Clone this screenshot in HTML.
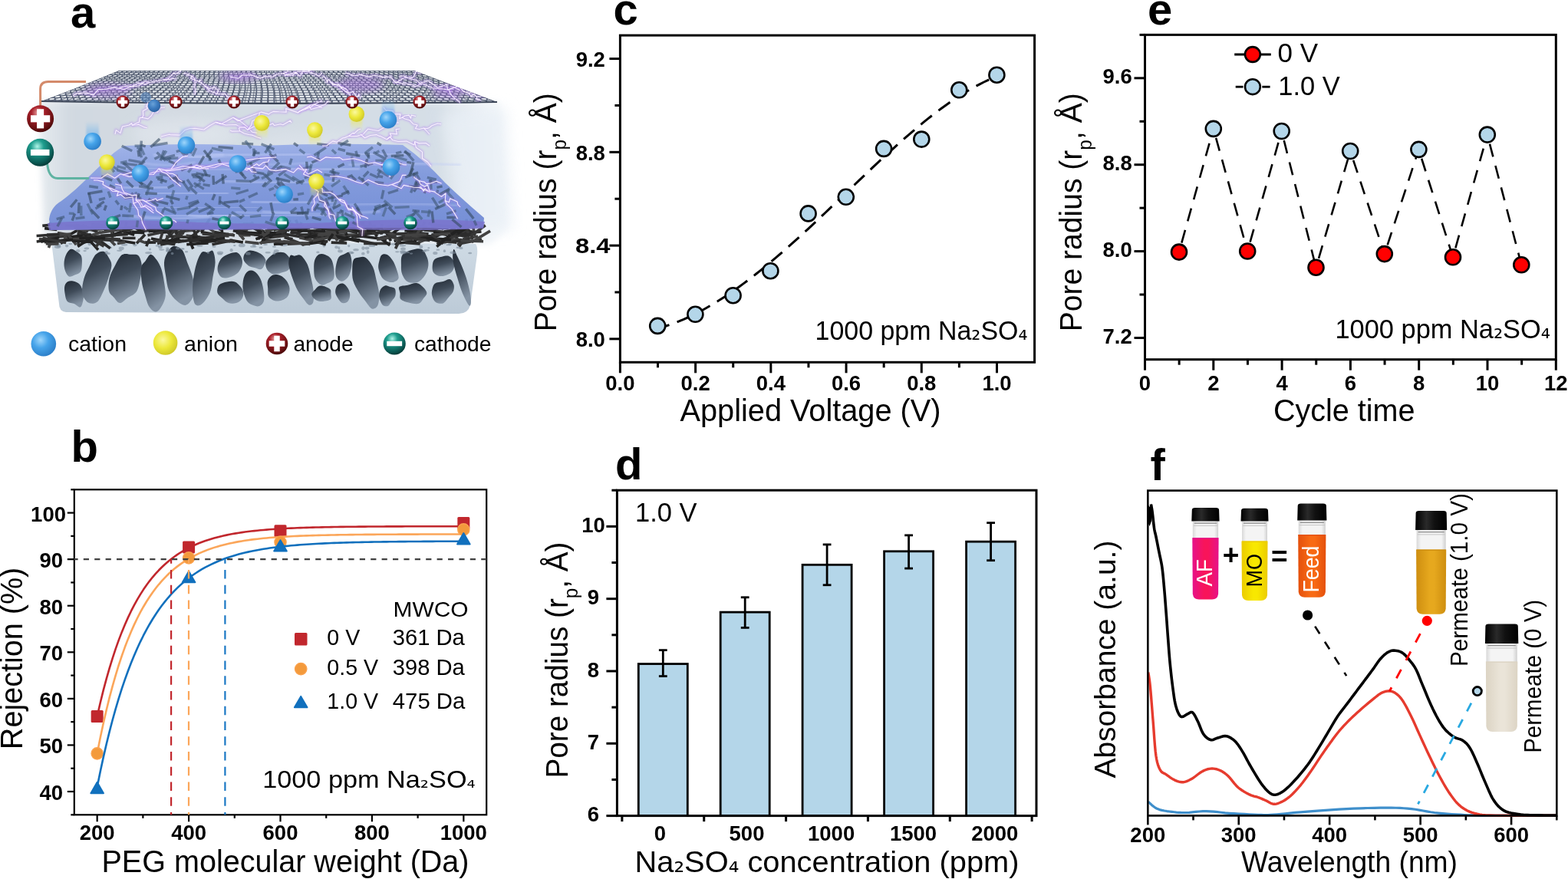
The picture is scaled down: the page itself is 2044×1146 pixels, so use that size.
<!DOCTYPE html>
<html><head><meta charset="utf-8"><title>Figure</title>
<style>html,body{margin:0;padding:0;background:#fff;}svg{display:block;}</style></head>
<body>
<svg width="2044" height="1146" viewBox="0 0 2044 1146" font-family="'Liberation Sans', Arial, sans-serif">
<rect width="2044" height="1146" fill="#fff"/>
<text x="92" y="35.7" font-size="58" font-weight="bold" >a</text>
<text x="92.5" y="601.5" font-size="58" font-weight="bold" >b</text>
<text x="799.5" y="31.5" font-size="58" font-weight="bold" >c</text>
<text x="802" y="624.8" font-size="58" font-weight="bold" >d</text>
<text x="1496" y="31.5" font-size="58" font-weight="bold" >e</text>
<text x="1499.5" y="625.5" font-size="58" font-weight="bold" >f</text>
<line x1="808.4" y1="472.3" x2="808.4" y2="486.3" stroke="#000" stroke-width="3" stroke-linecap="butt" />
<line x1="857.51" y1="472.3" x2="857.51" y2="479.3" stroke="#000" stroke-width="3" stroke-linecap="butt" />
<line x1="906.62" y1="472.3" x2="906.62" y2="486.3" stroke="#000" stroke-width="3" stroke-linecap="butt" />
<line x1="955.73" y1="472.3" x2="955.73" y2="479.3" stroke="#000" stroke-width="3" stroke-linecap="butt" />
<line x1="1004.84" y1="472.3" x2="1004.84" y2="486.3" stroke="#000" stroke-width="3" stroke-linecap="butt" />
<line x1="1053.95" y1="472.3" x2="1053.95" y2="479.3" stroke="#000" stroke-width="3" stroke-linecap="butt" />
<line x1="1103.06" y1="472.3" x2="1103.06" y2="486.3" stroke="#000" stroke-width="3" stroke-linecap="butt" />
<line x1="1152.17" y1="472.3" x2="1152.17" y2="479.3" stroke="#000" stroke-width="3" stroke-linecap="butt" />
<line x1="1201.28" y1="472.3" x2="1201.28" y2="486.3" stroke="#000" stroke-width="3" stroke-linecap="butt" />
<line x1="1250.39" y1="472.3" x2="1250.39" y2="479.3" stroke="#000" stroke-width="3" stroke-linecap="butt" />
<line x1="1299.5" y1="472.3" x2="1299.5" y2="486.3" stroke="#000" stroke-width="3" stroke-linecap="butt" />
<line x1="794.4" y1="441.86" x2="808.4" y2="441.86" stroke="#000" stroke-width="3" stroke-linecap="butt" />
<line x1="801.4" y1="380.98" x2="808.4" y2="380.98" stroke="#000" stroke-width="3" stroke-linecap="butt" />
<line x1="794.4" y1="320.1" x2="808.4" y2="320.1" stroke="#000" stroke-width="3" stroke-linecap="butt" />
<line x1="801.4" y1="259.22" x2="808.4" y2="259.22" stroke="#000" stroke-width="3" stroke-linecap="butt" />
<line x1="794.4" y1="198.34" x2="808.4" y2="198.34" stroke="#000" stroke-width="3" stroke-linecap="butt" />
<line x1="801.4" y1="137.46" x2="808.4" y2="137.46" stroke="#000" stroke-width="3" stroke-linecap="butt" />
<line x1="794.4" y1="76.58" x2="808.4" y2="76.58" stroke="#000" stroke-width="3" stroke-linecap="butt" />
<rect x="808.4" y="46.1" width="540.2" height="426.2" fill="none" stroke="#000" stroke-width="3"/>
<text x="808.4" y="509.4" font-size="27.5" font-weight="bold" text-anchor="middle" >0.0</text>
<text x="906.62" y="509.4" font-size="27.5" font-weight="bold" text-anchor="middle" >0.2</text>
<text x="1004.84" y="509.4" font-size="27.5" font-weight="bold" text-anchor="middle" >0.4</text>
<text x="1103.06" y="509.4" font-size="27.5" font-weight="bold" text-anchor="middle" >0.6</text>
<text x="1201.28" y="509.4" font-size="27.5" font-weight="bold" text-anchor="middle" >0.8</text>
<text x="1299.5" y="509.4" font-size="27.5" font-weight="bold" text-anchor="middle" >1.0</text>
<text x="788.9" y="452.06" font-size="27.5" font-weight="bold" text-anchor="end" >8.0</text>
<text x="788.9" y="208.54" font-size="27.5" font-weight="bold" text-anchor="end" >8.8</text>
<text x="788.9" y="86.78" font-size="27.5" font-weight="bold" text-anchor="end" >9.2</text>
<text x="750" y="330.3" font-size="27.5" font-weight="bold" textLength="45.5" lengthAdjust="spacingAndGlyphs" >8.4</text>
<text x="886.5" y="548.8" font-size="40" textLength="340" lengthAdjust="spacingAndGlyphs" >Applied Voltage (V)</text>
<text transform="translate(725.4,432.2) rotate(-90)" font-size="40" textLength="311" lengthAdjust="spacingAndGlyphs">Pore radius (r<tspan font-size="25" dy="13">p</tspan><tspan dy="-13">, Å)</tspan></text>
<path d="M857,428.3 L862.6,426.74 L868.2,425.01 L873.8,423.13 L879.4,421.09 L885,418.9 L890.6,416.56 L896.2,414.07 L901.8,411.45 L907.4,408.68 L913,405.77 L918.6,402.73 L924.2,399.56 L929.8,396.26 L935.4,392.84 L941,389.3 L946.6,385.64 L952.2,381.87 L957.8,377.98 L963.4,373.99 L969,369.9 L974.6,365.71 L980.2,361.43 L985.8,357.05 L991.4,352.58 L997,348.03 L1002.6,343.4 L1008.2,338.7 L1013.8,333.92 L1019.4,329.07 L1025,324.16 L1030.6,319.19 L1036.2,314.16 L1041.8,309.08 L1047.4,303.95 L1053,298.78 L1058.6,293.56 L1064.2,288.32 L1069.8,283.04 L1075.4,277.74 L1081,272.41 L1086.6,267.07 L1092.2,261.71 L1097.8,256.34 L1103.4,250.98 L1109,245.61 L1114.6,240.25 L1120.2,234.89 L1125.8,229.56 L1131.4,224.24 L1137,218.95 L1142.6,213.69 L1148.2,208.46 L1153.8,203.27 L1159.4,198.13 L1165,193.04 L1170.6,188 L1176.2,183.02 L1181.8,178.11 L1187.4,173.26 L1193,168.5 L1198.6,163.81 L1204.2,159.21 L1209.8,154.7 L1215.4,150.29 L1221,145.99 L1226.6,141.79 L1232.2,137.7 L1237.8,133.74 L1243.4,129.89 L1249,126.19 L1254.6,122.61 L1260.2,119.18 L1265.8,115.9 L1271.4,112.77 L1277,109.8 L1282.6,107 L1288.2,104.37 L1293.8,101.92 L1299.4,99.65" fill="none" stroke="#000" stroke-width="3" stroke-linejoin="round" stroke-dasharray="18.5 10.86" stroke-dashoffset="2.36"/>
<circle cx="857.2" cy="424.9" r="10" fill="#B4D6E9" stroke="#000" stroke-width="2.6" />
<circle cx="906.4" cy="409.8" r="10" fill="#B4D6E9" stroke="#000" stroke-width="2.6" />
<circle cx="955.6" cy="385.2" r="10" fill="#B4D6E9" stroke="#000" stroke-width="2.6" />
<circle cx="1004.4" cy="353.2" r="10" fill="#B4D6E9" stroke="#000" stroke-width="2.6" />
<circle cx="1053.6" cy="278.4" r="10" fill="#B4D6E9" stroke="#000" stroke-width="2.6" />
<circle cx="1102.8" cy="256.8" r="10" fill="#B4D6E9" stroke="#000" stroke-width="2.6" />
<circle cx="1152.1" cy="193.9" r="10" fill="#B4D6E9" stroke="#000" stroke-width="2.6" />
<circle cx="1201.3" cy="181.6" r="10" fill="#B4D6E9" stroke="#000" stroke-width="2.6" />
<circle cx="1250.3" cy="117.3" r="10" fill="#B4D6E9" stroke="#000" stroke-width="2.6" />
<circle cx="1299.4" cy="97.7" r="10" fill="#B4D6E9" stroke="#000" stroke-width="2.6" />
<text x="1062.5" y="443.3" font-size="35" textLength="277" lengthAdjust="spacingAndGlyphs">1000 ppm Na<tspan font-family="DejaVu Sans" font-size="31">₂</tspan><tspan>SO</tspan><tspan font-family="DejaVu Sans" font-size="31">₄</tspan></text>
<line x1="1492.5" y1="468.7" x2="1492.5" y2="482.7" stroke="#000" stroke-width="3" stroke-linecap="butt" />
<line x1="1537.15" y1="468.7" x2="1537.15" y2="475.7" stroke="#000" stroke-width="3" stroke-linecap="butt" />
<line x1="1581.8" y1="468.7" x2="1581.8" y2="482.7" stroke="#000" stroke-width="3" stroke-linecap="butt" />
<line x1="1626.45" y1="468.7" x2="1626.45" y2="475.7" stroke="#000" stroke-width="3" stroke-linecap="butt" />
<line x1="1671.1" y1="468.7" x2="1671.1" y2="482.7" stroke="#000" stroke-width="3" stroke-linecap="butt" />
<line x1="1715.75" y1="468.7" x2="1715.75" y2="475.7" stroke="#000" stroke-width="3" stroke-linecap="butt" />
<line x1="1760.4" y1="468.7" x2="1760.4" y2="482.7" stroke="#000" stroke-width="3" stroke-linecap="butt" />
<line x1="1805.05" y1="468.7" x2="1805.05" y2="475.7" stroke="#000" stroke-width="3" stroke-linecap="butt" />
<line x1="1849.7" y1="468.7" x2="1849.7" y2="482.7" stroke="#000" stroke-width="3" stroke-linecap="butt" />
<line x1="1894.35" y1="468.7" x2="1894.35" y2="475.7" stroke="#000" stroke-width="3" stroke-linecap="butt" />
<line x1="1939" y1="468.7" x2="1939" y2="482.7" stroke="#000" stroke-width="3" stroke-linecap="butt" />
<line x1="1983.65" y1="468.7" x2="1983.65" y2="475.7" stroke="#000" stroke-width="3" stroke-linecap="butt" />
<line x1="2028.3" y1="468.7" x2="2028.3" y2="482.7" stroke="#000" stroke-width="3" stroke-linecap="butt" />
<line x1="1478.5" y1="440.48" x2="1492.5" y2="440.48" stroke="#000" stroke-width="3" stroke-linecap="butt" />
<line x1="1485.5" y1="384.04" x2="1492.5" y2="384.04" stroke="#000" stroke-width="3" stroke-linecap="butt" />
<line x1="1478.5" y1="327.6" x2="1492.5" y2="327.6" stroke="#000" stroke-width="3" stroke-linecap="butt" />
<line x1="1485.5" y1="271.16" x2="1492.5" y2="271.16" stroke="#000" stroke-width="3" stroke-linecap="butt" />
<line x1="1478.5" y1="214.72" x2="1492.5" y2="214.72" stroke="#000" stroke-width="3" stroke-linecap="butt" />
<line x1="1485.5" y1="158.28" x2="1492.5" y2="158.28" stroke="#000" stroke-width="3" stroke-linecap="butt" />
<line x1="1478.5" y1="101.84" x2="1492.5" y2="101.84" stroke="#000" stroke-width="3" stroke-linecap="butt" />
<line x1="1485.5" y1="45.4" x2="1492.5" y2="45.4" stroke="#000" stroke-width="3" stroke-linecap="butt" />
<rect x="1492.5" y="45.4" width="535.8" height="423.3" fill="none" stroke="#000" stroke-width="3"/>
<text x="1492.5" y="509.3" font-size="27.5" font-weight="bold" text-anchor="middle" >0</text>
<text x="1581.8" y="509.3" font-size="27.5" font-weight="bold" text-anchor="middle" >2</text>
<text x="1671.1" y="509.3" font-size="27.5" font-weight="bold" text-anchor="middle" >4</text>
<text x="1760.4" y="509.3" font-size="27.5" font-weight="bold" text-anchor="middle" >6</text>
<text x="1849.7" y="509.3" font-size="27.5" font-weight="bold" text-anchor="middle" >8</text>
<text x="1939" y="509.3" font-size="27.5" font-weight="bold" text-anchor="middle" >10</text>
<text x="2028.3" y="509.3" font-size="27.5" font-weight="bold" text-anchor="middle" >12</text>
<text x="1475.8" y="447.88" font-size="27.5" font-weight="bold" text-anchor="end" >7.2</text>
<text x="1475.8" y="335" font-size="27.5" font-weight="bold" text-anchor="end" >8.0</text>
<text x="1475.8" y="222.12" font-size="27.5" font-weight="bold" text-anchor="end" >8.8</text>
<text x="1475.8" y="109.24" font-size="27.5" font-weight="bold" text-anchor="end" >9.6</text>
<text x="1660" y="548.8" font-size="40" textLength="184.5" lengthAdjust="spacingAndGlyphs" >Cycle time</text>
<text transform="translate(1409.6,432.3) rotate(-90)" font-size="40" textLength="311" lengthAdjust="spacingAndGlyphs">Pore radius (r<tspan font-size="25" dy="13">p</tspan><tspan dy="-13">, Å)</tspan></text>
<line x1="1537" y1="328.6" x2="1581.8" y2="167.9" stroke="#000" stroke-width="2.6" stroke-linecap="butt" stroke-dasharray="17.3 12.07" stroke-dashoffset="16.94"/>
<line x1="1581.8" y1="167.9" x2="1626.2" y2="327.5" stroke="#000" stroke-width="2.6" stroke-linecap="butt" stroke-dasharray="17.3 12.07" stroke-dashoffset="16.94"/>
<line x1="1626.2" y1="327.5" x2="1670.7" y2="171" stroke="#000" stroke-width="2.6" stroke-linecap="butt" stroke-dasharray="17.3 12.07" stroke-dashoffset="16.94"/>
<line x1="1670.7" y1="171" x2="1715.5" y2="348.7" stroke="#000" stroke-width="2.6" stroke-linecap="butt" stroke-dasharray="17.3 12.07" stroke-dashoffset="16.94"/>
<line x1="1715.5" y1="348.7" x2="1760.2" y2="197" stroke="#000" stroke-width="2.6" stroke-linecap="butt" stroke-dasharray="17.3 12.07" stroke-dashoffset="16.94"/>
<line x1="1760.2" y1="197" x2="1804.8" y2="331.1" stroke="#000" stroke-width="2.6" stroke-linecap="butt" stroke-dasharray="17.3 12.07" stroke-dashoffset="16.94"/>
<line x1="1804.8" y1="331.1" x2="1849.4" y2="194.9" stroke="#000" stroke-width="2.6" stroke-linecap="butt" stroke-dasharray="17.3 12.07" stroke-dashoffset="16.94"/>
<line x1="1849.4" y1="194.9" x2="1894" y2="335.3" stroke="#000" stroke-width="2.6" stroke-linecap="butt" stroke-dasharray="17.3 12.07" stroke-dashoffset="16.94"/>
<line x1="1894" y1="335.3" x2="1938.8" y2="175.6" stroke="#000" stroke-width="2.6" stroke-linecap="butt" stroke-dasharray="17.3 12.07" stroke-dashoffset="16.94"/>
<line x1="1938.8" y1="175.6" x2="1983.3" y2="345.3" stroke="#000" stroke-width="2.6" stroke-linecap="butt" stroke-dasharray="17.3 12.07" stroke-dashoffset="16.94"/>
<circle cx="1537" cy="328.6" r="10" fill="#FF0000" stroke="#000" stroke-width="2.6" />
<circle cx="1581.8" cy="167.9" r="10" fill="#B4D6E9" stroke="#000" stroke-width="2.6" />
<circle cx="1626.2" cy="327.5" r="10" fill="#FF0000" stroke="#000" stroke-width="2.6" />
<circle cx="1670.7" cy="171" r="10" fill="#B4D6E9" stroke="#000" stroke-width="2.6" />
<circle cx="1715.5" cy="348.7" r="10" fill="#FF0000" stroke="#000" stroke-width="2.6" />
<circle cx="1760.2" cy="197" r="10" fill="#B4D6E9" stroke="#000" stroke-width="2.6" />
<circle cx="1804.8" cy="331.1" r="10" fill="#FF0000" stroke="#000" stroke-width="2.6" />
<circle cx="1849.4" cy="194.9" r="10" fill="#B4D6E9" stroke="#000" stroke-width="2.6" />
<circle cx="1894" cy="335.3" r="10" fill="#FF0000" stroke="#000" stroke-width="2.6" />
<circle cx="1938.8" cy="175.6" r="10" fill="#B4D6E9" stroke="#000" stroke-width="2.6" />
<circle cx="1983.3" cy="345.3" r="10" fill="#FF0000" stroke="#000" stroke-width="2.6" />
<line x1="1609.2" y1="71" x2="1656.8" y2="71" stroke="#000" stroke-width="2.8" stroke-linecap="butt" />
<circle cx="1632.9" cy="71" r="9.9" fill="#FF0000" stroke="#000" stroke-width="2.6" />
<line x1="1610.7" y1="113.2" x2="1620.5" y2="113.2" stroke="#000" stroke-width="2.8" stroke-linecap="butt" />
<line x1="1645.3" y1="113.2" x2="1655.6" y2="113.2" stroke="#000" stroke-width="2.8" stroke-linecap="butt" />
<circle cx="1632.9" cy="113.2" r="9.9" fill="#B4D6E9" stroke="#000" stroke-width="2.6" />
<text x="1665.6" y="80.5" font-size="34.5" textLength="52.5" lengthAdjust="spacingAndGlyphs" >0 V</text>
<text x="1666.3" y="124" font-size="34.5" textLength="80.5" lengthAdjust="spacingAndGlyphs" >1.0 V</text>
<text x="1740.5" y="440.5" font-size="35" textLength="280.5" lengthAdjust="spacingAndGlyphs">1000 ppm Na<tspan font-family="DejaVu Sans" font-size="31">₂</tspan><tspan>SO</tspan><tspan font-family="DejaVu Sans" font-size="31">₄</tspan></text>
<line x1="810.88" y1="1063.6" x2="810.88" y2="1071.1" stroke="#000" stroke-width="3" stroke-linecap="butt" />
<line x1="917.73" y1="1063.6" x2="917.73" y2="1071.1" stroke="#000" stroke-width="3" stroke-linecap="butt" />
<line x1="1024.58" y1="1063.6" x2="1024.58" y2="1071.1" stroke="#000" stroke-width="3" stroke-linecap="butt" />
<line x1="1131.42" y1="1063.6" x2="1131.42" y2="1071.1" stroke="#000" stroke-width="3" stroke-linecap="butt" />
<line x1="1238.28" y1="1063.6" x2="1238.28" y2="1071.1" stroke="#000" stroke-width="3" stroke-linecap="butt" />
<line x1="1345.12" y1="1063.6" x2="1345.12" y2="1071.1" stroke="#000" stroke-width="3" stroke-linecap="butt" />
<line x1="790.4" y1="1063.6" x2="804.4" y2="1063.6" stroke="#000" stroke-width="3" stroke-linecap="butt" />
<line x1="797.4" y1="1016.44" x2="804.4" y2="1016.44" stroke="#000" stroke-width="3" stroke-linecap="butt" />
<line x1="790.4" y1="969.29" x2="804.4" y2="969.29" stroke="#000" stroke-width="3" stroke-linecap="butt" />
<line x1="797.4" y1="922.13" x2="804.4" y2="922.13" stroke="#000" stroke-width="3" stroke-linecap="butt" />
<line x1="790.4" y1="874.98" x2="804.4" y2="874.98" stroke="#000" stroke-width="3" stroke-linecap="butt" />
<line x1="797.4" y1="827.82" x2="804.4" y2="827.82" stroke="#000" stroke-width="3" stroke-linecap="butt" />
<line x1="790.4" y1="780.67" x2="804.4" y2="780.67" stroke="#000" stroke-width="3" stroke-linecap="butt" />
<line x1="797.4" y1="733.51" x2="804.4" y2="733.51" stroke="#000" stroke-width="3" stroke-linecap="butt" />
<line x1="790.4" y1="686.36" x2="804.4" y2="686.36" stroke="#000" stroke-width="3" stroke-linecap="butt" />
<line x1="797.4" y1="639.2" x2="804.4" y2="639.2" stroke="#000" stroke-width="3" stroke-linecap="butt" />
<rect x="832.3" y="865.55" width="64" height="198.05" fill="#B4D6E9" stroke="#000" stroke-width="2.8"/>
<rect x="939.2" y="798.11" width="64" height="265.49" fill="#B4D6E9" stroke="#000" stroke-width="2.8"/>
<rect x="1046.1" y="736.34" width="64" height="327.26" fill="#B4D6E9" stroke="#000" stroke-width="2.8"/>
<rect x="1152.6" y="718.8" width="64" height="344.8" fill="#B4D6E9" stroke="#000" stroke-width="2.8"/>
<rect x="1259.6" y="706.16" width="64" height="357.44" fill="#B4D6E9" stroke="#000" stroke-width="2.8"/>
<line x1="864.3" y1="847.63" x2="864.3" y2="881.58" stroke="#000" stroke-width="2.8" stroke-linecap="butt" />
<line x1="858.9" y1="847.63" x2="869.7" y2="847.63" stroke="#000" stroke-width="2.8" stroke-linecap="butt" />
<line x1="858.9" y1="881.58" x2="869.7" y2="881.58" stroke="#000" stroke-width="2.8" stroke-linecap="butt" />
<line x1="971.2" y1="778.78" x2="971.2" y2="818.39" stroke="#000" stroke-width="2.8" stroke-linecap="butt" />
<line x1="965.8" y1="778.78" x2="976.6" y2="778.78" stroke="#000" stroke-width="2.8" stroke-linecap="butt" />
<line x1="965.8" y1="818.39" x2="976.6" y2="818.39" stroke="#000" stroke-width="2.8" stroke-linecap="butt" />
<line x1="1078.1" y1="709.93" x2="1078.1" y2="762.75" stroke="#000" stroke-width="2.8" stroke-linecap="butt" />
<line x1="1072.7" y1="709.93" x2="1083.5" y2="709.93" stroke="#000" stroke-width="2.8" stroke-linecap="butt" />
<line x1="1072.7" y1="762.75" x2="1083.5" y2="762.75" stroke="#000" stroke-width="2.8" stroke-linecap="butt" />
<line x1="1184.6" y1="697.86" x2="1184.6" y2="741.06" stroke="#000" stroke-width="2.8" stroke-linecap="butt" />
<line x1="1179.2" y1="697.86" x2="1190" y2="697.86" stroke="#000" stroke-width="2.8" stroke-linecap="butt" />
<line x1="1179.2" y1="741.06" x2="1190" y2="741.06" stroke="#000" stroke-width="2.8" stroke-linecap="butt" />
<line x1="1291.6" y1="681.64" x2="1291.6" y2="730.68" stroke="#000" stroke-width="2.8" stroke-linecap="butt" />
<line x1="1286.2" y1="681.64" x2="1297" y2="681.64" stroke="#000" stroke-width="2.8" stroke-linecap="butt" />
<line x1="1286.2" y1="730.68" x2="1297" y2="730.68" stroke="#000" stroke-width="2.8" stroke-linecap="butt" />
<rect x="804.4" y="639.2" width="546.6" height="424.4" fill="none" stroke="#000" stroke-width="3"/>
<text x="860.5" y="1096" font-size="27.5" font-weight="bold" text-anchor="middle" >0</text>
<text x="973.5" y="1096" font-size="27.5" font-weight="bold" text-anchor="middle" >500</text>
<text x="1083.6" y="1096" font-size="27.5" font-weight="bold" text-anchor="middle" >1000</text>
<text x="1190.5" y="1096" font-size="27.5" font-weight="bold" text-anchor="middle" >1500</text>
<text x="1296.8" y="1096" font-size="27.5" font-weight="bold" text-anchor="middle" >2000</text>
<text x="773.5" y="1071.2" font-size="27.5" font-weight="bold" text-anchor="middle" >6</text>
<text x="773.5" y="976.89" font-size="27.5" font-weight="bold" text-anchor="middle" >7</text>
<text x="773.5" y="882.58" font-size="27.5" font-weight="bold" text-anchor="middle" >8</text>
<text x="773.5" y="788.27" font-size="27.5" font-weight="bold" text-anchor="middle" >9</text>
<text x="773.5" y="693.96" font-size="27.5" font-weight="bold" text-anchor="middle" >10</text>
<text x="828" y="679.7" font-size="34.5" textLength="80.5" lengthAdjust="spacingAndGlyphs" >1.0 V</text>
<text x="827.5" y="1137.2" font-size="39" textLength="501" lengthAdjust="spacingAndGlyphs">Na<tspan font-family="DejaVu Sans" font-size="33.5">₂</tspan><tspan>SO</tspan><tspan font-family="DejaVu Sans" font-size="33.5">₄</tspan><tspan> concentration (ppm)</tspan></text>
<text transform="translate(739.8,1014.5) rotate(-90)" font-size="40" textLength="308" lengthAdjust="spacingAndGlyphs">Pore radius (r<tspan font-size="25" dy="13">p</tspan><tspan dy="-13">, Å)</tspan></text>
<line x1="126.66" y1="1062.3" x2="126.66" y2="1071.3" stroke="#000" stroke-width="2.2" stroke-linecap="butt" />
<line x1="186.37" y1="1062.3" x2="186.37" y2="1066.8" stroke="#000" stroke-width="2.2" stroke-linecap="butt" />
<line x1="246.08" y1="1062.3" x2="246.08" y2="1071.3" stroke="#000" stroke-width="2.2" stroke-linecap="butt" />
<line x1="305.79" y1="1062.3" x2="305.79" y2="1066.8" stroke="#000" stroke-width="2.2" stroke-linecap="butt" />
<line x1="365.5" y1="1062.3" x2="365.5" y2="1071.3" stroke="#000" stroke-width="2.2" stroke-linecap="butt" />
<line x1="425.21" y1="1062.3" x2="425.21" y2="1066.8" stroke="#000" stroke-width="2.2" stroke-linecap="butt" />
<line x1="484.92" y1="1062.3" x2="484.92" y2="1071.3" stroke="#000" stroke-width="2.2" stroke-linecap="butt" />
<line x1="544.63" y1="1062.3" x2="544.63" y2="1066.8" stroke="#000" stroke-width="2.2" stroke-linecap="butt" />
<line x1="604.34" y1="1062.3" x2="604.34" y2="1071.3" stroke="#000" stroke-width="2.2" stroke-linecap="butt" />
<line x1="92.3" y1="1062.3" x2="96.8" y2="1062.3" stroke="#000" stroke-width="2.2" stroke-linecap="butt" />
<line x1="87.8" y1="1032.01" x2="96.8" y2="1032.01" stroke="#000" stroke-width="2.2" stroke-linecap="butt" />
<line x1="92.3" y1="1001.73" x2="96.8" y2="1001.73" stroke="#000" stroke-width="2.2" stroke-linecap="butt" />
<line x1="87.8" y1="971.44" x2="96.8" y2="971.44" stroke="#000" stroke-width="2.2" stroke-linecap="butt" />
<line x1="92.3" y1="941.16" x2="96.8" y2="941.16" stroke="#000" stroke-width="2.2" stroke-linecap="butt" />
<line x1="87.8" y1="910.87" x2="96.8" y2="910.87" stroke="#000" stroke-width="2.2" stroke-linecap="butt" />
<line x1="92.3" y1="880.59" x2="96.8" y2="880.59" stroke="#000" stroke-width="2.2" stroke-linecap="butt" />
<line x1="87.8" y1="850.3" x2="96.8" y2="850.3" stroke="#000" stroke-width="2.2" stroke-linecap="butt" />
<line x1="92.3" y1="820.01" x2="96.8" y2="820.01" stroke="#000" stroke-width="2.2" stroke-linecap="butt" />
<line x1="87.8" y1="789.73" x2="96.8" y2="789.73" stroke="#000" stroke-width="2.2" stroke-linecap="butt" />
<line x1="92.3" y1="759.44" x2="96.8" y2="759.44" stroke="#000" stroke-width="2.2" stroke-linecap="butt" />
<line x1="87.8" y1="729.16" x2="96.8" y2="729.16" stroke="#000" stroke-width="2.2" stroke-linecap="butt" />
<line x1="92.3" y1="698.87" x2="96.8" y2="698.87" stroke="#000" stroke-width="2.2" stroke-linecap="butt" />
<line x1="87.8" y1="668.59" x2="96.8" y2="668.59" stroke="#000" stroke-width="2.2" stroke-linecap="butt" />
<line x1="92.3" y1="638.3" x2="96.8" y2="638.3" stroke="#000" stroke-width="2.2" stroke-linecap="butt" />
<rect x="96.8" y="638.3" width="537.4" height="424" fill="none" stroke="#000" stroke-width="2.2"/>
<text x="126.66" y="1094.8" font-size="27.5" font-weight="bold" text-anchor="middle" >200</text>
<text x="246.08" y="1094.8" font-size="27.5" font-weight="bold" text-anchor="middle" >400</text>
<text x="365.5" y="1094.8" font-size="27.5" font-weight="bold" text-anchor="middle" >600</text>
<text x="484.92" y="1094.8" font-size="27.5" font-weight="bold" text-anchor="middle" >800</text>
<text x="604.34" y="1094.8" font-size="27.5" font-weight="bold" text-anchor="middle" >1000</text>
<text x="82.1" y="1043.01" font-size="27.5" font-weight="bold" text-anchor="end" >40</text>
<text x="82.1" y="982.44" font-size="27.5" font-weight="bold" text-anchor="end" >50</text>
<text x="82.1" y="921.87" font-size="27.5" font-weight="bold" text-anchor="end" >60</text>
<text x="82.1" y="861.3" font-size="27.5" font-weight="bold" text-anchor="end" >70</text>
<text x="82.1" y="800.73" font-size="27.5" font-weight="bold" text-anchor="end" >80</text>
<text x="82.1" y="740.16" font-size="27.5" font-weight="bold" text-anchor="end" >90</text>
<text x="86" y="679.59" font-size="27.5" font-weight="bold" text-anchor="end" >100</text>
<text x="132.5" y="1137" font-size="40" textLength="479" lengthAdjust="spacingAndGlyphs" >PEG molecular weight (Da)</text>
<text transform="translate(28.7,977.2) rotate(-90)" font-size="40" textLength="237.5" lengthAdjust="spacingAndGlyphs" >Rejection (%)</text>
<path d="M126.66,933.89 L130.67,916.42 L134.68,900.17 L138.7,885.08 L142.71,871.05 L146.73,858.01 L150.74,845.89 L154.75,834.62 L158.77,824.15 L162.78,814.41 L166.8,805.37 L170.81,796.96 L174.83,789.14 L178.84,781.88 L182.85,775.13 L186.87,768.85 L190.88,763.02 L194.9,757.6 L198.91,752.56 L202.93,747.87 L206.94,743.52 L210.95,739.47 L214.97,735.71 L218.98,732.22 L223,728.97 L227.01,725.95 L231.02,723.14 L235.04,720.53 L239.05,718.11 L243.07,715.85 L247.08,713.76 L251.1,711.81 L255.11,710 L259.12,708.32 L263.14,706.76 L267.15,705.3 L271.17,703.95 L275.18,702.7 L279.19,701.53 L283.21,700.44 L287.22,699.44 L291.24,698.5 L295.25,697.63 L299.27,696.82 L303.28,696.07 L307.29,695.37 L311.31,694.72 L315.32,694.11 L319.34,693.55 L323.35,693.03 L327.37,692.54 L331.38,692.09 L335.39,691.67 L339.41,691.28 L343.42,690.92 L347.44,690.59 L351.45,690.27 L355.46,689.98 L359.48,689.71 L363.49,689.46 L367.51,689.23 L371.52,689.01 L375.54,688.81 L379.55,688.62 L383.56,688.45 L387.58,688.29 L391.59,688.14 L395.61,688 L399.62,687.87 L403.63,687.74 L407.65,687.63 L411.66,687.53 L415.68,687.43 L419.69,687.34 L423.71,687.26 L427.72,687.18 L431.73,687.11 L435.75,687.04 L439.76,686.98 L443.78,686.92 L447.79,686.86 L451.81,686.81 L455.82,686.77 L459.83,686.72 L463.85,686.68 L467.86,686.65 L471.88,686.61 L475.89,686.58 L479.9,686.55 L483.92,686.52 L487.93,686.49 L491.95,686.47 L495.96,686.45 L499.98,686.43 L503.99,686.41 L508,686.39 L512.02,686.37 L516.03,686.36 L520.05,686.34 L524.06,686.33 L528.07,686.32 L532.09,686.3 L536.1,686.29 L540.12,686.28 L544.13,686.27 L548.15,686.27 L552.16,686.26 L556.17,686.25 L560.19,686.24 L564.2,686.24 L568.22,686.23 L572.23,686.23 L576.25,686.22 L580.26,686.22 L584.27,686.21 L588.29,686.21 L592.3,686.2 L596.32,686.2 L600.33,686.2 L604.34,686.19" fill="none" stroke="#C1272D" stroke-width="2.6" stroke-linejoin="round" />
<rect x="118.66" y="925.89" width="16" height="16" fill="#C1272D" rx="1.5"/>
<rect x="238.08" y="705.41" width="16" height="16" fill="#C1272D" rx="1.5"/>
<rect x="357.5" y="684.21" width="16" height="16" fill="#C1272D" rx="1.5"/>
<rect x="596.34" y="673.91" width="16" height="16" fill="#C1272D" rx="1.5"/>
<path d="M126.66,982.35 L130.67,962.06 L134.68,943.21 L138.7,925.69 L142.71,909.42 L146.73,894.31 L150.74,880.27 L154.75,867.22 L158.77,855.1 L162.78,843.84 L166.8,833.38 L170.81,823.66 L174.83,814.64 L178.84,806.25 L182.85,798.46 L186.87,791.22 L190.88,784.49 L194.9,778.24 L198.91,772.44 L202.93,767.04 L206.94,762.03 L210.95,757.38 L214.97,753.06 L218.98,749.04 L223,745.31 L227.01,741.84 L231.02,738.62 L235.04,735.62 L239.05,732.84 L243.07,730.26 L247.08,727.86 L251.1,725.63 L255.11,723.56 L259.12,721.64 L263.14,719.85 L267.15,718.19 L271.17,716.65 L275.18,715.21 L279.19,713.88 L283.21,712.64 L287.22,711.49 L291.24,710.43 L295.25,709.43 L299.27,708.51 L303.28,707.66 L307.29,706.86 L311.31,706.12 L315.32,705.44 L319.34,704.8 L323.35,704.21 L327.37,703.65 L331.38,703.14 L335.39,702.67 L339.41,702.23 L343.42,701.82 L347.44,701.44 L351.45,701.08 L355.46,700.75 L359.48,700.45 L363.49,700.16 L367.51,699.9 L371.52,699.66 L375.54,699.43 L379.55,699.22 L383.56,699.02 L387.58,698.84 L391.59,698.67 L395.61,698.51 L399.62,698.36 L403.63,698.23 L407.65,698.1 L411.66,697.98 L415.68,697.88 L419.69,697.77 L423.71,697.68 L427.72,697.59 L431.73,697.51 L435.75,697.44 L439.76,697.37 L443.78,697.3 L447.79,697.24 L451.81,697.18 L455.82,697.13 L459.83,697.08 L463.85,697.04 L467.86,697 L471.88,696.96 L475.89,696.92 L479.9,696.89 L483.92,696.86 L487.93,696.83 L491.95,696.8 L495.96,696.78 L499.98,696.75 L503.99,696.73 L508,696.71 L512.02,696.69 L516.03,696.68 L520.05,696.66 L524.06,696.64 L528.07,696.63 L532.09,696.62 L536.1,696.61 L540.12,696.59 L544.13,696.58 L548.15,696.57 L552.16,696.57 L556.17,696.56 L560.19,696.55 L564.2,696.54 L568.22,696.54 L572.23,696.53 L576.25,696.52 L580.26,696.52 L584.27,696.51 L588.29,696.51 L592.3,696.5 L596.32,696.5 L600.33,696.5 L604.34,696.49" fill="none" stroke="#FBA65A" stroke-width="2.6" stroke-linejoin="round" />
<circle cx="126.66" cy="982.35" r="7.6" fill="#F39A3C" stroke="#FBA24E" stroke-width="1.4" />
<circle cx="246.08" cy="727.34" r="7.6" fill="#F39A3C" stroke="#FBA24E" stroke-width="1.4" />
<circle cx="365.5" cy="706.75" r="7.6" fill="#F39A3C" stroke="#FBA24E" stroke-width="1.4" />
<circle cx="604.34" cy="690.39" r="7.6" fill="#F39A3C" stroke="#FBA24E" stroke-width="1.4" />
<path d="M126.66,1025.96 L130.67,1006.17 L134.68,987.61 L138.7,970.19 L142.71,953.85 L146.73,938.52 L150.74,924.14 L154.75,910.64 L158.77,897.98 L162.78,886.09 L166.8,874.95 L170.81,864.49 L174.83,854.67 L178.84,845.46 L182.85,836.82 L186.87,828.72 L190.88,821.11 L194.9,813.98 L198.91,807.28 L202.93,801 L206.94,795.1 L210.95,789.57 L214.97,784.39 L218.98,779.52 L223,774.95 L227.01,770.66 L231.02,766.64 L235.04,762.87 L239.05,759.33 L243.07,756.01 L247.08,752.89 L251.1,749.97 L255.11,747.22 L259.12,744.65 L263.14,742.23 L267.15,739.97 L271.17,737.84 L275.18,735.85 L279.19,733.98 L283.21,732.22 L287.22,730.57 L291.24,729.03 L295.25,727.58 L299.27,726.22 L303.28,724.94 L307.29,723.74 L311.31,722.62 L315.32,721.56 L319.34,720.57 L323.35,719.64 L327.37,718.77 L331.38,717.95 L335.39,717.19 L339.41,716.47 L343.42,715.79 L347.44,715.16 L351.45,714.57 L355.46,714.01 L359.48,713.48 L363.49,712.99 L367.51,712.53 L371.52,712.1 L375.54,711.7 L379.55,711.32 L383.56,710.96 L387.58,710.62 L391.59,710.31 L395.61,710.01 L399.62,709.74 L403.63,709.48 L407.65,709.23 L411.66,709.01 L415.68,708.79 L419.69,708.59 L423.71,708.4 L427.72,708.23 L431.73,708.06 L435.75,707.9 L439.76,707.76 L443.78,707.62 L447.79,707.49 L451.81,707.37 L455.82,707.26 L459.83,707.15 L463.85,707.05 L467.86,706.96 L471.88,706.87 L475.89,706.79 L479.9,706.71 L483.92,706.64 L487.93,706.57 L491.95,706.5 L495.96,706.44 L499.98,706.39 L503.99,706.34 L508,706.29 L512.02,706.24 L516.03,706.2 L520.05,706.16 L524.06,706.12 L528.07,706.08 L532.09,706.05 L536.1,706.02 L540.12,705.99 L544.13,705.96 L548.15,705.93 L552.16,705.91 L556.17,705.88 L560.19,705.86 L564.2,705.84 L568.22,705.82 L572.23,705.81 L576.25,705.79 L580.26,705.77 L584.27,705.76 L588.29,705.74 L592.3,705.73 L596.32,705.72 L600.33,705.71 L604.34,705.7" fill="none" stroke="#1170BD" stroke-width="2.6" stroke-linejoin="round" />
<path d="M126.66,1019.78 L134.96,1034.18 L118.36,1034.18 Z" fill="#1170BD" stroke="#1170BD" stroke-width="2" stroke-linejoin="round"/>
<path d="M246.08,744.79 L254.38,759.19 L237.78,759.19 Z" fill="#1170BD" stroke="#1170BD" stroke-width="2" stroke-linejoin="round"/>
<path d="M365.5,704.2 L373.8,718.6 L357.2,718.6 Z" fill="#1170BD" stroke="#1170BD" stroke-width="2" stroke-linejoin="round"/>
<path d="M604.34,695.12 L612.64,709.52 L596.04,709.52 Z" fill="#1170BD" stroke="#1170BD" stroke-width="2" stroke-linejoin="round"/>
<line x1="96.8" y1="729.16" x2="634.2" y2="729.16" stroke="#404040" stroke-width="2.4" stroke-linecap="butt" stroke-dasharray="7.2 7.2" stroke-dashoffset="2.4"/>
<line x1="223.1" y1="729.16" x2="223.1" y2="1062.3" stroke="#C1272D" stroke-width="2.2" stroke-linecap="butt" stroke-dasharray="11.5 8.25" stroke-dashoffset="6"/>
<line x1="246" y1="729.16" x2="246" y2="1062.3" stroke="#FBA65A" stroke-width="2.2" stroke-linecap="butt" stroke-dasharray="11.5 8.25" stroke-dashoffset="6"/>
<line x1="293.4" y1="729.16" x2="293.4" y2="1062.3" stroke="#1A78C4" stroke-width="2.2" stroke-linecap="butt" stroke-dasharray="11.5 8.25" stroke-dashoffset="6"/>
<text x="512.5" y="803.5" font-size="28.5" textLength="98" lengthAdjust="spacingAndGlyphs" >MWCO</text>
<rect x="384" y="825" width="16.5" height="16.5" fill="#C1272D" rx="1.5"/>
<circle cx="392.2" cy="872.1" r="7.7" fill="#F39A3C" stroke="#FBA24E" stroke-width="1.4" />
<path d="M392.2,907.9 L400.5,922.3 L383.9,922.3 Z" fill="#1170BD" stroke="#1170BD" stroke-width="2" stroke-linejoin="round"/>
<text x="426.3" y="840.8" font-size="28.6" >0 V</text>
<text x="511.8" y="840.8" font-size="28.6" textLength="94" lengthAdjust="spacingAndGlyphs" >361 Da</text>
<text x="426.3" y="880.4" font-size="28.6" >0.5 V</text>
<text x="511.8" y="880.4" font-size="28.6" textLength="94" lengthAdjust="spacingAndGlyphs" >398 Da</text>
<text x="426.3" y="924.4" font-size="28.6" >1.0 V</text>
<text x="511.8" y="924.4" font-size="28.6" textLength="94.5" lengthAdjust="spacingAndGlyphs" >475 Da</text>
<text x="342.2" y="1027" font-size="32" textLength="277.5" lengthAdjust="spacingAndGlyphs">1000 ppm Na<tspan font-family="DejaVu Sans" font-size="26">₂</tspan><tspan>SO</tspan><tspan font-family="DejaVu Sans" font-size="26">₄</tspan></text>
<line x1="1496.3" y1="1063.4" x2="1496.3" y2="1075.4" stroke="#000" stroke-width="2.6" stroke-linecap="butt" />
<line x1="1555.52" y1="1063.4" x2="1555.52" y2="1069.4" stroke="#000" stroke-width="2.6" stroke-linecap="butt" />
<line x1="1614.74" y1="1063.4" x2="1614.74" y2="1075.4" stroke="#000" stroke-width="2.6" stroke-linecap="butt" />
<line x1="1673.97" y1="1063.4" x2="1673.97" y2="1069.4" stroke="#000" stroke-width="2.6" stroke-linecap="butt" />
<line x1="1733.19" y1="1063.4" x2="1733.19" y2="1075.4" stroke="#000" stroke-width="2.6" stroke-linecap="butt" />
<line x1="1792.41" y1="1063.4" x2="1792.41" y2="1069.4" stroke="#000" stroke-width="2.6" stroke-linecap="butt" />
<line x1="1851.63" y1="1063.4" x2="1851.63" y2="1075.4" stroke="#000" stroke-width="2.6" stroke-linecap="butt" />
<line x1="1910.86" y1="1063.4" x2="1910.86" y2="1069.4" stroke="#000" stroke-width="2.6" stroke-linecap="butt" />
<line x1="1970.08" y1="1063.4" x2="1970.08" y2="1075.4" stroke="#000" stroke-width="2.6" stroke-linecap="butt" />
<line x1="2029.3" y1="1063.4" x2="2029.3" y2="1069.4" stroke="#000" stroke-width="2.6" stroke-linecap="butt" />
<text x="1496.3" y="1098.3" font-size="27.5" font-weight="bold" text-anchor="middle" >200</text>
<text x="1614.74" y="1098.3" font-size="27.5" font-weight="bold" text-anchor="middle" >300</text>
<text x="1733.19" y="1098.3" font-size="27.5" font-weight="bold" text-anchor="middle" >400</text>
<text x="1851.63" y="1098.3" font-size="27.5" font-weight="bold" text-anchor="middle" >500</text>
<text x="1970.08" y="1098.3" font-size="27.5" font-weight="bold" text-anchor="middle" >600</text>
<text x="1618" y="1136.5" font-size="38" textLength="282" lengthAdjust="spacingAndGlyphs" >Wavelength (nm)</text>
<text transform="translate(1454.2,1014.6) rotate(-90)" font-size="39.5" textLength="310" lengthAdjust="spacingAndGlyphs" >Absorbance (a.u.)</text>
<path d="M1496.8,1045.3 L1498.03,1046.38 L1499.66,1047.91 L1501.63,1049.71 L1503.86,1051.56 L1506.27,1053.26 L1508.8,1054.6 L1511.53,1055.58 L1514.53,1056.37 L1517.72,1057.01 L1521.01,1057.54 L1524.3,1057.99 L1527.5,1058.4 L1530.54,1058.77 L1533.48,1059.08 L1536.43,1059.31 L1539.47,1059.46 L1542.73,1059.52 L1546.3,1059.5 L1550.21,1059.3 L1554.37,1058.92 L1558.75,1058.45 L1563.28,1058 L1567.92,1057.69 L1572.6,1057.6 L1577.3,1057.79 L1582.05,1058.19 L1586.9,1058.71 L1591.91,1059.28 L1597.12,1059.84 L1602.6,1060.3 L1608.62,1060.7 L1615.2,1061.1 L1621.98,1061.47 L1628.63,1061.81 L1634.78,1062.1 L1640.1,1062.3 L1644.25,1062.44 L1647.45,1062.54 L1650.16,1062.59 L1652.85,1062.56 L1655.97,1062.43 L1660,1062.2 L1664.76,1061.83 L1669.85,1061.34 L1675.38,1060.76 L1681.45,1060.11 L1688.19,1059.45 L1695.7,1058.8 L1704.33,1058.12 L1714.06,1057.36 L1724.44,1056.58 L1735.06,1055.83 L1745.45,1055.15 L1755.2,1054.6 L1764.5,1054.16 L1773.73,1053.79 L1782.76,1053.49 L1791.41,1053.28 L1799.54,1053.15 L1807,1053.1 L1813.62,1053.14 L1819.5,1053.25 L1824.86,1053.45 L1829.92,1053.74 L1834.89,1054.12 L1840,1054.6 L1845.13,1055.25 L1850.07,1056.06 L1854.94,1056.97 L1859.81,1057.9 L1864.8,1058.77 L1870,1059.5 L1875.41,1060.09 L1880.96,1060.62 L1886.62,1061.08 L1892.37,1061.49 L1898.17,1061.86 L1904,1062.2 L1909.27,1062.5 L1913.89,1062.76 L1918.57,1062.97 L1924.01,1063.14 L1930.92,1063.29 L1940,1063.4 L1952.78,1063.47 L1969.01,1063.49 L1986.7,1063.48 L2003.89,1063.44 L2018.62,1063.41 L2028.9,1063.4" fill="none" stroke="#3F8FCB" stroke-width="3.2" stroke-linejoin="round" />
<path d="M1496.8,876.4 L1497.07,878.14 L1497.43,880.3 L1497.87,882.99 L1498.36,886.3 L1498.87,890.33 L1499.4,895.2 L1499.95,901.18 L1500.55,908.26 L1501.18,916.06 L1501.82,924.23 L1502.46,932.4 L1503.1,940.2 L1503.71,948 L1504.29,956.17 L1504.88,964.34 L1505.5,972.14 L1506.16,979.22 L1506.9,985.2 L1507.71,990 L1508.56,993.9 L1509.47,997.06 L1510.43,999.68 L1511.44,1001.93 L1512.5,1004 L1513.6,1005.68 L1514.72,1006.77 L1515.89,1007.51 L1517.15,1008.08 L1518.51,1008.71 L1520,1009.6 L1521.66,1010.8 L1523.49,1012.14 L1525.42,1013.54 L1527.4,1014.89 L1529.38,1016.11 L1531.3,1017.1 L1533.17,1017.9 L1535.04,1018.59 L1536.9,1019.15 L1538.76,1019.54 L1540.63,1019.73 L1542.5,1019.7 L1544.36,1019.42 L1546.19,1018.9 L1548.03,1018.19 L1549.9,1017.32 L1551.81,1016.31 L1553.8,1015.2 L1555.9,1013.86 L1558.1,1012.25 L1560.35,1010.51 L1562.6,1008.77 L1564.8,1007.19 L1566.9,1005.9 L1568.89,1004.88 L1570.8,1004.01 L1572.67,1003.3 L1574.51,1002.74 L1576.34,1002.34 L1578.2,1002.1 L1580.07,1002.02 L1581.94,1002.1 L1583.8,1002.34 L1585.66,1002.74 L1587.53,1003.29 L1589.4,1004 L1591.26,1004.84 L1593.09,1005.81 L1594.93,1006.93 L1596.8,1008.24 L1598.71,1009.75 L1600.7,1011.5 L1602.76,1013.63 L1604.86,1016.15 L1607.02,1018.88 L1609.23,1021.64 L1611.49,1024.24 L1613.8,1026.5 L1616.23,1028.46 L1618.8,1030.26 L1621.42,1031.91 L1624.01,1033.4 L1626.5,1034.73 L1628.8,1035.9 L1630.91,1036.83 L1632.87,1037.51 L1634.74,1038.04 L1636.53,1038.49 L1638.27,1038.94 L1640,1039.5 L1641.68,1040.13 L1643.28,1040.77 L1644.84,1041.43 L1646.39,1042.09 L1647.96,1042.78 L1649.6,1043.5 L1651.31,1044.34 L1653.06,1045.33 L1654.84,1046.33 L1656.64,1047.24 L1658.43,1047.94 L1660.2,1048.3 L1661.94,1048.32 L1663.67,1048.08 L1665.39,1047.63 L1667.13,1047.01 L1668.89,1046.25 L1670.7,1045.4 L1672.54,1044.47 L1674.39,1043.44 L1676.26,1042.27 L1678.18,1040.94 L1680.16,1039.43 L1682.2,1037.7 L1684.34,1035.73 L1686.56,1033.54 L1688.83,1031.16 L1691.13,1028.63 L1693.43,1026 L1695.7,1023.3 L1697.94,1020.51 L1700.17,1017.59 L1702.41,1014.56 L1704.64,1011.46 L1706.87,1008.29 L1709.1,1005.1 L1711.36,1001.8 L1713.64,998.37 L1715.92,994.88 L1718.17,991.42 L1720.38,988.06 L1722.5,984.9 L1724.53,981.95 L1726.47,979.14 L1728.36,976.45 L1730.23,973.82 L1732.1,971.22 L1734,968.6 L1735.91,965.97 L1737.79,963.36 L1739.68,960.78 L1741.6,958.23 L1743.56,955.7 L1745.6,953.2 L1747.71,950.74 L1749.86,948.32 L1752.06,945.93 L1754.32,943.56 L1756.63,941.18 L1759,938.8 L1761.43,936.41 L1763.92,934.03 L1766.46,931.65 L1769.06,929.27 L1771.71,926.89 L1774.4,924.5 L1777.25,922.02 L1780.28,919.43 L1783.36,916.83 L1786.36,914.34 L1789.15,912.06 L1791.6,910.1 L1793.65,908.47 L1795.4,907.1 L1796.93,905.94 L1798.35,904.95 L1799.74,904.08 L1801.2,903.3 L1802.7,902.6 L1804.17,902.03 L1805.61,901.58 L1807.04,901.26 L1808.47,901.07 L1809.9,901 L1811.33,901.03 L1812.74,901.16 L1814.14,901.41 L1815.56,901.82 L1817.01,902.44 L1818.5,903.3 L1820.02,904.34 L1821.56,905.53 L1823.12,906.92 L1824.72,908.58 L1826.38,910.55 L1828.1,912.9 L1829.92,915.74 L1831.84,919.04 L1833.82,922.67 L1835.8,926.47 L1837.74,930.29 L1839.6,934 L1841.32,937.54 L1842.94,941.02 L1844.52,944.52 L1846.13,948.15 L1847.83,951.98 L1849.7,956.1 L1851.76,960.62 L1853.97,965.47 L1856.28,970.53 L1858.64,975.66 L1860.99,980.73 L1863.3,985.6 L1865.57,990.32 L1867.83,995 L1870.1,999.62 L1872.37,1004.15 L1874.63,1008.55 L1876.9,1012.8 L1879.17,1016.92 L1881.43,1020.96 L1883.7,1024.86 L1885.97,1028.61 L1888.23,1032.17 L1890.5,1035.5 L1892.71,1038.61 L1894.86,1041.53 L1897.01,1044.25 L1899.23,1046.79 L1901.57,1049.13 L1904.1,1051.3 L1906.76,1053.28 L1909.49,1055.07 L1912.35,1056.67 L1915.4,1058.09 L1918.69,1059.33 L1922.3,1060.4 L1925.71,1061.25 L1928.77,1061.87 L1932.08,1062.32 L1936.23,1062.64 L1941.84,1062.88 L1949.5,1063.1 L1960.63,1063.26 L1975.04,1063.3 L1990.9,1063.27 L2006.38,1063.2 L2019.66,1063.13 L2028.9,1063.1" fill="none" stroke="#E63B2E" stroke-width="3.4" stroke-linejoin="round" />
<path d="M1500.5,657.5 L1500.68,658.52 L1500.91,659.84 L1501.2,661.45 L1501.52,663.35 L1501.86,665.53 L1502.2,668 L1502.56,670.98 L1502.95,674.53 L1503.36,678.36 L1503.77,682.2 L1504.19,685.77 L1504.6,688.8 L1504.98,691.12 L1505.34,692.93 L1505.71,694.47 L1506.09,695.99 L1506.51,697.75 L1507,700 L1507.56,702.79 L1508.19,705.94 L1508.86,709.33 L1509.54,712.83 L1510.23,716.32 L1510.9,719.7 L1511.56,722.9 L1512.24,726 L1512.93,729.09 L1513.59,732.28 L1514.22,735.65 L1514.8,739.3 L1515.32,743.21 L1515.79,747.3 L1516.23,751.58 L1516.65,756.03 L1517.07,760.67 L1517.5,765.5 L1517.94,770.59 L1518.38,775.95 L1518.82,781.49 L1519.25,787.13 L1519.68,792.76 L1520.1,798.3 L1520.51,803.75 L1520.91,809.2 L1521.3,814.65 L1521.69,820.1 L1522.09,825.55 L1522.5,831 L1522.91,836.46 L1523.31,841.93 L1523.72,847.4 L1524.14,852.87 L1524.6,858.34 L1525.1,863.8 L1525.65,869.36 L1526.24,875.03 L1526.86,880.7 L1527.5,886.25 L1528.15,891.55 L1528.8,896.5 L1529.42,901.12 L1530.02,905.53 L1530.62,909.69 L1531.27,913.59 L1531.99,917.2 L1532.8,920.5 L1533.71,923.58 L1534.69,926.46 L1535.74,929.06 L1536.86,931.28 L1538.05,933.03 L1539.3,934.2 L1540.67,934.61 L1542.19,934.28 L1543.76,933.48 L1545.34,932.46 L1546.84,931.48 L1548.2,930.8 L1549.39,930.24 L1550.47,929.57 L1551.48,928.93 L1552.46,928.5 L1553.45,928.44 L1554.5,928.9 L1555.6,929.95 L1556.7,931.48 L1557.83,933.38 L1558.96,935.53 L1560.12,937.84 L1561.3,940.2 L1562.49,942.8 L1563.68,945.77 L1564.89,948.89 L1566.13,951.96 L1567.43,954.76 L1568.8,957.1 L1570.26,959.01 L1571.79,960.67 L1573.38,962.07 L1575,963.2 L1576.61,964.04 L1578.2,964.6 L1579.75,964.75 L1581.27,964.47 L1582.79,963.91 L1584.33,963.22 L1585.93,962.53 L1587.6,962 L1589.36,961.49 L1591.2,960.87 L1593.08,960.26 L1594.99,959.78 L1596.91,959.55 L1598.8,959.7 L1600.7,960.23 L1602.63,961.06 L1604.56,962.14 L1606.47,963.43 L1608.33,964.9 L1610.1,966.5 L1611.78,968.27 L1613.38,970.26 L1614.92,972.42 L1616.44,974.72 L1617.96,977.12 L1619.5,979.6 L1621.03,982.17 L1622.53,984.87 L1624.03,987.68 L1625.56,990.57 L1627.14,993.52 L1628.8,996.5 L1630.61,999.64 L1632.56,1002.99 L1634.56,1006.39 L1636.53,1009.7 L1638.41,1012.79 L1640.1,1015.5 L1641.58,1017.8 L1642.9,1019.79 L1644.12,1021.56 L1645.3,1023.16 L1646.47,1024.69 L1647.7,1026.2 L1648.99,1027.72 L1650.3,1029.19 L1651.61,1030.58 L1652.9,1031.84 L1654.17,1032.96 L1655.4,1033.9 L1656.55,1034.66 L1657.64,1035.27 L1658.69,1035.74 L1659.76,1036.05 L1660.88,1036.2 L1662.1,1036.2 L1663.41,1036.03 L1664.79,1035.68 L1666.22,1035.18 L1667.69,1034.53 L1669.19,1033.77 L1670.7,1032.9 L1672.2,1031.95 L1673.69,1030.91 L1675.2,1029.74 L1676.78,1028.43 L1678.47,1026.92 L1680.3,1025.2 L1682.31,1023.22 L1684.48,1021 L1686.76,1018.59 L1689.09,1016.06 L1691.42,1013.44 L1693.7,1010.8 L1695.95,1008.14 L1698.2,1005.42 L1700.45,1002.62 L1702.7,999.73 L1704.95,996.73 L1707.2,993.6 L1709.46,990.27 L1711.74,986.76 L1714.02,983.12 L1716.28,979.47 L1718.48,975.86 L1720.6,972.4 L1722.63,969.08 L1724.57,965.85 L1726.47,962.67 L1728.34,959.53 L1730.21,956.38 L1732.1,953.2 L1734.02,949.95 L1735.93,946.66 L1737.84,943.36 L1739.76,940.11 L1741.68,936.97 L1743.6,934 L1745.53,931.23 L1747.46,928.61 L1749.4,926.11 L1751.34,923.66 L1753.27,921.21 L1755.2,918.7 L1757.12,916.14 L1759.04,913.57 L1760.96,911 L1762.87,908.43 L1764.78,905.86 L1766.7,903.3 L1768.62,900.75 L1770.53,898.2 L1772.45,895.65 L1774.37,893.1 L1776.28,890.55 L1778.2,888 L1780.14,885.42 L1782.1,882.8 L1784.07,880.18 L1786.01,877.59 L1787.89,875.05 L1789.7,872.6 L1791.41,870.2 L1793.04,867.81 L1794.62,865.48 L1796.17,863.24 L1797.72,861.13 L1799.3,859.2 L1800.91,857.42 L1802.54,855.75 L1804.16,854.22 L1805.77,852.84 L1807.36,851.62 L1808.9,850.6 L1810.37,849.77 L1811.77,849.11 L1813.14,848.62 L1814.52,848.3 L1815.96,848.13 L1817.5,848.1 L1819.16,848.2 L1820.92,848.43 L1822.74,848.82 L1824.57,849.38 L1826.37,850.13 L1828.1,851.1 L1829.77,852.34 L1831.42,853.84 L1833.04,855.54 L1834.63,857.37 L1836.19,859.24 L1837.7,861.1 L1839.16,862.88 L1840.57,864.64 L1841.94,866.45 L1843.29,868.39 L1844.64,870.55 L1846,873 L1847.31,875.68 L1848.54,878.51 L1849.77,881.56 L1851.07,884.89 L1852.52,888.54 L1854.2,892.6 L1856.15,897.27 L1858.33,902.56 L1860.66,908.19 L1863.07,913.87 L1865.47,919.33 L1867.8,924.3 L1870.07,928.85 L1872.33,933.24 L1874.6,937.4 L1876.87,941.3 L1879.13,944.88 L1881.4,948.1 L1883.69,950.93 L1886.01,953.4 L1888.34,955.55 L1890.63,957.44 L1892.86,959.1 L1895,960.6 L1897.05,961.77 L1899.05,962.56 L1900.98,963.12 L1902.85,963.63 L1904.66,964.27 L1906.4,965.2 L1908.05,966.34 L1909.61,967.53 L1911.1,968.85 L1912.56,970.36 L1914.02,972.12 L1915.5,974.2 L1916.98,976.6 L1918.42,979.25 L1919.86,982.16 L1921.33,985.33 L1922.86,988.74 L1924.5,992.4 L1926.26,996.45 L1928.13,1000.93 L1930.06,1005.65 L1932.02,1010.45 L1933.98,1015.16 L1935.9,1019.6 L1937.76,1023.88 L1939.59,1028.16 L1941.41,1032.35 L1943.27,1036.35 L1945.18,1040.06 L1947.2,1043.4 L1949.28,1046.36 L1951.39,1049.03 L1953.57,1051.41 L1955.84,1053.52 L1958.24,1055.38 L1960.8,1057 L1963.59,1058.31 L1966.61,1059.3 L1969.76,1060.03 L1972.94,1060.58 L1976.05,1061.05 L1979,1061.5 L1981.56,1061.9 L1983.77,1062.17 L1985.91,1062.36 L1988.27,1062.48 L1991.14,1062.58 L1994.8,1062.7 L1999.82,1062.82 L2006.07,1062.91 L2012.84,1062.97 L2019.38,1063.03 L2024.98,1063.07 L2028.9,1063.1" fill="none" stroke="#000" stroke-width="3.6" stroke-linejoin="round" />
<path d="M1496.5,657.5 L1498.5,661 L1500.5,656.4 L1502.6,668 L1501.2,679 L1498.6,686 L1496.5,682 Z" fill="#000"/>
<rect x="1496.3" y="639.6" width="533" height="423.8" fill="none" stroke="#000" stroke-width="2.6"/>
<defs>
<linearGradient id="capg" x1="0" x2="1" y1="0" y2="0"><stop offset="0" stop-color="#000"/><stop offset="0.35" stop-color="#2a2a2a"/><stop offset="0.6" stop-color="#111"/><stop offset="1" stop-color="#000"/></linearGradient>
<linearGradient id="glassg" x1="0" x2="1" y1="0" y2="0"><stop offset="0" stop-color="#d8d8d8"/><stop offset="0.15" stop-color="#f4f4f4"/><stop offset="0.85" stop-color="#f4f4f4"/><stop offset="1" stop-color="#d0d0d0"/></linearGradient>
</defs>
<defs><linearGradient id="vl1" x1="0" x2="1" y1="0" y2="0"><stop offset="0" stop-color="#E6128A"/><stop offset="0.45" stop-color="#F8145A"/><stop offset="0.6" stop-color="#F8145A"/><stop offset="1" stop-color="#E6128A"/></linearGradient></defs>
<rect x="1554.8" y="679.4" width="33.3" height="23.8" fill="url(#glassg)"/>
<line x1="1556.8" y1="682.1" x2="1586.1" y2="682.1" stroke="#8a8a8a" stroke-width="1.3"/>
<line x1="1555.8" y1="685.4" x2="1587.1" y2="685.4" stroke="#c4c4c4" stroke-width="1"/>
<path d="M1554.3,701.2 L1588.6,701.2 L1588.1,774.5 Q1587.1,781.5 1580.1,781.5 L1562.8,781.5 Q1555.8,781.5 1554.8,774.5 Z" fill="url(#vl1)"/>
<line x1="1554.8" y1="702" x2="1588.1" y2="702" stroke="#E6128A" stroke-width="1.6" opacity="0.9"/>
<path d="M1553.3,679.4 L1553.8,664.9 Q1553.8,661.9 1557.8,661.9 L1585.1,661.9 Q1589.1,661.9 1589.1,664.9 L1589.6,679.4 Z" fill="url(#capg)"/>
<defs><linearGradient id="vl2" x1="0" x2="1" y1="0" y2="0"><stop offset="0" stop-color="#EBCB00"/><stop offset="0.45" stop-color="#F8E800"/><stop offset="0.6" stop-color="#F8E800"/><stop offset="1" stop-color="#EBCB00"/></linearGradient></defs>
<rect x="1619" y="679.4" width="33" height="28.1" fill="url(#glassg)"/>
<line x1="1621" y1="682.1" x2="1650" y2="682.1" stroke="#8a8a8a" stroke-width="1.3"/>
<line x1="1620" y1="685.4" x2="1651" y2="685.4" stroke="#c4c4c4" stroke-width="1"/>
<path d="M1618.5,705.5 L1652.5,705.5 L1652,776 Q1651,783 1644,783 L1627,783 Q1620,783 1619,776 Z" fill="url(#vl2)"/>
<line x1="1619" y1="706.3" x2="1652" y2="706.3" stroke="#EBCB00" stroke-width="1.6" opacity="0.9"/>
<path d="M1617.5,679.4 L1618,665.8 Q1618,662.8 1622,662.8 L1649,662.8 Q1653,662.8 1653,665.8 L1653.5,679.4 Z" fill="url(#capg)"/>
<defs><linearGradient id="vl3" x1="0" x2="1" y1="0" y2="0"><stop offset="0" stop-color="#E4500C"/><stop offset="0.45" stop-color="#F86A14"/><stop offset="0.6" stop-color="#F86A14"/><stop offset="1" stop-color="#E4500C"/></linearGradient></defs>
<rect x="1692.7" y="678.6" width="35.2" height="20.4" fill="url(#glassg)"/>
<line x1="1694.7" y1="681.3" x2="1725.9" y2="681.3" stroke="#8a8a8a" stroke-width="1.3"/>
<line x1="1693.7" y1="684.6" x2="1726.9" y2="684.6" stroke="#c4c4c4" stroke-width="1"/>
<path d="M1692.2,697 L1728.4,697 L1727.9,771.8 Q1726.9,778.8 1719.9,778.8 L1700.7,778.8 Q1693.7,778.8 1692.7,771.8 Z" fill="url(#vl3)"/>
<line x1="1692.7" y1="697.8" x2="1727.9" y2="697.8" stroke="#E4500C" stroke-width="1.6" opacity="0.9"/>
<path d="M1691.2,678.6 L1691.7,659.6 Q1691.7,656.6 1695.7,656.6 L1724.9,656.6 Q1728.9,656.6 1728.9,659.6 L1729.4,678.6 Z" fill="url(#capg)"/>
<defs><linearGradient id="vl4" x1="0" x2="1" y1="0" y2="0"><stop offset="0" stop-color="#CE8E10"/><stop offset="0.45" stop-color="#E6A81E"/><stop offset="0.6" stop-color="#E6A81E"/><stop offset="1" stop-color="#CE8E10"/></linearGradient></defs>
<rect x="1846.6" y="690.9" width="38.1" height="27.6" fill="url(#glassg)"/>
<line x1="1848.6" y1="693.6" x2="1882.7" y2="693.6" stroke="#8a8a8a" stroke-width="1.3"/>
<line x1="1847.6" y1="696.9" x2="1883.7" y2="696.9" stroke="#c4c4c4" stroke-width="1"/>
<path d="M1846.1,716.5 L1885.2,716.5 L1884.7,793.8 Q1883.7,800.8 1876.7,800.8 L1854.6,800.8 Q1847.6,800.8 1846.6,793.8 Z" fill="url(#vl4)"/>
<line x1="1846.6" y1="717.3" x2="1884.7" y2="717.3" stroke="#CE8E10" stroke-width="1.6" opacity="0.9"/>
<path d="M1845.1,690.9 L1845.6,669 Q1845.6,666 1849.6,666 L1881.7,666 Q1885.7,666 1885.7,669 L1886.2,690.9 Z" fill="url(#capg)"/>
<defs><linearGradient id="vl5" x1="0" x2="1" y1="0" y2="0"><stop offset="0" stop-color="#DCD4C4"/><stop offset="0.45" stop-color="#EAE4D8"/><stop offset="0.6" stop-color="#EAE4D8"/><stop offset="1" stop-color="#DCD4C4"/></linearGradient></defs>
<rect x="1937.4" y="839" width="40.4" height="25.5" fill="url(#glassg)"/>
<line x1="1939.4" y1="841.7" x2="1975.8" y2="841.7" stroke="#8a8a8a" stroke-width="1.3"/>
<line x1="1938.4" y1="845" x2="1976.8" y2="845" stroke="#c4c4c4" stroke-width="1"/>
<path d="M1936.9,862.5 L1978.3,862.5 L1977.8,947 Q1976.8,954 1969.8,954 L1945.4,954 Q1938.4,954 1937.4,947 Z" fill="url(#vl5)"/>
<line x1="1937.4" y1="863.3" x2="1977.8" y2="863.3" stroke="#DCD4C4" stroke-width="1.6" opacity="0.9"/>
<path d="M1935.9,839 L1936.4,816.5 Q1936.4,813.5 1940.4,813.5 L1974.8,813.5 Q1978.8,813.5 1978.8,816.5 L1979.3,839 Z" fill="url(#capg)"/>
<text transform="translate(1580,764.5) rotate(-90)" font-size="29" textLength="35.5" lengthAdjust="spacingAndGlyphs" fill="#fff" >AF</text>
<text transform="translate(1644.6,765.5) rotate(-90)" font-size="29" textLength="43.5" lengthAdjust="spacingAndGlyphs" >MO</text>
<text transform="translate(1719,772.5) rotate(-90)" font-size="29" textLength="61" lengthAdjust="spacingAndGlyphs" fill="#fff" >Feed</text>
<text x="1604.6" y="736.4" font-size="37" font-weight="bold" text-anchor="middle" >+</text>
<text x="1667.8" y="738.2" font-size="37" font-weight="bold" text-anchor="middle" >=</text>
<text transform="translate(1913.2,869) rotate(-90)" font-size="31" textLength="226" lengthAdjust="spacingAndGlyphs" >Permeate (1.0 V)</text>
<text transform="translate(2008.8,981.8) rotate(-90)" font-size="31" textLength="200" lengthAdjust="spacingAndGlyphs" >Permeate (0 V)</text>
<line x1="1714.2" y1="816.6" x2="1755.2" y2="881.1" stroke="#000" stroke-width="2.6" stroke-linecap="butt" stroke-dasharray="11.4 12.4" />
<line x1="1851.4" y1="826.1" x2="1811.3" y2="901.2" stroke="#FF0000" stroke-width="2.8" stroke-linecap="butt" stroke-dasharray="12.9 13.6" />
<line x1="1917.9" y1="916.7" x2="1848.4" y2="1048.4" stroke="#29A9E1" stroke-width="2.8" stroke-linecap="butt" stroke-dasharray="12 12.1" />
<circle cx="1704.6" cy="802" r="6.6" fill="#000" />
<circle cx="1860.3" cy="809.3" r="6.6" fill="#FF0000" />
<circle cx="1925.8" cy="901.1" r="5.6" fill="#B4D6E9" stroke="#000" stroke-width="2.8" />
<defs>
<radialGradient id="gBlue" cx="0.38" cy="0.35" r="0.7"><stop offset="0" stop-color="#9fd6fb"/><stop offset="0.45" stop-color="#46a4ea"/><stop offset="1" stop-color="#2a7cc6"/></radialGradient>
<radialGradient id="gBlueD" cx="0.4" cy="0.35" r="0.7"><stop offset="0" stop-color="#6aa2d8"/><stop offset="0.5" stop-color="#3d7cc0"/><stop offset="1" stop-color="#2a5e9c"/></radialGradient>
<radialGradient id="gYel" cx="0.4" cy="0.38" r="0.7"><stop offset="0" stop-color="#fbf8a0"/><stop offset="0.5" stop-color="#ece83a"/><stop offset="1" stop-color="#c9c226"/></radialGradient>
<radialGradient id="gRed" cx="0.4" cy="0.28" r="0.78"><stop offset="0" stop-color="#e8a4a4"/><stop offset="0.3" stop-color="#a8202a"/><stop offset="0.75" stop-color="#6a1012"/><stop offset="1" stop-color="#3e0606"/></radialGradient>
<radialGradient id="gTeal" cx="0.4" cy="0.28" r="0.78"><stop offset="0" stop-color="#b0f4e8"/><stop offset="0.3" stop-color="#1e9e8e"/><stop offset="0.75" stop-color="#0b5a54"/><stop offset="1" stop-color="#042e2c"/></radialGradient>
<linearGradient id="gBase" x1="0" y1="0" x2="0" y2="1"><stop offset="0" stop-color="#cfdbe5"/><stop offset="1" stop-color="#bccad7"/></linearGradient>
<linearGradient id="gPore" x1="0" y1="0" x2="0.3" y2="1"><stop offset="0" stop-color="#1f2731"/><stop offset="0.5" stop-color="#404c5a"/><stop offset="1" stop-color="#8493a4"/></linearGradient>
<linearGradient id="gBox" x1="0" y1="0" x2="1" y2="0"><stop offset="0" stop-color="#cfd8e1" stop-opacity="0.5"/><stop offset="0.07" stop-color="#cfd7df" stop-opacity="0.95"/><stop offset="0.85" stop-color="#d3dce5" stop-opacity="0.95"/><stop offset="1" stop-color="#e2ebf3" stop-opacity="0.25"/></linearGradient>
<linearGradient id="gLayer" x1="0" y1="0" x2="0.2" y2="1"><stop offset="0" stop-color="#a0b3ea"/><stop offset="0.5" stop-color="#7f98dc"/><stop offset="1" stop-color="#728cd6"/></linearGradient>
<linearGradient id="gMesh" x1="0" y1="0" x2="0" y2="1"><stop offset="0" stop-color="#4a5266"/><stop offset="0.7" stop-color="#6a7388"/><stop offset="1" stop-color="#3a4456"/></linearGradient>
<pattern id="pGrid" width="6" height="4.2" patternUnits="userSpaceOnUse" patternTransform="skewX(-20)"><rect width="6" height="4.2" fill="#2f3a4f"/><rect x="1.3" y="1.5" width="4" height="1.5" fill="#d0d7e2"/></pattern>
<filter id="blurM" x="-5%" y="-5%" width="110%" height="110%"><feGaussianBlur stdDeviation="0.45"/></filter>
<filter id="blur1" x="-20%" y="-20%" width="140%" height="140%"><feGaussianBlur stdDeviation="1.2"/></filter>
<filter id="blur3" x="-20%" y="-20%" width="140%" height="140%"><feGaussianBlur stdDeviation="4"/></filter>
<filter id="blur8" x="-30%" y="-30%" width="160%" height="160%"><feGaussianBlur stdDeviation="9"/></filter>
</defs>
<path d="M50,131 L652,133 L662,300 L640,318 L58,318 Z" fill="url(#gBox)" filter="url(#blur3)"/>
<path d="M575,150 L660,140 L668,300 L610,300 Z" fill="#e8eff6" opacity="0.75" filter="url(#blur8)"/>
<ellipse cx="240" cy="175" rx="70" ry="20" fill="#e4e9ef" opacity="0.6" filter="url(#blur8)"/>
<ellipse cx="420" cy="190" rx="90" ry="18" fill="#e2e7ee" opacity="0.5" filter="url(#blur8)"/>
<path d="M67,315 L620,318 Q623,322 622,332 L613,398 Q610,409 598,409 L86,407 Q77,406 77,396 Z" fill="url(#gBase)"/>
<path d="M106.84,343.61 C106.69,347.03 106.68,351.78 105.11,354.28 C103.54,356.77 99.96,357.56 97.41,358.6 C94.87,359.64 91.91,361.45 89.84,360.51 C87.76,359.57 86.01,355.79 84.96,352.97 C83.91,350.16 83.41,346.91 83.52,343.61 C83.63,340.32 84.17,336.33 85.61,333.2 C87.05,330.06 89.72,325.65 92.16,324.82 C94.61,323.99 97.98,326.71 100.29,328.21 C102.59,329.7 104.88,331.23 105.98,333.8 C107.07,336.36 106.98,340.2 106.84,343.61 Z" fill="url(#gPore)"/>
<path d="M108.51,381.94 C109.22,385.41 108.97,388.67 108.34,391.77 C107.7,394.86 106.56,399.76 104.69,400.5 C102.82,401.25 99.91,397.48 97.1,396.24 C94.29,395 89.93,395.46 87.83,393.08 C85.72,390.69 85.06,385.31 84.49,381.94 C83.91,378.56 83.75,375.26 84.37,372.82 C84.99,370.39 86.42,368.38 88.23,367.31 C90.03,366.25 92.54,365.84 95.18,366.44 C97.82,367.04 101.84,368.34 104.06,370.92 C106.28,373.5 107.79,378.46 108.51,381.94 Z" fill="url(#gPore)"/>
<path d="M141.28,362.74 C139.61,368.16 137.71,373.22 135.41,378.24 C133.1,383.27 130.42,390 127.44,392.88 C124.45,395.76 120.3,395.94 117.49,395.52 C114.69,395.09 112.38,392.97 110.63,390.34 C108.89,387.71 107.18,384.36 107.01,379.76 C106.84,375.16 107.99,368.23 109.62,362.74 C111.24,357.26 114.22,352.02 116.76,346.87 C119.29,341.71 121.78,335 124.82,331.82 C127.86,328.64 132.18,327.16 134.99,327.8 C137.81,328.43 139.97,332.64 141.71,335.63 C143.45,338.63 145.51,341.25 145.44,345.77 C145.37,350.29 142.96,357.33 141.28,362.74 Z" fill="url(#gPore)"/>
<path d="M182.99,362.73 C181.86,368.36 180.86,375.66 178.07,379.95 C175.28,384.24 169.88,385.95 166.24,388.48 C162.59,391 159.16,395.21 156.19,395.08 C153.22,394.95 150.75,390.29 148.4,387.72 C146.06,385.14 143.08,383.77 142.11,379.6 C141.15,375.44 141.32,368.29 142.62,362.73 C143.92,357.17 147.16,351.33 149.94,346.23 C152.72,341.12 155.78,334.52 159.3,332.11 C162.82,329.69 167.54,331.54 171.06,331.74 C174.58,331.95 178.1,330.92 180.4,333.32 C182.7,335.72 184.4,341.24 184.83,346.15 C185.27,351.05 184.12,357.1 182.99,362.73 Z" fill="url(#gPore)"/>
<path d="M213.81,366.9 C214.71,372.68 216.24,380.2 215.76,385.5 C215.29,390.81 213.03,395.21 210.97,398.72 C208.91,402.24 206.12,406.38 203.38,406.59 C200.64,406.81 196.95,403.82 194.53,400.01 C192.11,396.2 190.49,389.25 188.86,383.73 C187.23,378.21 185.54,372.78 184.75,366.9 C183.96,361.01 183.25,352.97 184.12,348.43 C184.99,343.89 187.93,342.46 189.97,339.68 C192.02,336.89 194.05,331.9 196.39,331.73 C198.73,331.55 201.69,335.43 204.02,338.6 C206.35,341.78 208.75,346.06 210.38,350.78 C212.01,355.49 212.91,361.11 213.81,366.9 Z" fill="url(#gPore)"/>
<path d="M250.58,359.51 C252.08,365.1 253.78,371.76 253.69,376.9 C253.59,382.04 252.04,386.86 250.03,390.37 C248.02,393.88 244.88,397.63 241.63,397.96 C238.38,398.29 234.11,395.56 230.52,392.34 C226.93,389.12 222.52,384.13 220.11,378.65 C217.71,373.18 217.11,365.57 216.09,359.51 C215.07,353.44 213.69,347.17 214.01,342.26 C214.32,337.35 215.97,333.58 217.96,330.05 C219.95,326.51 222.7,321.78 225.93,321.05 C229.16,320.32 234.23,321.94 237.35,325.66 C240.48,329.38 242.47,337.73 244.68,343.38 C246.88,349.02 249.08,353.92 250.58,359.51 Z" fill="url(#gPore)"/>
<path d="M277.46,361.33 C276.44,367.48 276.09,373.95 274.47,378.98 C272.85,384.02 270.05,388.38 267.73,391.53 C265.42,394.69 262.9,397.18 260.6,397.91 C258.29,398.64 255.48,398.86 253.9,395.9 C252.32,392.94 251.36,385.92 251.1,380.16 C250.84,374.4 251.47,367.56 252.35,361.33 C253.24,355.11 254.61,348.24 256.42,342.83 C258.23,337.41 260.82,331.11 263.22,328.84 C265.62,326.56 268.47,329.47 270.85,329.19 C273.22,328.91 275.83,325.01 277.46,327.17 C279.08,329.32 280.6,336.43 280.59,342.12 C280.59,347.82 278.48,355.19 277.46,361.33 Z" fill="url(#gPore)"/>
<path d="M315.51,345.8 C314.71,348.93 312.84,352.89 310.31,355.46 C307.77,358.02 303.67,360.1 300.27,361.2 C296.88,362.3 292.61,363.08 289.93,362.05 C287.26,361.01 285.17,357.71 284.22,355 C283.28,352.29 283.39,348.92 284.24,345.8 C285.1,342.69 286.84,338.84 289.34,336.32 C291.84,333.8 295.88,331.84 299.24,330.7 C302.6,329.55 306.88,328.45 309.52,329.45 C312.16,330.45 314.08,333.96 315.08,336.69 C316.08,339.42 316.3,342.68 315.51,345.8 Z" fill="url(#gPore)"/>
<path d="M317.26,381.54 C317.57,384.18 316.89,387.41 315.33,389.66 C313.78,391.91 310.85,394.15 307.94,395.06 C305.03,395.97 300.82,396.08 297.87,395.12 C294.93,394.17 292.69,391.61 290.26,389.34 C287.84,387.08 284.07,384.49 283.32,381.54 C282.56,378.58 283.64,373.93 285.72,371.6 C287.8,369.27 292.37,368.23 295.79,367.55 C299.2,366.86 303.26,366.43 306.21,367.48 C309.16,368.52 311.66,371.48 313.5,373.82 C315.34,376.16 316.95,378.9 317.26,381.54 Z" fill="url(#gPore)"/>
<path d="M346.4,339.05 C346.95,341.32 345.65,343.64 344.63,345.63 C343.6,347.62 342.29,350.39 340.26,351 C338.23,351.61 335.19,350.06 332.46,349.29 C329.73,348.53 326.36,348.11 323.89,346.4 C321.42,344.7 318.47,341.62 317.64,339.05 C316.81,336.49 317.65,333.09 318.93,331.02 C320.2,328.95 322.86,327.1 325.3,326.61 C327.73,326.11 330.87,327.14 333.55,328.04 C336.22,328.95 339.21,330.2 341.35,332.03 C343.49,333.87 345.85,336.79 346.4,339.05 Z" fill="url(#gPore)"/>
<path d="M343.41,377.79 C344.17,382.69 344.82,389.05 343.95,392.57 C343.07,396.09 340.31,397.97 338.15,398.92 C335.98,399.86 333.61,399.29 330.95,398.26 C328.29,397.22 324.54,396.11 322.18,392.7 C319.81,389.29 317.52,382.79 316.76,377.79 C315.99,372.79 316.53,366.74 317.59,362.72 C318.64,358.71 320.77,355.22 323.08,353.7 C325.39,352.19 328.72,352.05 331.43,353.63 C334.15,355.2 337.36,359.13 339.36,363.16 C341.36,367.18 342.65,372.89 343.41,377.79 Z" fill="url(#gPore)"/>
<path d="M379.53,342.07 C379.56,344.98 378.38,349.43 376.15,351.7 C373.92,353.96 369.47,354.7 366.16,355.67 C362.85,356.65 359.25,358.22 356.28,357.57 C353.31,356.92 349.99,354.35 348.35,351.77 C346.71,349.19 345.66,345.06 346.43,342.07 C347.2,339.09 350.49,335.98 352.96,333.86 C355.42,331.74 358.39,330.1 361.21,329.35 C364.03,328.59 367.4,328.5 369.86,329.32 C372.33,330.14 374.39,332.14 376.01,334.26 C377.62,336.39 379.51,339.17 379.53,342.07 Z" fill="url(#gPore)"/>
<path d="M377.53,375.95 C377.82,379.43 376.75,383.91 375.04,386.49 C373.33,389.07 370.06,390.48 367.28,391.43 C364.5,392.38 361.22,393.03 358.35,392.18 C355.48,391.34 351.57,389.09 350.05,386.38 C348.53,383.67 349.4,379.37 349.23,375.95 C349.07,372.54 347.98,368.79 349.06,365.9 C350.14,363.01 353.01,359.73 355.72,358.6 C358.43,357.48 362.4,357.98 365.33,359.16 C368.26,360.34 371.29,362.86 373.32,365.66 C375.35,368.46 377.24,372.48 377.53,375.95 Z" fill="url(#gPore)"/>
<path d="M405.66,363.27 C406.93,368.92 408.16,373.91 408.59,379.08 C409.01,384.26 409.25,391.27 408.21,394.33 C407.17,397.38 404.52,398.28 402.36,397.4 C400.2,396.53 397.69,392.33 395.24,389.1 C392.8,385.87 389.99,382.32 387.69,378.02 C385.4,373.71 383.35,368.69 381.48,363.27 C379.61,357.86 376.98,350.53 376.46,345.51 C375.95,340.49 377.13,335.14 378.39,333.17 C379.66,331.19 381.74,333.66 384.03,333.64 C386.32,333.62 389.33,331.1 392.15,333.03 C394.97,334.96 398.71,340.18 400.96,345.22 C403.21,350.26 404.39,357.63 405.66,363.27 Z" fill="url(#gPore)"/>
<path d="M435.23,349.95 C435.77,354.25 436.25,360.26 434.96,363.44 C433.66,366.63 430.17,367.72 427.47,369.06 C424.77,370.39 421.55,372.44 418.77,371.44 C415.99,370.45 412.38,366.66 410.78,363.08 C409.19,359.5 409.28,354.01 409.21,349.95 C409.15,345.9 409.26,341.81 410.38,338.76 C411.5,335.7 413.72,332.76 415.95,331.62 C418.18,330.47 421.12,330.9 423.75,331.9 C426.38,332.9 429.82,334.62 431.74,337.63 C433.65,340.64 434.69,345.65 435.23,349.95 Z" fill="url(#gPore)"/>
<path d="M431.39,383.43 C431.48,385.51 432.5,388.47 431.17,389.99 C429.85,391.51 425.97,392.09 423.43,392.56 C420.88,393.04 418.21,393.36 415.9,392.84 C413.59,392.32 411.15,391.02 409.54,389.45 C407.94,387.88 406.09,385.39 406.26,383.43 C406.43,381.47 408.9,379.45 410.58,377.68 C412.25,375.9 414.01,373.42 416.33,372.79 C418.65,372.17 422.12,373.12 424.51,373.9 C426.9,374.69 429.53,375.9 430.67,377.49 C431.82,379.08 431.31,381.35 431.39,383.43 Z" fill="url(#gPore)"/>
<path d="M458.24,347.69 C457.68,351.46 456.41,356.64 454.66,359.75 C452.9,362.85 449.91,365.43 447.72,366.33 C445.53,367.23 443.21,366.35 441.52,365.15 C439.84,363.94 438.24,362 437.61,359.09 C436.99,356.18 437.14,351.63 437.78,347.69 C438.42,343.75 439.6,338.17 441.46,335.45 C443.32,332.73 446.69,332.44 448.93,331.37 C451.18,330.3 453.42,328.07 454.93,329.04 C456.45,330 457.47,334.04 458.02,337.15 C458.57,340.26 458.8,343.93 458.24,347.69 Z" fill="url(#gPore)"/>
<path d="M455.99,382 C456.42,384.36 456.22,387.14 455.5,389.18 C454.79,391.23 453.37,393.33 451.7,394.26 C450.03,395.19 447.33,395.63 445.49,394.75 C443.64,393.86 441.99,391.07 440.63,388.95 C439.26,386.82 437.72,384.34 437.31,382 C436.9,379.66 437.4,376.84 438.19,374.93 C438.98,373.01 440.45,371.36 442.07,370.53 C443.69,369.7 446.1,369.21 447.91,369.95 C449.73,370.7 451.62,373.02 452.97,375.03 C454.31,377.04 455.57,379.64 455.99,382 Z" fill="url(#gPore)"/>
<path d="M490.8,366.05 C492.16,371.89 493.99,377.74 494.25,383.11 C494.52,388.48 493.95,395.06 492.39,398.28 C490.82,401.5 487.51,403.38 484.85,402.44 C482.2,401.5 479.27,396.16 476.45,392.65 C473.64,389.13 470.64,385.78 467.96,381.34 C465.28,376.91 461.83,371.12 460.37,366.05 C458.9,360.99 459.13,355.51 459.2,350.96 C459.27,346.41 459.5,341.25 460.8,338.74 C462.1,336.22 464.4,336.36 467,335.86 C469.6,335.36 473.23,333.7 476.41,335.74 C479.59,337.77 483.66,343.04 486.06,348.09 C488.46,353.14 489.43,360.22 490.8,366.05 Z" fill="url(#gPore)"/>
<path d="M516.63,349.91 C517.93,353.73 519.97,359.44 519.61,362.32 C519.25,365.21 516.49,366.34 514.46,367.23 C512.43,368.12 510.11,368.47 507.44,367.68 C504.77,366.88 500.81,365.4 498.46,362.44 C496.12,359.48 494.04,353.66 493.37,349.91 C492.71,346.16 493.76,342.85 494.45,339.93 C495.13,337.02 495.81,333.74 497.49,332.42 C499.18,331.1 502.19,330.84 504.58,332 C506.96,333.16 509.81,336.4 511.82,339.39 C513.83,342.37 515.33,346.09 516.63,349.91 Z" fill="url(#gPore)"/>
<path d="M515.37,385.46 C514.69,388.17 512.22,390.26 510.67,392.48 C509.11,394.7 507.9,397.8 506.05,398.79 C504.19,399.77 501.23,399.42 499.54,398.37 C497.84,397.32 496.81,394.63 495.91,392.48 C495,390.33 494.07,388.03 494.12,385.46 C494.17,382.89 494.86,379.26 496.23,377.06 C497.59,374.87 500.29,372.81 502.33,372.29 C504.37,371.77 506.39,373.27 508.46,373.93 C510.53,374.59 513.59,374.32 514.74,376.24 C515.89,378.17 516.05,382.75 515.37,385.46 Z" fill="url(#gPore)"/>
<path d="M558.4,345.81 C558.09,349.6 556.92,354.08 554.65,357.75 C552.38,361.42 548.68,366.24 544.8,367.84 C540.92,369.43 534.81,369.1 531.37,367.33 C527.93,365.55 525.58,360.78 524.17,357.19 C522.77,353.61 522.88,349.98 522.95,345.81 C523.01,341.64 522.2,335.53 524.58,332.18 C526.97,328.82 533.02,326.88 537.23,325.67 C541.45,324.47 546.67,323.4 549.88,324.96 C553.1,326.51 555.11,331.53 556.53,335.01 C557.94,338.49 558.71,342.02 558.4,345.81 Z" fill="url(#gPore)"/>
<path d="M556.4,382.25 C556.41,384.57 553.99,386.55 552.24,388.81 C550.5,391.06 549.06,394.79 545.93,395.78 C542.79,396.77 537.34,395.66 533.43,394.75 C529.52,393.85 524.47,392.41 522.49,390.33 C520.51,388.24 521.85,384.96 521.54,382.25 C521.22,379.54 518.9,375.82 520.58,374.06 C522.26,372.3 527.88,372.51 531.63,371.66 C535.38,370.82 539.66,368.44 543.08,368.98 C546.51,369.52 549.96,372.69 552.18,374.9 C554.4,377.11 556.39,379.93 556.4,382.25 Z" fill="url(#gPore)"/>
<path d="M592.15,347.4 C591.71,349.92 590.35,352.97 588.39,354.92 C586.43,356.88 583.17,358.35 580.41,359.15 C577.64,359.95 574.36,360.37 571.81,359.72 C569.26,359.08 566.48,357.33 565.11,355.27 C563.75,353.22 563.47,350.2 563.64,347.4 C563.81,344.61 564.1,340.6 566.15,338.49 C568.19,336.38 572.73,335.5 575.91,334.75 C579.1,333.99 582.71,333.11 585.23,333.96 C587.75,334.81 589.9,337.6 591.06,339.84 C592.21,342.08 592.6,344.89 592.15,347.4 Z" fill="url(#gPore)"/>
<path d="M590.92,379.74 C589.83,382.49 587.13,384.9 584.98,387.47 C582.83,390.03 580.73,393.99 578.01,395.15 C575.29,396.3 570.99,395.62 568.67,394.41 C566.35,393.2 565.04,390.35 564.09,387.9 C563.14,385.46 562.52,382.77 562.98,379.74 C563.43,376.71 564.37,371.86 566.8,369.72 C569.24,367.57 574.31,367.83 577.59,366.88 C580.87,365.92 584.15,363.31 586.48,363.99 C588.8,364.67 590.78,368.35 591.52,370.98 C592.26,373.6 592.01,376.99 590.92,379.74 Z" fill="url(#gPore)"/>
<path d="M607.77,362.25 C609.61,368.14 611.69,375.97 612.71,381.32 C613.73,386.67 614.02,391.46 613.91,394.36 C613.79,397.26 613.07,399.1 612.02,398.73 C610.97,398.36 609.33,395.38 607.62,392.14 C605.9,388.9 603.62,384.25 601.73,379.27 C599.84,374.29 597.91,367.77 596.25,362.25 C594.6,356.73 592.8,350.73 591.79,346.16 C590.77,341.59 590.19,338.36 590.16,334.81 C590.12,331.27 590.62,325.12 591.57,324.89 C592.52,324.66 594.19,329.94 595.86,333.46 C597.54,336.98 599.64,341.22 601.62,346.02 C603.61,350.82 605.92,356.37 607.77,362.25 Z" fill="url(#gPore)"/>
<ellipse cx="528.44" cy="329.06" rx="3.51" ry="1.39" fill="#7f8d9d" opacity="0.6"/>
<ellipse cx="205.55" cy="320.4" rx="2.88" ry="1.22" fill="#7f8d9d" opacity="0.6"/>
<ellipse cx="315.3" cy="319.95" rx="4.39" ry="2.36" fill="#7f8d9d" opacity="0.6"/>
<ellipse cx="369.87" cy="319.67" rx="4.4" ry="1.43" fill="#7f8d9d" opacity="0.6"/>
<ellipse cx="267.2" cy="316.02" rx="2.64" ry="1.66" fill="#7f8d9d" opacity="0.6"/>
<ellipse cx="345.99" cy="319.01" rx="3.01" ry="1.01" fill="#7f8d9d" opacity="0.6"/>
<ellipse cx="217.39" cy="317.35" rx="2.7" ry="1.06" fill="#7f8d9d" opacity="0.6"/>
<ellipse cx="87.12" cy="320.56" rx="2.2" ry="1.82" fill="#7f8d9d" opacity="0.6"/>
<ellipse cx="360.23" cy="327.26" rx="3.47" ry="2" fill="#7f8d9d" opacity="0.6"/>
<ellipse cx="548.83" cy="321.84" rx="2.48" ry="2.38" fill="#7f8d9d" opacity="0.6"/>
<ellipse cx="155.56" cy="326.86" rx="3.43" ry="1.06" fill="#7f8d9d" opacity="0.6"/>
<ellipse cx="525.22" cy="329.38" rx="3.38" ry="2.03" fill="#7f8d9d" opacity="0.6"/>
<ellipse cx="512.79" cy="318.09" rx="3.07" ry="1.71" fill="#7f8d9d" opacity="0.6"/>
<ellipse cx="525.03" cy="328.07" rx="3.98" ry="1.82" fill="#7f8d9d" opacity="0.6"/>
<ellipse cx="556.24" cy="326.24" rx="3.58" ry="1.32" fill="#7f8d9d" opacity="0.6"/>
<ellipse cx="91.8" cy="318" rx="2.58" ry="1.15" fill="#7f8d9d" opacity="0.6"/>
<ellipse cx="525.51" cy="324.38" rx="3.38" ry="1.88" fill="#7f8d9d" opacity="0.6"/>
<ellipse cx="441.88" cy="323.34" rx="1.51" ry="2.12" fill="#7f8d9d" opacity="0.6"/>
<ellipse cx="478.32" cy="323.54" rx="3.11" ry="1.92" fill="#7f8d9d" opacity="0.6"/>
<ellipse cx="110.6" cy="327.05" rx="2.26" ry="1.1" fill="#7f8d9d" opacity="0.6"/>
<ellipse cx="218.14" cy="326.94" rx="2.12" ry="2.04" fill="#7f8d9d" opacity="0.6"/>
<ellipse cx="600.92" cy="323.41" rx="2.65" ry="1.67" fill="#7f8d9d" opacity="0.6"/>
<ellipse cx="443.51" cy="327.5" rx="3.35" ry="1.9" fill="#7f8d9d" opacity="0.6"/>
<ellipse cx="116.76" cy="318.21" rx="2.26" ry="2.04" fill="#7f8d9d" opacity="0.6"/>
<ellipse cx="239.08" cy="324.52" rx="1.54" ry="1.08" fill="#7f8d9d" opacity="0.6"/>
<ellipse cx="219.87" cy="326.08" rx="3.58" ry="1.95" fill="#7f8d9d" opacity="0.6"/>
<ellipse cx="231.77" cy="323.75" rx="2.89" ry="1.65" fill="#7f8d9d" opacity="0.6"/>
<ellipse cx="138.87" cy="329.4" rx="2.1" ry="2.37" fill="#7f8d9d" opacity="0.6"/>
<ellipse cx="579.64" cy="316.26" rx="2.88" ry="2.15" fill="#7f8d9d" opacity="0.6"/>
<ellipse cx="596.81" cy="322.74" rx="2.31" ry="1.29" fill="#7f8d9d" opacity="0.6"/>
<ellipse cx="584.67" cy="319.16" rx="3.24" ry="1.2" fill="#7f8d9d" opacity="0.6"/>
<ellipse cx="357.47" cy="330.29" rx="1.9" ry="2.15" fill="#7f8d9d" opacity="0.6"/>
<ellipse cx="349.21" cy="329.3" rx="3.61" ry="1.32" fill="#7f8d9d" opacity="0.6"/>
<ellipse cx="558.86" cy="323.29" rx="1.57" ry="1.01" fill="#7f8d9d" opacity="0.6"/>
<ellipse cx="340.02" cy="322.76" rx="2.41" ry="1.2" fill="#7f8d9d" opacity="0.6"/>
<ellipse cx="260.39" cy="320.74" rx="4.02" ry="1" fill="#7f8d9d" opacity="0.6"/>
<ellipse cx="479.65" cy="328.59" rx="1.86" ry="2.3" fill="#7f8d9d" opacity="0.6"/>
<ellipse cx="459.32" cy="329.52" rx="2.37" ry="1.52" fill="#7f8d9d" opacity="0.6"/>
<ellipse cx="286.77" cy="330.98" rx="3.27" ry="1.5" fill="#7f8d9d" opacity="0.6"/>
<ellipse cx="305.72" cy="320.13" rx="1.64" ry="1.14" fill="#7f8d9d" opacity="0.6"/>
<ellipse cx="524.89" cy="320.28" rx="4.31" ry="1.35" fill="#7f8d9d" opacity="0.6"/>
<ellipse cx="218.23" cy="323.66" rx="2.07" ry="1.52" fill="#7f8d9d" opacity="0.6"/>
<ellipse cx="590.37" cy="329.26" rx="3.94" ry="1.88" fill="#7f8d9d" opacity="0.6"/>
<ellipse cx="567.34" cy="330.11" rx="3.15" ry="2.01" fill="#7f8d9d" opacity="0.6"/>
<ellipse cx="101.67" cy="326.99" rx="2.85" ry="2.05" fill="#7f8d9d" opacity="0.6"/>
<ellipse cx="422.38" cy="320.29" rx="1.65" ry="2.3" fill="#7f8d9d" opacity="0.6"/>
<ellipse cx="143.62" cy="323.08" rx="2.53" ry="1.42" fill="#7f8d9d" opacity="0.6"/>
<ellipse cx="473.34" cy="330.64" rx="2.28" ry="1.92" fill="#7f8d9d" opacity="0.6"/>
<ellipse cx="237.15" cy="324.36" rx="2.68" ry="1.23" fill="#7f8d9d" opacity="0.6"/>
<ellipse cx="162.13" cy="319.12" rx="4.22" ry="1.7" fill="#7f8d9d" opacity="0.6"/>
<ellipse cx="193.59" cy="329.59" rx="4.49" ry="1.63" fill="#7f8d9d" opacity="0.6"/>
<ellipse cx="150.24" cy="318.89" rx="1.77" ry="1.48" fill="#7f8d9d" opacity="0.6"/>
<ellipse cx="124.1" cy="319.59" rx="2.28" ry="1.8" fill="#7f8d9d" opacity="0.6"/>
<ellipse cx="553.23" cy="327.24" rx="2.74" ry="1.58" fill="#7f8d9d" opacity="0.6"/>
<ellipse cx="357.53" cy="321.65" rx="2.51" ry="1.09" fill="#7f8d9d" opacity="0.6"/>
<ellipse cx="224.58" cy="330.52" rx="1.88" ry="1.7" fill="#7f8d9d" opacity="0.6"/>
<ellipse cx="414.37" cy="328.94" rx="2.15" ry="1.38" fill="#7f8d9d" opacity="0.6"/>
<ellipse cx="208.92" cy="322" rx="2.84" ry="2.34" fill="#7f8d9d" opacity="0.6"/>
<ellipse cx="532.44" cy="329.09" rx="1.57" ry="1.05" fill="#7f8d9d" opacity="0.6"/>
<ellipse cx="457.43" cy="329.44" rx="2.92" ry="1.82" fill="#7f8d9d" opacity="0.6"/>
<ellipse cx="75.1" cy="321.87" rx="4.28" ry="2.16" fill="#7f8d9d" opacity="0.6"/>
<ellipse cx="536.09" cy="330.58" rx="2.25" ry="1.15" fill="#7f8d9d" opacity="0.6"/>
<ellipse cx="158.21" cy="323.84" rx="3.55" ry="2.32" fill="#7f8d9d" opacity="0.6"/>
<ellipse cx="464.02" cy="325.71" rx="3.79" ry="1.64" fill="#7f8d9d" opacity="0.6"/>
<ellipse cx="372.26" cy="316.59" rx="3.85" ry="1.33" fill="#7f8d9d" opacity="0.6"/>
<ellipse cx="570.84" cy="325.68" rx="2.41" ry="1.18" fill="#7f8d9d" opacity="0.6"/>
<ellipse cx="210.72" cy="325.54" rx="3.6" ry="1.16" fill="#7f8d9d" opacity="0.6"/>
<ellipse cx="112.92" cy="323.87" rx="3.25" ry="1.54" fill="#7f8d9d" opacity="0.6"/>
<ellipse cx="195.51" cy="325.02" rx="1.53" ry="1.42" fill="#7f8d9d" opacity="0.6"/>
<ellipse cx="323.31" cy="330.38" rx="3.43" ry="2.24" fill="#7f8d9d" opacity="0.6"/>
<ellipse cx="331.19" cy="319.52" rx="2.24" ry="2.34" fill="#7f8d9d" opacity="0.6"/>
<ellipse cx="454.81" cy="320.61" rx="1.57" ry="1.7" fill="#7f8d9d" opacity="0.6"/>
<ellipse cx="438.54" cy="322.3" rx="2.27" ry="1.93" fill="#7f8d9d" opacity="0.6"/>
<ellipse cx="573.66" cy="319.4" rx="1.6" ry="1.47" fill="#7f8d9d" opacity="0.6"/>
<ellipse cx="301.68" cy="326.24" rx="2.09" ry="2.12" fill="#7f8d9d" opacity="0.6"/>
<ellipse cx="473.39" cy="323.57" rx="2.12" ry="2.36" fill="#7f8d9d" opacity="0.6"/>
<ellipse cx="243.01" cy="328.3" rx="2.19" ry="1.31" fill="#7f8d9d" opacity="0.6"/>
<ellipse cx="484.89" cy="320.42" rx="4.36" ry="1.69" fill="#7f8d9d" opacity="0.6"/>
<ellipse cx="175.96" cy="319.35" rx="2.75" ry="1.93" fill="#7f8d9d" opacity="0.6"/>
<ellipse cx="586.38" cy="318.2" rx="2.68" ry="1.3" fill="#7f8d9d" opacity="0.6"/>
<ellipse cx="600.05" cy="318.13" rx="1.66" ry="1.08" fill="#7f8d9d" opacity="0.6"/>
<ellipse cx="287" cy="329.47" rx="4.15" ry="2.03" fill="#7f8d9d" opacity="0.6"/>
<ellipse cx="612.67" cy="329.97" rx="2.49" ry="1.26" fill="#7f8d9d" opacity="0.6"/>
<ellipse cx="579.44" cy="327.19" rx="1.6" ry="1.93" fill="#7f8d9d" opacity="0.6"/>
<ellipse cx="279.08" cy="321.61" rx="2.5" ry="1.24" fill="#7f8d9d" opacity="0.6"/>
<ellipse cx="76.55" cy="320.2" rx="2.55" ry="2.34" fill="#7f8d9d" opacity="0.6"/>
<ellipse cx="141.68" cy="330.46" rx="2.12" ry="1.5" fill="#7f8d9d" opacity="0.6"/>
<ellipse cx="517.83" cy="328.33" rx="2.8" ry="1.07" fill="#7f8d9d" opacity="0.6"/>
<ellipse cx="330.2" cy="321.59" rx="4.26" ry="1.27" fill="#7f8d9d" opacity="0.6"/>
<ellipse cx="271.33" cy="329.45" rx="1.59" ry="1.58" fill="#7f8d9d" opacity="0.6"/>
<line x1="513.69" y1="314.47" x2="526.66" y2="309.86" stroke="#222" stroke-width="3.6" stroke-linecap="butt" />
<line x1="553.03" y1="300.02" x2="586.71" y2="302.93" stroke="#363636" stroke-width="3.6" stroke-linecap="butt" />
<line x1="50.79" y1="311.53" x2="63.53" y2="312.25" stroke="#424242" stroke-width="3.6" stroke-linecap="butt" />
<line x1="596.48" y1="302.81" x2="606.7" y2="302.51" stroke="#363636" stroke-width="3.6" stroke-linecap="butt" />
<line x1="514.82" y1="311.8" x2="538.06" y2="312.84" stroke="#424242" stroke-width="3.6" stroke-linecap="butt" />
<line x1="481.47" y1="289.75" x2="491.34" y2="308.62" stroke="#222" stroke-width="3.6" stroke-linecap="butt" />
<line x1="200.05" y1="295.11" x2="213.51" y2="295.1" stroke="#424242" stroke-width="3.6" stroke-linecap="butt" />
<line x1="401.79" y1="308.8" x2="419.08" y2="310.91" stroke="#363636" stroke-width="3.6" stroke-linecap="butt" />
<line x1="259.61" y1="312.42" x2="277.81" y2="310.48" stroke="#424242" stroke-width="3.6" stroke-linecap="butt" />
<line x1="192.87" y1="299.08" x2="205.53" y2="299.22" stroke="#424242" stroke-width="3.6" stroke-linecap="butt" />
<line x1="553.4" y1="298.94" x2="568.32" y2="298.62" stroke="#2c2c2c" stroke-width="3.6" stroke-linecap="butt" />
<line x1="581.82" y1="301.34" x2="594.16" y2="303.27" stroke="#363636" stroke-width="3.6" stroke-linecap="butt" />
<line x1="164.45" y1="304.14" x2="194.97" y2="300.3" stroke="#363636" stroke-width="3.6" stroke-linecap="butt" />
<line x1="289.31" y1="298.8" x2="289.4" y2="305.79" stroke="#222" stroke-width="3.6" stroke-linecap="butt" />
<line x1="500.87" y1="308.45" x2="521.17" y2="310.75" stroke="#363636" stroke-width="3.6" stroke-linecap="butt" />
<line x1="422.21" y1="306.45" x2="453.1" y2="300.44" stroke="#363636" stroke-width="3.6" stroke-linecap="butt" />
<line x1="408.66" y1="303.39" x2="439.92" y2="302.15" stroke="#424242" stroke-width="3.6" stroke-linecap="butt" />
<line x1="382.48" y1="299.12" x2="389.67" y2="305.12" stroke="#363636" stroke-width="3.6" stroke-linecap="butt" />
<line x1="469.64" y1="292.32" x2="485.24" y2="302.26" stroke="#2c2c2c" stroke-width="3.6" stroke-linecap="butt" />
<line x1="228.97" y1="310.32" x2="226.68" y2="317.54" stroke="#2c2c2c" stroke-width="3.6" stroke-linecap="butt" />
<line x1="416.38" y1="314.15" x2="427.43" y2="314.68" stroke="#2c2c2c" stroke-width="3.6" stroke-linecap="butt" />
<line x1="261.32" y1="297.52" x2="288.26" y2="294.63" stroke="#363636" stroke-width="3.6" stroke-linecap="butt" />
<line x1="111.97" y1="307.43" x2="132.95" y2="308.55" stroke="#363636" stroke-width="3.6" stroke-linecap="butt" />
<line x1="303.93" y1="295.43" x2="318.09" y2="312.48" stroke="#424242" stroke-width="3.6" stroke-linecap="butt" />
<line x1="278.89" y1="295" x2="289.9" y2="294.35" stroke="#2c2c2c" stroke-width="3.6" stroke-linecap="butt" />
<line x1="102.22" y1="303.25" x2="102.03" y2="319.43" stroke="#2c2c2c" stroke-width="3.6" stroke-linecap="butt" />
<line x1="64.57" y1="290.46" x2="75.06" y2="298.86" stroke="#2c2c2c" stroke-width="3.6" stroke-linecap="butt" />
<line x1="431.65" y1="309.68" x2="464.66" y2="312.37" stroke="#363636" stroke-width="3.6" stroke-linecap="butt" />
<line x1="564.93" y1="302.66" x2="582.27" y2="306.16" stroke="#222" stroke-width="3.6" stroke-linecap="butt" />
<line x1="162.64" y1="303.9" x2="175.35" y2="302.27" stroke="#222" stroke-width="3.6" stroke-linecap="butt" />
<line x1="411.61" y1="300.72" x2="427.61" y2="303.27" stroke="#424242" stroke-width="3.6" stroke-linecap="butt" />
<line x1="467.12" y1="302.85" x2="488.54" y2="301.73" stroke="#2c2c2c" stroke-width="3.6" stroke-linecap="butt" />
<line x1="393.47" y1="318.95" x2="421.75" y2="314.94" stroke="#222" stroke-width="3.6" stroke-linecap="butt" />
<line x1="176.35" y1="296.91" x2="187.64" y2="303.64" stroke="#222" stroke-width="3.6" stroke-linecap="butt" />
<line x1="55.31" y1="294.38" x2="80.24" y2="291.75" stroke="#2c2c2c" stroke-width="3.6" stroke-linecap="butt" />
<line x1="267.06" y1="310.21" x2="262.64" y2="317.22" stroke="#2c2c2c" stroke-width="3.6" stroke-linecap="butt" />
<line x1="543.72" y1="316.85" x2="564.78" y2="308.26" stroke="#424242" stroke-width="3.6" stroke-linecap="butt" />
<line x1="389.6" y1="305.97" x2="410.16" y2="305.91" stroke="#2c2c2c" stroke-width="3.6" stroke-linecap="butt" />
<line x1="142.4" y1="311.86" x2="150.06" y2="319.73" stroke="#424242" stroke-width="3.6" stroke-linecap="butt" />
<line x1="530.05" y1="290.69" x2="512.08" y2="304.04" stroke="#222" stroke-width="3.6" stroke-linecap="butt" />
<line x1="261.91" y1="302.49" x2="278.02" y2="305.35" stroke="#222" stroke-width="3.6" stroke-linecap="butt" />
<line x1="115.84" y1="309.35" x2="135.43" y2="321.21" stroke="#363636" stroke-width="3.6" stroke-linecap="butt" />
<line x1="209.11" y1="318.94" x2="239.67" y2="313.48" stroke="#2c2c2c" stroke-width="3.6" stroke-linecap="butt" />
<line x1="591.41" y1="305.65" x2="601.21" y2="317.66" stroke="#222" stroke-width="3.6" stroke-linecap="butt" />
<line x1="534.16" y1="302.77" x2="558.56" y2="305.09" stroke="#2c2c2c" stroke-width="3.6" stroke-linecap="butt" />
<line x1="132.65" y1="294.55" x2="143.05" y2="292.79" stroke="#2c2c2c" stroke-width="3.6" stroke-linecap="butt" />
<line x1="445.33" y1="311.15" x2="458.42" y2="306.54" stroke="#222" stroke-width="3.6" stroke-linecap="butt" />
<line x1="553.69" y1="311.41" x2="564.46" y2="312.37" stroke="#222" stroke-width="3.6" stroke-linecap="butt" />
<line x1="519.27" y1="310.25" x2="536.25" y2="307.33" stroke="#363636" stroke-width="3.6" stroke-linecap="butt" />
<line x1="283.34" y1="291.18" x2="312.3" y2="295.87" stroke="#424242" stroke-width="3.6" stroke-linecap="butt" />
<line x1="531.78" y1="308.97" x2="553.9" y2="307.94" stroke="#222" stroke-width="3.6" stroke-linecap="butt" />
<line x1="351.77" y1="296.64" x2="374.64" y2="300.19" stroke="#363636" stroke-width="3.6" stroke-linecap="butt" />
<line x1="474.16" y1="317.51" x2="509.3" y2="317.38" stroke="#363636" stroke-width="3.6" stroke-linecap="butt" />
<line x1="592.33" y1="307.5" x2="614.63" y2="304.25" stroke="#222" stroke-width="3.6" stroke-linecap="butt" />
<line x1="583.29" y1="311.74" x2="602.48" y2="312.6" stroke="#424242" stroke-width="3.6" stroke-linecap="butt" />
<line x1="578.74" y1="314.4" x2="595.32" y2="316.19" stroke="#2c2c2c" stroke-width="3.6" stroke-linecap="butt" />
<line x1="262.98" y1="316.16" x2="281.71" y2="314.04" stroke="#363636" stroke-width="3.6" stroke-linecap="butt" />
<line x1="341.71" y1="316.31" x2="366.19" y2="313.09" stroke="#2c2c2c" stroke-width="3.6" stroke-linecap="butt" />
<line x1="232.01" y1="309.02" x2="260.82" y2="309.11" stroke="#2c2c2c" stroke-width="3.6" stroke-linecap="butt" />
<line x1="462.27" y1="308.52" x2="476.47" y2="307.62" stroke="#222" stroke-width="3.6" stroke-linecap="butt" />
<line x1="154.09" y1="298.71" x2="179.88" y2="294.84" stroke="#222" stroke-width="3.6" stroke-linecap="butt" />
<line x1="205.05" y1="317.44" x2="226.75" y2="312.83" stroke="#363636" stroke-width="3.6" stroke-linecap="butt" />
<line x1="329.68" y1="290.13" x2="311.24" y2="302.96" stroke="#424242" stroke-width="3.6" stroke-linecap="butt" />
<line x1="526.4" y1="307.53" x2="553.11" y2="311.86" stroke="#222" stroke-width="3.6" stroke-linecap="butt" />
<line x1="307.16" y1="302.2" x2="323.01" y2="299.45" stroke="#424242" stroke-width="3.6" stroke-linecap="butt" />
<line x1="316.79" y1="291.72" x2="346.44" y2="295.27" stroke="#424242" stroke-width="3.6" stroke-linecap="butt" />
<line x1="520.09" y1="316.92" x2="543.24" y2="314.49" stroke="#222" stroke-width="3.6" stroke-linecap="butt" />
<line x1="530.64" y1="308.36" x2="550.2" y2="300.48" stroke="#424242" stroke-width="3.6" stroke-linecap="butt" />
<line x1="466.94" y1="304.29" x2="493.52" y2="304.56" stroke="#363636" stroke-width="3.6" stroke-linecap="butt" />
<line x1="199.72" y1="303.72" x2="224.69" y2="302.26" stroke="#222" stroke-width="3.6" stroke-linecap="butt" />
<line x1="189.13" y1="305.83" x2="178.07" y2="317.25" stroke="#2c2c2c" stroke-width="3.6" stroke-linecap="butt" />
<line x1="113.57" y1="311.54" x2="144.61" y2="313.29" stroke="#2c2c2c" stroke-width="3.6" stroke-linecap="butt" />
<line x1="242.57" y1="306.98" x2="272.12" y2="310.96" stroke="#424242" stroke-width="3.6" stroke-linecap="butt" />
<line x1="247.05" y1="314.85" x2="269.49" y2="313.68" stroke="#363636" stroke-width="3.6" stroke-linecap="butt" />
<line x1="253.21" y1="308.73" x2="267.03" y2="309.99" stroke="#363636" stroke-width="3.6" stroke-linecap="butt" />
<line x1="532.15" y1="291.73" x2="557.04" y2="297.13" stroke="#222" stroke-width="3.6" stroke-linecap="butt" />
<line x1="424.3" y1="298.88" x2="438.97" y2="297.6" stroke="#424242" stroke-width="3.6" stroke-linecap="butt" />
<line x1="240.36" y1="294.53" x2="266.66" y2="299.1" stroke="#363636" stroke-width="3.6" stroke-linecap="butt" />
<line x1="159.66" y1="310.21" x2="176.53" y2="310.43" stroke="#2c2c2c" stroke-width="3.6" stroke-linecap="butt" />
<line x1="517.43" y1="304.91" x2="540.38" y2="304.76" stroke="#222" stroke-width="3.6" stroke-linecap="butt" />
<line x1="146.26" y1="294.76" x2="147.51" y2="307.27" stroke="#222" stroke-width="3.6" stroke-linecap="butt" />
<line x1="145.25" y1="306.91" x2="171.62" y2="297.11" stroke="#222" stroke-width="3.6" stroke-linecap="butt" />
<line x1="341.58" y1="304.13" x2="353.6" y2="306.1" stroke="#363636" stroke-width="3.6" stroke-linecap="butt" />
<line x1="238.79" y1="314.37" x2="262.35" y2="310.55" stroke="#363636" stroke-width="3.6" stroke-linecap="butt" />
<line x1="209.31" y1="313.67" x2="236.33" y2="313.71" stroke="#222" stroke-width="3.6" stroke-linecap="butt" />
<line x1="234.52" y1="301.78" x2="254.69" y2="300.07" stroke="#424242" stroke-width="3.6" stroke-linecap="butt" />
<line x1="352.41" y1="295.51" x2="382.62" y2="292.97" stroke="#424242" stroke-width="3.6" stroke-linecap="butt" />
<line x1="402.05" y1="301.76" x2="414.68" y2="315.58" stroke="#2c2c2c" stroke-width="3.6" stroke-linecap="butt" />
<line x1="98.79" y1="292.78" x2="127.37" y2="302.28" stroke="#2c2c2c" stroke-width="3.6" stroke-linecap="butt" />
<line x1="501.84" y1="300" x2="509.54" y2="314.1" stroke="#222" stroke-width="3.6" stroke-linecap="butt" />
<line x1="343.84" y1="299.95" x2="336.6" y2="312.16" stroke="#222" stroke-width="3.6" stroke-linecap="butt" />
<line x1="438.9" y1="306.62" x2="450.34" y2="309.08" stroke="#424242" stroke-width="3.6" stroke-linecap="butt" />
<line x1="169.24" y1="298.35" x2="184.03" y2="295.23" stroke="#222" stroke-width="3.6" stroke-linecap="butt" />
<line x1="119.26" y1="292.55" x2="138.54" y2="294.34" stroke="#2c2c2c" stroke-width="3.6" stroke-linecap="butt" />
<line x1="456.27" y1="295.59" x2="489.99" y2="294.62" stroke="#222" stroke-width="3.6" stroke-linecap="butt" />
<line x1="457.57" y1="291.23" x2="474.35" y2="295.34" stroke="#2c2c2c" stroke-width="3.6" stroke-linecap="butt" />
<line x1="609.1" y1="306.24" x2="598.42" y2="321.51" stroke="#2c2c2c" stroke-width="3.6" stroke-linecap="butt" />
<line x1="608.03" y1="285.56" x2="609.42" y2="306.28" stroke="#363636" stroke-width="3.6" stroke-linecap="butt" />
<line x1="207.59" y1="291.43" x2="237.49" y2="297.6" stroke="#363636" stroke-width="3.6" stroke-linecap="butt" />
<line x1="374.57" y1="318.14" x2="405.46" y2="316.68" stroke="#363636" stroke-width="3.6" stroke-linecap="butt" />
<line x1="440.91" y1="301.88" x2="458.18" y2="300.19" stroke="#2c2c2c" stroke-width="3.6" stroke-linecap="butt" />
<line x1="524.99" y1="309.77" x2="515.28" y2="319.59" stroke="#222" stroke-width="3.6" stroke-linecap="butt" />
<line x1="351.99" y1="303.05" x2="376.83" y2="307.19" stroke="#424242" stroke-width="3.6" stroke-linecap="butt" />
<line x1="309.84" y1="299.39" x2="333.42" y2="296.94" stroke="#363636" stroke-width="3.6" stroke-linecap="butt" />
<line x1="497.89" y1="291.88" x2="497.01" y2="305.76" stroke="#2c2c2c" stroke-width="3.6" stroke-linecap="butt" />
<line x1="165.08" y1="288.78" x2="161.69" y2="306.83" stroke="#2c2c2c" stroke-width="3.6" stroke-linecap="butt" />
<line x1="189.1" y1="316.09" x2="203.16" y2="316.05" stroke="#222" stroke-width="3.6" stroke-linecap="butt" />
<line x1="260.17" y1="299.9" x2="245.11" y2="312.07" stroke="#2c2c2c" stroke-width="3.6" stroke-linecap="butt" />
<line x1="196.99" y1="310.95" x2="212.8" y2="314.01" stroke="#222" stroke-width="3.6" stroke-linecap="butt" />
<line x1="246.6" y1="311.24" x2="251.71" y2="324.49" stroke="#222" stroke-width="3.6" stroke-linecap="butt" />
<line x1="536.29" y1="307.85" x2="562.67" y2="310.14" stroke="#424242" stroke-width="3.6" stroke-linecap="butt" />
<line x1="143.06" y1="311.49" x2="176.28" y2="317" stroke="#222" stroke-width="3.6" stroke-linecap="butt" />
<line x1="574.33" y1="312.41" x2="570.23" y2="318.82" stroke="#2c2c2c" stroke-width="3.6" stroke-linecap="butt" />
<line x1="226.16" y1="294.54" x2="247.91" y2="291.75" stroke="#363636" stroke-width="3.6" stroke-linecap="butt" />
<line x1="191.19" y1="296.19" x2="213.35" y2="296.02" stroke="#2c2c2c" stroke-width="3.6" stroke-linecap="butt" />
<line x1="498.27" y1="299.56" x2="527.21" y2="294.29" stroke="#222" stroke-width="3.6" stroke-linecap="butt" />
<line x1="574.84" y1="304.59" x2="596.28" y2="300.66" stroke="#363636" stroke-width="3.6" stroke-linecap="butt" />
<line x1="128.44" y1="297.79" x2="145.18" y2="299.3" stroke="#424242" stroke-width="3.6" stroke-linecap="butt" />
<line x1="187.27" y1="293.36" x2="205.52" y2="293.91" stroke="#424242" stroke-width="3.6" stroke-linecap="butt" />
<line x1="112.76" y1="309.13" x2="128.08" y2="325.8" stroke="#222" stroke-width="3.6" stroke-linecap="butt" />
<line x1="192.69" y1="298.61" x2="212.74" y2="297.47" stroke="#424242" stroke-width="3.6" stroke-linecap="butt" />
<line x1="558.82" y1="290.58" x2="578.23" y2="298.29" stroke="#424242" stroke-width="3.6" stroke-linecap="butt" />
<line x1="47.71" y1="314.93" x2="64.49" y2="312.68" stroke="#2c2c2c" stroke-width="3.6" stroke-linecap="butt" />
<line x1="117.85" y1="295.64" x2="150.38" y2="299.37" stroke="#424242" stroke-width="3.6" stroke-linecap="butt" />
<line x1="483.68" y1="296.67" x2="498.75" y2="298.1" stroke="#222" stroke-width="3.6" stroke-linecap="butt" />
<line x1="435.71" y1="305.77" x2="467.6" y2="306.2" stroke="#424242" stroke-width="3.6" stroke-linecap="butt" />
<line x1="101.39" y1="302.58" x2="112.12" y2="303.9" stroke="#363636" stroke-width="3.6" stroke-linecap="butt" />
<line x1="372.42" y1="309.81" x2="396.44" y2="319.1" stroke="#363636" stroke-width="3.6" stroke-linecap="butt" />
<line x1="494.61" y1="309.68" x2="508.27" y2="319.72" stroke="#222" stroke-width="3.6" stroke-linecap="butt" />
<line x1="350.43" y1="308.22" x2="367.54" y2="304.65" stroke="#222" stroke-width="3.6" stroke-linecap="butt" />
<line x1="68.94" y1="309.28" x2="63.35" y2="323.04" stroke="#424242" stroke-width="3.6" stroke-linecap="butt" />
<line x1="108.18" y1="316.45" x2="119.7" y2="313.02" stroke="#222" stroke-width="3.6" stroke-linecap="butt" />
<line x1="288.34" y1="292.18" x2="286.53" y2="300.67" stroke="#222" stroke-width="3.6" stroke-linecap="butt" />
<line x1="577.16" y1="303.22" x2="607.31" y2="302.22" stroke="#363636" stroke-width="3.6" stroke-linecap="butt" />
<line x1="269.06" y1="313.23" x2="300.15" y2="314.7" stroke="#222" stroke-width="3.6" stroke-linecap="butt" />
<line x1="231.5" y1="295.93" x2="250.82" y2="297.4" stroke="#2c2c2c" stroke-width="3.6" stroke-linecap="butt" />
<line x1="104.36" y1="298.41" x2="85.02" y2="309.24" stroke="#222" stroke-width="3.6" stroke-linecap="butt" />
<line x1="61.79" y1="310.32" x2="87.6" y2="307.76" stroke="#363636" stroke-width="3.6" stroke-linecap="butt" />
<line x1="118.51" y1="294.59" x2="130.96" y2="292.1" stroke="#363636" stroke-width="3.6" stroke-linecap="butt" />
<line x1="111.19" y1="301.89" x2="95.62" y2="313.63" stroke="#363636" stroke-width="3.6" stroke-linecap="butt" />
<line x1="195.4" y1="290.66" x2="193.54" y2="299.73" stroke="#363636" stroke-width="3.6" stroke-linecap="butt" />
<line x1="311.63" y1="306.8" x2="326.54" y2="306.6" stroke="#424242" stroke-width="3.6" stroke-linecap="butt" />
<line x1="600.89" y1="299.33" x2="620.28" y2="306.5" stroke="#363636" stroke-width="3.6" stroke-linecap="butt" />
<line x1="547.61" y1="298" x2="569.01" y2="298.81" stroke="#222" stroke-width="3.6" stroke-linecap="butt" />
<line x1="341" y1="312.72" x2="361.48" y2="315" stroke="#363636" stroke-width="3.6" stroke-linecap="butt" />
<line x1="129.89" y1="294.19" x2="140.92" y2="301.94" stroke="#2c2c2c" stroke-width="3.6" stroke-linecap="butt" />
<line x1="281.24" y1="295.37" x2="302.09" y2="295.8" stroke="#363636" stroke-width="3.6" stroke-linecap="butt" />
<line x1="545.52" y1="308.48" x2="564.67" y2="307.89" stroke="#424242" stroke-width="3.6" stroke-linecap="butt" />
<line x1="411.14" y1="294.51" x2="441.69" y2="291.82" stroke="#424242" stroke-width="3.6" stroke-linecap="butt" />
<line x1="368.01" y1="304.51" x2="401.44" y2="310.57" stroke="#2c2c2c" stroke-width="3.6" stroke-linecap="butt" />
<line x1="595.81" y1="318.26" x2="628.24" y2="312.3" stroke="#363636" stroke-width="3.6" stroke-linecap="butt" />
<line x1="358.17" y1="317.21" x2="368.95" y2="318.7" stroke="#363636" stroke-width="3.6" stroke-linecap="butt" />
<line x1="298.46" y1="295.11" x2="330.75" y2="291.41" stroke="#424242" stroke-width="3.6" stroke-linecap="butt" />
<line x1="326.69" y1="303.63" x2="341.08" y2="304.38" stroke="#363636" stroke-width="3.6" stroke-linecap="butt" />
<line x1="249.71" y1="293.1" x2="280.48" y2="296.66" stroke="#424242" stroke-width="3.6" stroke-linecap="butt" />
<line x1="403.75" y1="304.37" x2="429.49" y2="307.83" stroke="#222" stroke-width="3.6" stroke-linecap="butt" />
<line x1="243.22" y1="318.77" x2="271.53" y2="316.92" stroke="#222" stroke-width="3.6" stroke-linecap="butt" />
<line x1="566.76" y1="308.26" x2="594.16" y2="297.61" stroke="#2c2c2c" stroke-width="3.6" stroke-linecap="butt" />
<line x1="378.39" y1="304.22" x2="389.95" y2="302.34" stroke="#424242" stroke-width="3.6" stroke-linecap="butt" />
<line x1="520.97" y1="310.64" x2="532.35" y2="306.01" stroke="#2c2c2c" stroke-width="3.6" stroke-linecap="butt" />
<line x1="251.16" y1="295.11" x2="264.35" y2="299.36" stroke="#424242" stroke-width="3.6" stroke-linecap="butt" />
<line x1="58.1" y1="297.59" x2="74.3" y2="299.41" stroke="#222" stroke-width="3.6" stroke-linecap="butt" />
<line x1="145.34" y1="300" x2="147.33" y2="315.35" stroke="#424242" stroke-width="3.6" stroke-linecap="butt" />
<line x1="613.81" y1="284.97" x2="618.74" y2="304.4" stroke="#424242" stroke-width="3.6" stroke-linecap="butt" />
<line x1="57.81" y1="315.6" x2="77.89" y2="313.81" stroke="#363636" stroke-width="3.6" stroke-linecap="butt" />
<line x1="110.31" y1="310.05" x2="131.35" y2="302.64" stroke="#424242" stroke-width="3.6" stroke-linecap="butt" />
<line x1="156.84" y1="301.65" x2="172.27" y2="298.53" stroke="#2c2c2c" stroke-width="3.6" stroke-linecap="butt" />
<line x1="101.25" y1="300.83" x2="114.91" y2="298.65" stroke="#363636" stroke-width="3.6" stroke-linecap="butt" />
<line x1="171.1" y1="302.86" x2="186.98" y2="303.4" stroke="#424242" stroke-width="3.6" stroke-linecap="butt" />
<line x1="431.72" y1="316.14" x2="452.18" y2="316.96" stroke="#2c2c2c" stroke-width="3.6" stroke-linecap="butt" />
<line x1="129.07" y1="308.81" x2="124.77" y2="314.72" stroke="#2c2c2c" stroke-width="3.6" stroke-linecap="butt" />
<line x1="227.44" y1="303.75" x2="238.72" y2="301.74" stroke="#363636" stroke-width="3.6" stroke-linecap="butt" />
<line x1="513.24" y1="307.11" x2="519.5" y2="316.81" stroke="#424242" stroke-width="3.6" stroke-linecap="butt" />
<line x1="533.46" y1="304.32" x2="544.18" y2="304.9" stroke="#363636" stroke-width="3.6" stroke-linecap="butt" />
<line x1="561.66" y1="293.01" x2="576.24" y2="294.26" stroke="#222" stroke-width="3.6" stroke-linecap="butt" />
<line x1="211.65" y1="303.76" x2="208.79" y2="312.69" stroke="#363636" stroke-width="3.6" stroke-linecap="butt" />
<line x1="132.13" y1="310.79" x2="156.86" y2="312.13" stroke="#363636" stroke-width="3.6" stroke-linecap="butt" />
<line x1="570.55" y1="314.33" x2="600.29" y2="305.17" stroke="#222" stroke-width="3.6" stroke-linecap="butt" />
<line x1="603.29" y1="312.01" x2="623.06" y2="308.04" stroke="#424242" stroke-width="3.6" stroke-linecap="butt" />
<line x1="638.99" y1="301.13" x2="614.84" y2="315.64" stroke="#424242" stroke-width="3.6" stroke-linecap="butt" />
<line x1="353.42" y1="302.01" x2="339.5" y2="317.82" stroke="#222" stroke-width="3.6" stroke-linecap="butt" />
<line x1="588.91" y1="315.26" x2="612.43" y2="312" stroke="#2c2c2c" stroke-width="3.6" stroke-linecap="butt" />
<line x1="599.03" y1="290.57" x2="615.26" y2="303.83" stroke="#2c2c2c" stroke-width="3.6" stroke-linecap="butt" />
<line x1="443.36" y1="295.66" x2="475.28" y2="290.64" stroke="#2c2c2c" stroke-width="3.6" stroke-linecap="butt" />
<line x1="379.34" y1="301.04" x2="404" y2="297" stroke="#424242" stroke-width="3.6" stroke-linecap="butt" />
<line x1="530.36" y1="303.86" x2="541.69" y2="302.45" stroke="#363636" stroke-width="3.6" stroke-linecap="butt" />
<line x1="221.11" y1="297.88" x2="237.16" y2="293.65" stroke="#222" stroke-width="3.6" stroke-linecap="butt" />
<line x1="74.99" y1="303.57" x2="87.24" y2="305.86" stroke="#424242" stroke-width="3.6" stroke-linecap="butt" />
<line x1="590.24" y1="306.56" x2="616.17" y2="303.86" stroke="#363636" stroke-width="3.6" stroke-linecap="butt" />
<line x1="421.86" y1="295.52" x2="436.56" y2="294.39" stroke="#2c2c2c" stroke-width="3.6" stroke-linecap="butt" />
<line x1="104.48" y1="311.78" x2="122.61" y2="310.16" stroke="#363636" stroke-width="3.6" stroke-linecap="butt" />
<line x1="122.51" y1="308.2" x2="143.74" y2="323.78" stroke="#2c2c2c" stroke-width="3.6" stroke-linecap="butt" />
<line x1="331.22" y1="306.08" x2="345.34" y2="304.89" stroke="#424242" stroke-width="3.6" stroke-linecap="butt" />
<line x1="414.83" y1="303.11" x2="424.9" y2="302.96" stroke="#424242" stroke-width="3.6" stroke-linecap="butt" />
<line x1="124.03" y1="297.3" x2="150.04" y2="292.3" stroke="#2c2c2c" stroke-width="3.6" stroke-linecap="butt" />
<line x1="561.91" y1="297.38" x2="584.08" y2="296.85" stroke="#363636" stroke-width="3.6" stroke-linecap="butt" />
<line x1="335.57" y1="303.48" x2="366.66" y2="303.94" stroke="#222" stroke-width="3.6" stroke-linecap="butt" />
<line x1="460.26" y1="301.05" x2="478.03" y2="301.53" stroke="#363636" stroke-width="3.6" stroke-linecap="butt" />
<line x1="345.59" y1="310.41" x2="372.25" y2="307.27" stroke="#363636" stroke-width="3.6" stroke-linecap="butt" />
<line x1="365.72" y1="317.37" x2="380.17" y2="315.78" stroke="#2c2c2c" stroke-width="3.6" stroke-linecap="butt" />
<line x1="356.56" y1="299.86" x2="381.58" y2="291.76" stroke="#2c2c2c" stroke-width="3.6" stroke-linecap="butt" />
<line x1="356.4" y1="298.17" x2="388.5" y2="299.15" stroke="#222" stroke-width="3.6" stroke-linecap="butt" />
<line x1="502.61" y1="296.34" x2="524.57" y2="296.37" stroke="#424242" stroke-width="3.6" stroke-linecap="butt" />
<line x1="356.86" y1="318.51" x2="376.9" y2="315.88" stroke="#222" stroke-width="3.6" stroke-linecap="butt" />
<line x1="274.31" y1="283.95" x2="262.4" y2="302.81" stroke="#222" stroke-width="3.6" stroke-linecap="butt" />
<line x1="397.04" y1="310.75" x2="424.83" y2="318.86" stroke="#222" stroke-width="3.6" stroke-linecap="butt" />
<line x1="512.53" y1="296.9" x2="543.64" y2="295.24" stroke="#363636" stroke-width="3.6" stroke-linecap="butt" />
<line x1="103.76" y1="303.86" x2="120.44" y2="309.58" stroke="#424242" stroke-width="3.6" stroke-linecap="butt" />
<line x1="59.79" y1="317.78" x2="74.6" y2="317.65" stroke="#363636" stroke-width="3.6" stroke-linecap="butt" />
<line x1="539.12" y1="312.86" x2="572.19" y2="306.61" stroke="#222" stroke-width="3.6" stroke-linecap="butt" />
<line x1="61.82" y1="317.9" x2="76.56" y2="317.82" stroke="#424242" stroke-width="3.6" stroke-linecap="butt" />
<line x1="528.41" y1="316.41" x2="547.62" y2="317.97" stroke="#2c2c2c" stroke-width="3.6" stroke-linecap="butt" />
<line x1="221.79" y1="293.42" x2="244.91" y2="299.12" stroke="#424242" stroke-width="3.6" stroke-linecap="butt" />
<line x1="579.02" y1="301.77" x2="605.25" y2="299.95" stroke="#2c2c2c" stroke-width="3.6" stroke-linecap="butt" />
<line x1="193.59" y1="301.61" x2="228.89" y2="298.06" stroke="#222" stroke-width="3.6" stroke-linecap="butt" />
<line x1="569.99" y1="317.19" x2="588.66" y2="313.94" stroke="#363636" stroke-width="3.6" stroke-linecap="butt" />
<line x1="496.75" y1="303.33" x2="522.07" y2="294.57" stroke="#2c2c2c" stroke-width="3.6" stroke-linecap="butt" />
<line x1="252.29" y1="300.17" x2="259.3" y2="313.37" stroke="#2c2c2c" stroke-width="3.6" stroke-linecap="butt" />
<line x1="521.86" y1="311.73" x2="515.5" y2="324.1" stroke="#363636" stroke-width="3.6" stroke-linecap="butt" />
<line x1="581.91" y1="308.74" x2="593.28" y2="306.6" stroke="#2c2c2c" stroke-width="3.6" stroke-linecap="butt" />
<line x1="385.7" y1="286.64" x2="392.81" y2="303.36" stroke="#222" stroke-width="3.6" stroke-linecap="butt" />
<line x1="527.44" y1="300.71" x2="543.58" y2="301.26" stroke="#222" stroke-width="3.6" stroke-linecap="butt" />
<line x1="171.97" y1="302.64" x2="188.22" y2="303.34" stroke="#222" stroke-width="3.6" stroke-linecap="butt" />
<line x1="601.93" y1="307.37" x2="611.83" y2="308.68" stroke="#363636" stroke-width="3.6" stroke-linecap="butt" />
<line x1="349.29" y1="314.1" x2="376.04" y2="315.67" stroke="#424242" stroke-width="3.6" stroke-linecap="butt" />
<line x1="390.3" y1="309.8" x2="418.52" y2="316.22" stroke="#424242" stroke-width="3.6" stroke-linecap="butt" />
<line x1="192.47" y1="306.66" x2="212.07" y2="302.51" stroke="#363636" stroke-width="3.6" stroke-linecap="butt" />
<line x1="135.17" y1="290.92" x2="154.38" y2="296.01" stroke="#2c2c2c" stroke-width="3.6" stroke-linecap="butt" />
<line x1="416.68" y1="309.11" x2="446.65" y2="306.97" stroke="#363636" stroke-width="3.6" stroke-linecap="butt" />
<line x1="421.77" y1="307.42" x2="435.01" y2="306.06" stroke="#222" stroke-width="3.6" stroke-linecap="butt" />
<line x1="378.12" y1="286.82" x2="371.5" y2="304.17" stroke="#222" stroke-width="3.6" stroke-linecap="butt" />
<line x1="575.76" y1="312.26" x2="607.98" y2="304.97" stroke="#363636" stroke-width="3.6" stroke-linecap="butt" />
<line x1="463.4" y1="312.54" x2="491.89" y2="318.6" stroke="#2c2c2c" stroke-width="3.6" stroke-linecap="butt" />
<line x1="299.18" y1="312.93" x2="316.84" y2="316.06" stroke="#222" stroke-width="3.6" stroke-linecap="butt" />
<line x1="109.17" y1="312.76" x2="124.37" y2="309.91" stroke="#424242" stroke-width="3.6" stroke-linecap="butt" />
<line x1="276.47" y1="318.8" x2="303.31" y2="313.16" stroke="#2c2c2c" stroke-width="3.6" stroke-linecap="butt" />
<line x1="169.91" y1="297.02" x2="205.25" y2="299.14" stroke="#2c2c2c" stroke-width="3.6" stroke-linecap="butt" />
<line x1="319.39" y1="315.3" x2="337.68" y2="317.39" stroke="#424242" stroke-width="3.6" stroke-linecap="butt" />
<line x1="538.37" y1="300.48" x2="571.06" y2="298" stroke="#2c2c2c" stroke-width="3.6" stroke-linecap="butt" />
<line x1="525.22" y1="309.34" x2="560.43" y2="313.43" stroke="#363636" stroke-width="3.6" stroke-linecap="butt" />
<line x1="441.94" y1="314.75" x2="453.24" y2="311.5" stroke="#2c2c2c" stroke-width="3.6" stroke-linecap="butt" />
<line x1="303.77" y1="300.79" x2="338.52" y2="305.06" stroke="#222" stroke-width="3.6" stroke-linecap="butt" />
<line x1="392.69" y1="289.7" x2="388.03" y2="306.37" stroke="#222" stroke-width="3.6" stroke-linecap="butt" />
<line x1="86.37" y1="313.29" x2="79" y2="317.41" stroke="#2c2c2c" stroke-width="3.6" stroke-linecap="butt" />
<line x1="443.32" y1="286.57" x2="452.14" y2="306.82" stroke="#222" stroke-width="3.6" stroke-linecap="butt" />
<line x1="250.22" y1="297.55" x2="260.24" y2="299.2" stroke="#363636" stroke-width="3.6" stroke-linecap="butt" />
<line x1="85.26" y1="294.05" x2="103.73" y2="294.11" stroke="#222" stroke-width="3.6" stroke-linecap="butt" />
<line x1="420.76" y1="303.2" x2="437.71" y2="310" stroke="#363636" stroke-width="3.6" stroke-linecap="butt" />
<line x1="356.55" y1="303.75" x2="372.29" y2="301.4" stroke="#363636" stroke-width="3.6" stroke-linecap="butt" />
<line x1="436.64" y1="307.86" x2="468.3" y2="314.64" stroke="#222" stroke-width="3.6" stroke-linecap="butt" />
<line x1="276.47" y1="306.1" x2="298.6" y2="307.82" stroke="#424242" stroke-width="3.6" stroke-linecap="butt" />
<line x1="351.27" y1="302.55" x2="343.34" y2="313.07" stroke="#222" stroke-width="3.6" stroke-linecap="butt" />
<line x1="263.61" y1="304.9" x2="297.37" y2="307.42" stroke="#363636" stroke-width="3.6" stroke-linecap="butt" />
<line x1="199.46" y1="314.4" x2="211.11" y2="313.65" stroke="#363636" stroke-width="3.6" stroke-linecap="butt" />
<line x1="359.11" y1="302.47" x2="351.32" y2="309.9" stroke="#222" stroke-width="3.6" stroke-linecap="butt" />
<line x1="241.68" y1="298.48" x2="237.29" y2="305.61" stroke="#363636" stroke-width="3.6" stroke-linecap="butt" />
<line x1="429.88" y1="298.2" x2="439.92" y2="313.93" stroke="#424242" stroke-width="3.6" stroke-linecap="butt" />
<line x1="411.57" y1="305.62" x2="425.72" y2="316.91" stroke="#2c2c2c" stroke-width="3.6" stroke-linecap="butt" />
<line x1="406.1" y1="305.85" x2="417.57" y2="306.32" stroke="#2c2c2c" stroke-width="3.6" stroke-linecap="butt" />
<line x1="228.9" y1="296.97" x2="232.39" y2="316.26" stroke="#2c2c2c" stroke-width="3.6" stroke-linecap="butt" />
<line x1="132.14" y1="311.51" x2="124.9" y2="322.41" stroke="#363636" stroke-width="3.6" stroke-linecap="butt" />
<line x1="593.91" y1="305.5" x2="627.46" y2="302.05" stroke="#2c2c2c" stroke-width="3.6" stroke-linecap="butt" />
<line x1="600.41" y1="313.79" x2="630.02" y2="314.79" stroke="#424242" stroke-width="3.6" stroke-linecap="butt" />
<line x1="269.49" y1="295.39" x2="291.19" y2="311.34" stroke="#424242" stroke-width="3.6" stroke-linecap="butt" />
<line x1="279.52" y1="302.63" x2="305.94" y2="307.05" stroke="#2c2c2c" stroke-width="3.6" stroke-linecap="butt" />
<line x1="279.04" y1="293.55" x2="291.28" y2="294.48" stroke="#222" stroke-width="3.6" stroke-linecap="butt" />
<line x1="368.37" y1="291.33" x2="396.02" y2="295.44" stroke="#424242" stroke-width="3.6" stroke-linecap="butt" />
<line x1="533.41" y1="305.07" x2="565.59" y2="308.45" stroke="#2c2c2c" stroke-width="3.6" stroke-linecap="butt" />
<line x1="230.08" y1="295.96" x2="247.2" y2="299.55" stroke="#363636" stroke-width="3.6" stroke-linecap="butt" />
<line x1="419.76" y1="297.87" x2="451.13" y2="303.07" stroke="#424242" stroke-width="3.6" stroke-linecap="butt" />
<line x1="542.9" y1="291.5" x2="548.81" y2="307.35" stroke="#2c2c2c" stroke-width="3.6" stroke-linecap="butt" />
<line x1="259.46" y1="312.83" x2="269.66" y2="313.25" stroke="#222" stroke-width="3.6" stroke-linecap="butt" />
<line x1="274.08" y1="308.58" x2="304.56" y2="305.67" stroke="#424242" stroke-width="3.6" stroke-linecap="butt" />
<line x1="282.12" y1="311.89" x2="293.16" y2="310.5" stroke="#222" stroke-width="3.6" stroke-linecap="butt" />
<line x1="508" y1="304.16" x2="535.19" y2="306.7" stroke="#363636" stroke-width="3.6" stroke-linecap="butt" />
<line x1="514.68" y1="302.62" x2="514.33" y2="310.1" stroke="#222" stroke-width="3.6" stroke-linecap="butt" />
<line x1="583.8" y1="305.01" x2="615.9" y2="301.72" stroke="#2c2c2c" stroke-width="3.6" stroke-linecap="butt" />
<line x1="70.06" y1="314.91" x2="87.79" y2="312.9" stroke="#363636" stroke-width="3.6" stroke-linecap="butt" />
<line x1="231.89" y1="315.37" x2="249.86" y2="312.7" stroke="#2c2c2c" stroke-width="3.6" stroke-linecap="butt" />
<line x1="425.79" y1="293.42" x2="418.55" y2="303.74" stroke="#424242" stroke-width="3.6" stroke-linecap="butt" />
<line x1="112.06" y1="315.09" x2="129.01" y2="312.34" stroke="#363636" stroke-width="3.6" stroke-linecap="butt" />
<line x1="53.26" y1="315.28" x2="77.11" y2="309.79" stroke="#222" stroke-width="3.6" stroke-linecap="butt" />
<line x1="165.59" y1="303.22" x2="175.13" y2="306.3" stroke="#222" stroke-width="3.6" stroke-linecap="butt" />
<line x1="606.06" y1="295.14" x2="612.53" y2="308.08" stroke="#363636" stroke-width="3.6" stroke-linecap="butt" />
<line x1="465.95" y1="295.71" x2="494.78" y2="299.23" stroke="#222" stroke-width="3.6" stroke-linecap="butt" />
<line x1="496.66" y1="309.89" x2="516.37" y2="305.89" stroke="#363636" stroke-width="3.6" stroke-linecap="butt" />
<line x1="82.94" y1="309.63" x2="114.42" y2="312.75" stroke="#424242" stroke-width="3.6" stroke-linecap="butt" />
<line x1="219.97" y1="301.03" x2="237.71" y2="298.03" stroke="#2c2c2c" stroke-width="3.6" stroke-linecap="butt" />
<line x1="131.22" y1="307.38" x2="166.75" y2="305.39" stroke="#2c2c2c" stroke-width="3.6" stroke-linecap="butt" />
<line x1="457.93" y1="308.71" x2="484.73" y2="304.03" stroke="#2c2c2c" stroke-width="3.6" stroke-linecap="butt" />
<line x1="96.33" y1="296.04" x2="113.42" y2="298.53" stroke="#222" stroke-width="3.6" stroke-linecap="butt" />
<line x1="87.91" y1="309.2" x2="118.73" y2="305.73" stroke="#222" stroke-width="3.6" stroke-linecap="butt" />
<line x1="392.4" y1="316.72" x2="404.25" y2="318.42" stroke="#424242" stroke-width="3.6" stroke-linecap="butt" />
<line x1="387.52" y1="296.34" x2="400.75" y2="298.8" stroke="#2c2c2c" stroke-width="3.6" stroke-linecap="butt" />
<line x1="124.26" y1="304.29" x2="159.06" y2="298.93" stroke="#424242" stroke-width="3.6" stroke-linecap="butt" />
<line x1="60.74" y1="307.28" x2="92.5" y2="305" stroke="#424242" stroke-width="3.6" stroke-linecap="butt" />
<line x1="109.94" y1="307.07" x2="105.93" y2="314.81" stroke="#363636" stroke-width="3.6" stroke-linecap="butt" />
<line x1="558.81" y1="310.65" x2="588.08" y2="312.6" stroke="#222" stroke-width="3.6" stroke-linecap="butt" />
<line x1="88.59" y1="305.94" x2="99.37" y2="319.21" stroke="#424242" stroke-width="3.6" stroke-linecap="butt" />
<line x1="369.06" y1="314.46" x2="399.9" y2="318.21" stroke="#424242" stroke-width="3.6" stroke-linecap="butt" />
<line x1="608.2" y1="291.72" x2="588.35" y2="305.7" stroke="#222" stroke-width="3.6" stroke-linecap="butt" />
<line x1="216.23" y1="308.29" x2="238.11" y2="307.9" stroke="#363636" stroke-width="3.6" stroke-linecap="butt" />
<line x1="361.26" y1="297.49" x2="373.77" y2="292.67" stroke="#424242" stroke-width="3.6" stroke-linecap="butt" />
<line x1="278.6" y1="307.64" x2="298.33" y2="305.27" stroke="#363636" stroke-width="3.6" stroke-linecap="butt" />
<line x1="609.48" y1="297.88" x2="598.05" y2="306.24" stroke="#363636" stroke-width="3.6" stroke-linecap="butt" />
<line x1="597.95" y1="304.66" x2="607.38" y2="306.67" stroke="#2c2c2c" stroke-width="3.6" stroke-linecap="butt" />
<line x1="116.49" y1="295.28" x2="112.4" y2="303.01" stroke="#363636" stroke-width="3.6" stroke-linecap="butt" />
<line x1="432.69" y1="284.88" x2="440.9" y2="304.91" stroke="#222" stroke-width="3.6" stroke-linecap="butt" />
<line x1="562.63" y1="306.15" x2="587.01" y2="304.75" stroke="#424242" stroke-width="3.6" stroke-linecap="butt" />
<line x1="238.07" y1="302.93" x2="228.51" y2="308.7" stroke="#363636" stroke-width="3.6" stroke-linecap="butt" />
<line x1="124.77" y1="308.73" x2="150.85" y2="306.65" stroke="#2c2c2c" stroke-width="3.6" stroke-linecap="butt" />
<line x1="227.63" y1="300.71" x2="216.05" y2="312.51" stroke="#363636" stroke-width="3.6" stroke-linecap="butt" />
<line x1="435.54" y1="296.07" x2="466.18" y2="303.8" stroke="#2c2c2c" stroke-width="3.6" stroke-linecap="butt" />
<line x1="338.38" y1="316.71" x2="362.95" y2="313.16" stroke="#424242" stroke-width="3.6" stroke-linecap="butt" />
<line x1="485.11" y1="297.29" x2="515.42" y2="306.71" stroke="#424242" stroke-width="3.6" stroke-linecap="butt" />
<line x1="100.15" y1="300.32" x2="134.11" y2="298.69" stroke="#424242" stroke-width="3.6" stroke-linecap="butt" />
<line x1="337.1" y1="295.65" x2="347.34" y2="310.77" stroke="#424242" stroke-width="3.6" stroke-linecap="butt" />
<line x1="477.92" y1="300.37" x2="494.6" y2="299.4" stroke="#222" stroke-width="3.6" stroke-linecap="butt" />
<line x1="62.25" y1="314.68" x2="95.11" y2="312.66" stroke="#222" stroke-width="3.6" stroke-linecap="butt" />
<line x1="469.72" y1="307.7" x2="504.06" y2="312.2" stroke="#222" stroke-width="3.6" stroke-linecap="butt" />
<line x1="489.48" y1="303.96" x2="508.22" y2="301.76" stroke="#2c2c2c" stroke-width="3.6" stroke-linecap="butt" />
<line x1="453.68" y1="296.93" x2="472.46" y2="296.25" stroke="#222" stroke-width="3.6" stroke-linecap="butt" />
<line x1="572.32" y1="294.28" x2="597.21" y2="295.05" stroke="#363636" stroke-width="3.6" stroke-linecap="butt" />
<line x1="493.79" y1="311.74" x2="516.06" y2="308.24" stroke="#363636" stroke-width="3.6" stroke-linecap="butt" />
<line x1="562.24" y1="305.35" x2="577.8" y2="317.8" stroke="#363636" stroke-width="3.6" stroke-linecap="butt" />
<line x1="456.82" y1="311.8" x2="469.15" y2="312.78" stroke="#222" stroke-width="3.6" stroke-linecap="butt" />
<line x1="250.61" y1="308.97" x2="271.63" y2="312" stroke="#222" stroke-width="3.6" stroke-linecap="butt" />
<line x1="614.53" y1="303.01" x2="615.42" y2="312.5" stroke="#363636" stroke-width="3.6" stroke-linecap="butt" />
<line x1="600.02" y1="307.15" x2="615.54" y2="305.38" stroke="#2c2c2c" stroke-width="3.6" stroke-linecap="butt" />
<line x1="61.07" y1="305.94" x2="81.44" y2="305.29" stroke="#424242" stroke-width="3.6" stroke-linecap="butt" />
<line x1="179.65" y1="312.79" x2="189.67" y2="316.59" stroke="#424242" stroke-width="3.6" stroke-linecap="butt" />
<line x1="378.59" y1="302.77" x2="391.05" y2="304.8" stroke="#2c2c2c" stroke-width="3.6" stroke-linecap="butt" />
<line x1="201.87" y1="297.75" x2="231.97" y2="297.96" stroke="#2c2c2c" stroke-width="3.6" stroke-linecap="butt" />
<line x1="370.53" y1="309.4" x2="381.53" y2="311.66" stroke="#2c2c2c" stroke-width="3.6" stroke-linecap="butt" />
<line x1="282.3" y1="312.61" x2="306.63" y2="315.16" stroke="#363636" stroke-width="3.6" stroke-linecap="butt" />
<line x1="632.76" y1="293.72" x2="613.46" y2="307.57" stroke="#363636" stroke-width="3.6" stroke-linecap="butt" />
<line x1="106.9" y1="293.06" x2="125.38" y2="300.63" stroke="#2c2c2c" stroke-width="3.6" stroke-linecap="butt" />
<line x1="527.84" y1="306.87" x2="556.22" y2="305.55" stroke="#424242" stroke-width="3.6" stroke-linecap="butt" />
<line x1="491.17" y1="312.24" x2="506.31" y2="310.05" stroke="#424242" stroke-width="3.6" stroke-linecap="butt" />
<line x1="55.53" y1="310.18" x2="86.1" y2="316.48" stroke="#363636" stroke-width="3.6" stroke-linecap="butt" />
<line x1="403.55" y1="317.24" x2="422.22" y2="313.03" stroke="#222" stroke-width="3.6" stroke-linecap="butt" />
<line x1="121.17" y1="308.3" x2="101.21" y2="321.58" stroke="#222" stroke-width="3.6" stroke-linecap="butt" />
<line x1="553.92" y1="289.42" x2="543.58" y2="305.03" stroke="#424242" stroke-width="3.6" stroke-linecap="butt" />
<line x1="397.13" y1="296.21" x2="407.22" y2="295.71" stroke="#2c2c2c" stroke-width="3.6" stroke-linecap="butt" />
<line x1="407.73" y1="313.64" x2="428.72" y2="309.44" stroke="#424242" stroke-width="3.6" stroke-linecap="butt" />
<line x1="194.8" y1="311.36" x2="190.76" y2="321.17" stroke="#2c2c2c" stroke-width="3.6" stroke-linecap="butt" />
<line x1="307.88" y1="303.3" x2="338.35" y2="306.65" stroke="#2c2c2c" stroke-width="3.6" stroke-linecap="butt" />
<line x1="391.84" y1="301.02" x2="423.98" y2="301.15" stroke="#222" stroke-width="3.6" stroke-linecap="butt" />
<line x1="333.4" y1="311.74" x2="352.44" y2="305.26" stroke="#222" stroke-width="3.6" stroke-linecap="butt" />
<line x1="362.09" y1="298.17" x2="389.55" y2="298.25" stroke="#222" stroke-width="3.6" stroke-linecap="butt" />
<line x1="399.9" y1="295.11" x2="412.23" y2="295.21" stroke="#363636" stroke-width="3.6" stroke-linecap="butt" />
<line x1="222.62" y1="312.94" x2="234.3" y2="311.18" stroke="#222" stroke-width="3.6" stroke-linecap="butt" />
<line x1="103.22" y1="310.17" x2="137.04" y2="310.45" stroke="#222" stroke-width="3.6" stroke-linecap="butt" />
<line x1="586.92" y1="306.35" x2="569.23" y2="321.51" stroke="#222" stroke-width="3.6" stroke-linecap="butt" />
<line x1="152.91" y1="317.53" x2="163.16" y2="315.61" stroke="#424242" stroke-width="3.6" stroke-linecap="butt" />
<line x1="101.87" y1="301.48" x2="116.67" y2="306.66" stroke="#2c2c2c" stroke-width="3.6" stroke-linecap="butt" />
<line x1="47.62" y1="307.45" x2="77.46" y2="305.45" stroke="#2c2c2c" stroke-width="3.6" stroke-linecap="butt" />
<line x1="555.86" y1="310.59" x2="573.88" y2="315.14" stroke="#222" stroke-width="3.6" stroke-linecap="butt" />
<line x1="620.15" y1="289.62" x2="596.47" y2="304.44" stroke="#222" stroke-width="3.6" stroke-linecap="butt" />
<line x1="408.6" y1="296.55" x2="443.77" y2="300.35" stroke="#2c2c2c" stroke-width="3.6" stroke-linecap="butt" />
<line x1="396.82" y1="309.66" x2="412.93" y2="307.05" stroke="#222" stroke-width="3.6" stroke-linecap="butt" />
<line x1="94.1" y1="313.99" x2="121.06" y2="315.33" stroke="#222" stroke-width="3.6" stroke-linecap="butt" />
<line x1="441.5" y1="302.79" x2="464.88" y2="298.41" stroke="#424242" stroke-width="3.6" stroke-linecap="butt" />
<line x1="417.61" y1="306.08" x2="435.46" y2="305.43" stroke="#424242" stroke-width="3.6" stroke-linecap="butt" />
<line x1="439.95" y1="293.28" x2="468.55" y2="301.39" stroke="#222" stroke-width="3.6" stroke-linecap="butt" />
<line x1="261.92" y1="315.22" x2="292.71" y2="310.01" stroke="#222" stroke-width="3.6" stroke-linecap="butt" />
<line x1="562.26" y1="296.54" x2="584.74" y2="297.36" stroke="#222" stroke-width="3.6" stroke-linecap="butt" />
<line x1="257.62" y1="311.28" x2="291.32" y2="307.33" stroke="#363636" stroke-width="3.6" stroke-linecap="butt" />
<line x1="247.54" y1="313.52" x2="279.19" y2="308.62" stroke="#2c2c2c" stroke-width="3.6" stroke-linecap="butt" />
<line x1="210.89" y1="294" x2="226.04" y2="311.04" stroke="#2c2c2c" stroke-width="3.6" stroke-linecap="butt" />
<line x1="414.3" y1="306.4" x2="430.78" y2="303.19" stroke="#424242" stroke-width="3.6" stroke-linecap="butt" />
<line x1="295.65" y1="287.88" x2="316.69" y2="303.91" stroke="#2c2c2c" stroke-width="3.6" stroke-linecap="butt" />
<line x1="286.82" y1="295.02" x2="311.18" y2="294.02" stroke="#222" stroke-width="3.6" stroke-linecap="butt" />
<line x1="351.21" y1="302.27" x2="342.46" y2="307.93" stroke="#424242" stroke-width="3.6" stroke-linecap="butt" />
<line x1="345.32" y1="301.28" x2="366.15" y2="296.7" stroke="#424242" stroke-width="3.6" stroke-linecap="butt" />
<line x1="499.65" y1="297.96" x2="510.03" y2="294.63" stroke="#424242" stroke-width="3.6" stroke-linecap="butt" />
<line x1="320.67" y1="291.86" x2="341.22" y2="303.14" stroke="#222" stroke-width="3.6" stroke-linecap="butt" />
<line x1="348.4" y1="297.24" x2="377.15" y2="300.46" stroke="#363636" stroke-width="3.6" stroke-linecap="butt" />
<line x1="434.13" y1="304.93" x2="428.17" y2="313.61" stroke="#222" stroke-width="3.6" stroke-linecap="butt" />
<line x1="208.46" y1="315.95" x2="228.34" y2="318.83" stroke="#2c2c2c" stroke-width="3.6" stroke-linecap="butt" />
<path d="M64,286 Q66,270 80,262 Q96,250 108,238 Q120,226 135,212 Q150,196 163,190 Q250,186 340,190 Q430,186 525,189 Q555,210 580,238 Q605,262 631,284 L630,296 Q600,300 560,297 L380,297 Q300,300 200,298 L66,300 Z" fill="url(#gLayer)" opacity="0.95"/>
<path d="M450.39,201.07 q42.82,-0.37 85.64,0" stroke="#c0ccf6" stroke-width="3.53" fill="none" opacity="0.45" filter="url(#blur1)"/>
<path d="M277,280.61 q84.55,1.94 169.1,0" stroke="#c0ccf6" stroke-width="2.65" fill="none" opacity="0.45" filter="url(#blur1)"/>
<path d="M166.73,270.88 q84.98,-0.69 169.95,0" stroke="#c0ccf6" stroke-width="2.68" fill="none" opacity="0.45" filter="url(#blur1)"/>
<path d="M212.28,281.7 q52.38,-2.51 104.77,0" stroke="#c0ccf6" stroke-width="4.01" fill="none" opacity="0.45" filter="url(#blur1)"/>
<path d="M232.1,201.95 q38.91,5.25 77.83,0" stroke="#c0ccf6" stroke-width="2" fill="none" opacity="0.45" filter="url(#blur1)"/>
<path d="M187.98,251.64 q54.98,0.99 109.96,0" stroke="#c0ccf6" stroke-width="4.14" fill="none" opacity="0.45" filter="url(#blur1)"/>
<path d="M181.37,211.7 q36.63,7.36 73.26,0" stroke="#c0ccf6" stroke-width="2.45" fill="none" opacity="0.45" filter="url(#blur1)"/>
<path d="M288.44,211.65 q61.98,6.18 123.96,0" stroke="#c0ccf6" stroke-width="2.17" fill="none" opacity="0.45" filter="url(#blur1)"/>
<path d="M153.65,219.92 q62.21,-0.76 124.41,0" stroke="#c0ccf6" stroke-width="3.23" fill="none" opacity="0.45" filter="url(#blur1)"/>
<path d="M341.45,275.51 q77.31,7.31 154.62,0" stroke="#c0ccf6" stroke-width="2.81" fill="none" opacity="0.45" filter="url(#blur1)"/>
<path d="M244.95,280.07 q32.84,6.64 65.67,0" stroke="#c0ccf6" stroke-width="2.31" fill="none" opacity="0.45" filter="url(#blur1)"/>
<path d="M200.06,201.49 q45.89,7.47 91.79,0" stroke="#c0ccf6" stroke-width="4.61" fill="none" opacity="0.45" filter="url(#blur1)"/>
<path d="M291.17,235.71 q76.68,4.91 153.37,0" stroke="#c0ccf6" stroke-width="3.96" fill="none" opacity="0.45" filter="url(#blur1)"/>
<path d="M134.31,243.59 q43.41,2.53 86.81,0" stroke="#c0ccf6" stroke-width="3.76" fill="none" opacity="0.45" filter="url(#blur1)"/>
<path d="M431.53,268.09 q82.93,-4.92 165.86,0" stroke="#c0ccf6" stroke-width="2.23" fill="none" opacity="0.45" filter="url(#blur1)"/>
<path d="M306.72,276.29 q39.98,3.07 79.97,0" stroke="#c0ccf6" stroke-width="2.77" fill="none" opacity="0.45" filter="url(#blur1)"/>
<path d="M229.18,220.11 q58.81,2.84 117.63,0" stroke="#c0ccf6" stroke-width="2.22" fill="none" opacity="0.45" filter="url(#blur1)"/>
<path d="M327.22,263.01 q55.94,2.75 111.88,0" stroke="#c0ccf6" stroke-width="4.4" fill="none" opacity="0.45" filter="url(#blur1)"/>
<path d="M270.63,200.82 q67.29,3.35 134.57,0" stroke="#c0ccf6" stroke-width="3.94" fill="none" opacity="0.45" filter="url(#blur1)"/>
<path d="M454.23,215.32 q73.21,-4.27 146.43,0" stroke="#c0ccf6" stroke-width="3.29" fill="none" opacity="0.45" filter="url(#blur1)"/>
<path d="M168.72,281.42 q52.5,7.39 105,0" stroke="#c0ccf6" stroke-width="4.7" fill="none" opacity="0.45" filter="url(#blur1)"/>
<path d="M369.4,219.76 q49.78,2.61 99.56,0" stroke="#c0ccf6" stroke-width="4.3" fill="none" opacity="0.45" filter="url(#blur1)"/>
<path d="M62,291 Q150,284 260,290 Q380,294 470,288 Q560,284 632,289 L630,298 Q540,302 420,298 Q300,301 180,299 L64,300 Z" fill="#7a72cc" opacity="0.8"/>
<line x1="237.11" y1="197.09" x2="244.7" y2="201.95" stroke="#3d5573" stroke-width="3.4" stroke-linecap="butt" opacity="0.6"/>
<line x1="523.79" y1="234.42" x2="518.43" y2="245.67" stroke="#45607e" stroke-width="3.4" stroke-linecap="butt" opacity="0.6"/>
<line x1="555.91" y1="243.47" x2="553.28" y2="251.99" stroke="#34495f" stroke-width="3.4" stroke-linecap="butt" opacity="0.6"/>
<line x1="259.35" y1="262.88" x2="246.32" y2="269.9" stroke="#34495f" stroke-width="3.4" stroke-linecap="butt" opacity="0.6"/>
<line x1="176.53" y1="250.51" x2="184.28" y2="264.8" stroke="#45607e" stroke-width="3.4" stroke-linecap="butt" opacity="0.6"/>
<line x1="425.29" y1="268.78" x2="418.78" y2="280.36" stroke="#3d5573" stroke-width="3.4" stroke-linecap="butt" opacity="0.6"/>
<line x1="496.23" y1="222.18" x2="492.49" y2="228.1" stroke="#3d5573" stroke-width="3.4" stroke-linecap="butt" opacity="0.6"/>
<line x1="519.02" y1="247.54" x2="505.86" y2="251.9" stroke="#3d5573" stroke-width="3.4" stroke-linecap="butt" opacity="0.6"/>
<line x1="397.23" y1="275.76" x2="401" y2="286.42" stroke="#3d5573" stroke-width="3.4" stroke-linecap="butt" opacity="0.6"/>
<line x1="158.72" y1="190.17" x2="172.19" y2="196.69" stroke="#3d5573" stroke-width="3.4" stroke-linecap="butt" opacity="0.6"/>
<line x1="228.05" y1="202.31" x2="211.88" y2="206.49" stroke="#3d5573" stroke-width="3.4" stroke-linecap="butt" opacity="0.6"/>
<line x1="218.53" y1="186.45" x2="199.36" y2="189.65" stroke="#3d5573" stroke-width="3.4" stroke-linecap="butt" opacity="0.6"/>
<line x1="153.08" y1="232.22" x2="157.69" y2="239.39" stroke="#34495f" stroke-width="3.4" stroke-linecap="butt" opacity="0.6"/>
<line x1="234.11" y1="236.26" x2="241.18" y2="237.25" stroke="#3d5573" stroke-width="3.4" stroke-linecap="butt" opacity="0.6"/>
<line x1="159.49" y1="212.86" x2="178.86" y2="215.43" stroke="#3d5573" stroke-width="3.4" stroke-linecap="butt" opacity="0.6"/>
<line x1="462.13" y1="265.39" x2="468.28" y2="274.45" stroke="#3d5573" stroke-width="3.4" stroke-linecap="butt" opacity="0.6"/>
<line x1="586.06" y1="246.35" x2="572.54" y2="253.95" stroke="#34495f" stroke-width="3.4" stroke-linecap="butt" opacity="0.6"/>
<line x1="251.12" y1="230.6" x2="261.47" y2="231.04" stroke="#3d5573" stroke-width="3.4" stroke-linecap="butt" opacity="0.6"/>
<line x1="138.41" y1="267.67" x2="136.09" y2="274.36" stroke="#34495f" stroke-width="3.4" stroke-linecap="butt" opacity="0.6"/>
<line x1="338.01" y1="230.69" x2="325.72" y2="237.17" stroke="#34495f" stroke-width="3.4" stroke-linecap="butt" opacity="0.6"/>
<line x1="307.55" y1="235.71" x2="326.6" y2="236.34" stroke="#3d5573" stroke-width="3.4" stroke-linecap="butt" opacity="0.6"/>
<line x1="390.32" y1="194.79" x2="397.31" y2="200.08" stroke="#45607e" stroke-width="3.4" stroke-linecap="butt" opacity="0.6"/>
<line x1="264.64" y1="240.66" x2="273.7" y2="241.97" stroke="#3d5573" stroke-width="3.4" stroke-linecap="butt" opacity="0.6"/>
<line x1="265.92" y1="203.75" x2="259.25" y2="215.1" stroke="#34495f" stroke-width="3.4" stroke-linecap="butt" opacity="0.6"/>
<line x1="232.33" y1="206.04" x2="212.42" y2="206.73" stroke="#45607e" stroke-width="3.4" stroke-linecap="butt" opacity="0.6"/>
<line x1="180.02" y1="195.64" x2="181.27" y2="204.18" stroke="#34495f" stroke-width="3.4" stroke-linecap="butt" opacity="0.6"/>
<line x1="580.13" y1="259.44" x2="571.88" y2="264.41" stroke="#45607e" stroke-width="3.4" stroke-linecap="butt" opacity="0.6"/>
<line x1="261.43" y1="238.72" x2="253.52" y2="244.14" stroke="#45607e" stroke-width="3.4" stroke-linecap="butt" opacity="0.6"/>
<line x1="340.56" y1="187.72" x2="357.49" y2="194.69" stroke="#3d5573" stroke-width="3.4" stroke-linecap="butt" opacity="0.6"/>
<line x1="205.32" y1="233.02" x2="217.5" y2="236.87" stroke="#34495f" stroke-width="3.4" stroke-linecap="butt" opacity="0.6"/>
<line x1="446.1" y1="274.08" x2="446.86" y2="282.34" stroke="#3d5573" stroke-width="3.4" stroke-linecap="butt" opacity="0.6"/>
<line x1="183.63" y1="192.47" x2="188.07" y2="202.05" stroke="#45607e" stroke-width="3.4" stroke-linecap="butt" opacity="0.6"/>
<line x1="352.94" y1="264.09" x2="355.76" y2="278.26" stroke="#34495f" stroke-width="3.4" stroke-linecap="butt" opacity="0.6"/>
<line x1="435.98" y1="223.62" x2="434.13" y2="237.08" stroke="#34495f" stroke-width="3.4" stroke-linecap="butt" opacity="0.6"/>
<line x1="406.85" y1="283.39" x2="418.56" y2="286.6" stroke="#34495f" stroke-width="3.4" stroke-linecap="butt" opacity="0.6"/>
<line x1="157.07" y1="280.47" x2="139.74" y2="287.09" stroke="#34495f" stroke-width="3.4" stroke-linecap="butt" opacity="0.6"/>
<line x1="333.58" y1="195.87" x2="329.85" y2="203.47" stroke="#3d5573" stroke-width="3.4" stroke-linecap="butt" opacity="0.6"/>
<line x1="429.19" y1="271.7" x2="435.55" y2="281.02" stroke="#3d5573" stroke-width="3.4" stroke-linecap="butt" opacity="0.6"/>
<line x1="174.24" y1="227.44" x2="167.57" y2="228.06" stroke="#45607e" stroke-width="3.4" stroke-linecap="butt" opacity="0.6"/>
<line x1="440.63" y1="276.15" x2="439.14" y2="288.73" stroke="#45607e" stroke-width="3.4" stroke-linecap="butt" opacity="0.6"/>
<line x1="360.38" y1="201.71" x2="353.13" y2="205.06" stroke="#3d5573" stroke-width="3.4" stroke-linecap="butt" opacity="0.6"/>
<line x1="480.53" y1="223.49" x2="473.8" y2="230.53" stroke="#3d5573" stroke-width="3.4" stroke-linecap="butt" opacity="0.6"/>
<line x1="359.72" y1="232.37" x2="378.13" y2="236.74" stroke="#34495f" stroke-width="3.4" stroke-linecap="butt" opacity="0.6"/>
<line x1="340.22" y1="281.06" x2="325.9" y2="282.64" stroke="#45607e" stroke-width="3.4" stroke-linecap="butt" opacity="0.6"/>
<line x1="285.98" y1="262.39" x2="299.69" y2="270.46" stroke="#34495f" stroke-width="3.4" stroke-linecap="butt" opacity="0.6"/>
<line x1="514.07" y1="204.23" x2="530.48" y2="208.82" stroke="#45607e" stroke-width="3.4" stroke-linecap="butt" opacity="0.6"/>
<line x1="103.13" y1="264.08" x2="102.43" y2="277.98" stroke="#34495f" stroke-width="3.4" stroke-linecap="butt" opacity="0.6"/>
<line x1="476.24" y1="198.89" x2="480.72" y2="204.59" stroke="#34495f" stroke-width="3.4" stroke-linecap="butt" opacity="0.6"/>
<line x1="445.51" y1="273.58" x2="442.25" y2="278.34" stroke="#3d5573" stroke-width="3.4" stroke-linecap="butt" opacity="0.6"/>
<line x1="378.99" y1="277.27" x2="395.67" y2="277.7" stroke="#34495f" stroke-width="3.4" stroke-linecap="butt" opacity="0.6"/>
<line x1="184.79" y1="190.14" x2="175.6" y2="190.2" stroke="#45607e" stroke-width="3.4" stroke-linecap="butt" opacity="0.6"/>
<line x1="223.09" y1="268.7" x2="227.69" y2="276.91" stroke="#45607e" stroke-width="3.4" stroke-linecap="butt" opacity="0.6"/>
<line x1="255.64" y1="227.37" x2="249.57" y2="228.25" stroke="#34495f" stroke-width="3.4" stroke-linecap="butt" opacity="0.6"/>
<line x1="412.36" y1="227.22" x2="396.81" y2="231.82" stroke="#3d5573" stroke-width="3.4" stroke-linecap="butt" opacity="0.6"/>
<line x1="413.4" y1="271.39" x2="431.6" y2="273.8" stroke="#3d5573" stroke-width="3.4" stroke-linecap="butt" opacity="0.6"/>
<line x1="500.69" y1="261.68" x2="511.32" y2="270.35" stroke="#45607e" stroke-width="3.4" stroke-linecap="butt" opacity="0.6"/>
<line x1="255.16" y1="227.95" x2="266.82" y2="236.7" stroke="#34495f" stroke-width="3.4" stroke-linecap="butt" opacity="0.6"/>
<line x1="274.57" y1="269.62" x2="258.8" y2="276.35" stroke="#3d5573" stroke-width="3.4" stroke-linecap="butt" opacity="0.6"/>
<line x1="594.56" y1="274.75" x2="582.03" y2="278.97" stroke="#3d5573" stroke-width="3.4" stroke-linecap="butt" opacity="0.6"/>
<line x1="533.65" y1="269.62" x2="514.44" y2="270.62" stroke="#45607e" stroke-width="3.4" stroke-linecap="butt" opacity="0.6"/>
<line x1="496.32" y1="267.56" x2="488.07" y2="270.42" stroke="#45607e" stroke-width="3.4" stroke-linecap="butt" opacity="0.6"/>
<line x1="152.35" y1="221.58" x2="169.5" y2="226.93" stroke="#3d5573" stroke-width="3.4" stroke-linecap="butt" opacity="0.6"/>
<line x1="167.47" y1="208.69" x2="183.47" y2="211.45" stroke="#3d5573" stroke-width="3.4" stroke-linecap="butt" opacity="0.6"/>
<line x1="418.27" y1="272.95" x2="425.36" y2="281.35" stroke="#45607e" stroke-width="3.4" stroke-linecap="butt" opacity="0.6"/>
<line x1="405.74" y1="217.21" x2="393.83" y2="220.48" stroke="#45607e" stroke-width="3.4" stroke-linecap="butt" opacity="0.6"/>
<line x1="258.69" y1="261.61" x2="245.74" y2="265.94" stroke="#3d5573" stroke-width="3.4" stroke-linecap="butt" opacity="0.6"/>
<line x1="585.91" y1="248.69" x2="579.32" y2="250.48" stroke="#45607e" stroke-width="3.4" stroke-linecap="butt" opacity="0.6"/>
<line x1="513.45" y1="227.05" x2="509.02" y2="233.23" stroke="#45607e" stroke-width="3.4" stroke-linecap="butt" opacity="0.6"/>
<line x1="548.18" y1="237.18" x2="539.52" y2="249.89" stroke="#34495f" stroke-width="3.4" stroke-linecap="butt" opacity="0.6"/>
<line x1="97.52" y1="278.29" x2="94.13" y2="287.54" stroke="#34495f" stroke-width="3.4" stroke-linecap="butt" opacity="0.6"/>
<line x1="526.78" y1="197.69" x2="535.22" y2="202.08" stroke="#34495f" stroke-width="3.4" stroke-linecap="butt" opacity="0.6"/>
<line x1="267.15" y1="265.39" x2="279.73" y2="273.85" stroke="#3d5573" stroke-width="3.4" stroke-linecap="butt" opacity="0.6"/>
<line x1="501.39" y1="209.1" x2="489.32" y2="209.33" stroke="#45607e" stroke-width="3.4" stroke-linecap="butt" opacity="0.6"/>
<line x1="141.22" y1="249.43" x2="143.96" y2="257.61" stroke="#45607e" stroke-width="3.4" stroke-linecap="butt" opacity="0.6"/>
<line x1="561.5" y1="234.04" x2="561.95" y2="247.26" stroke="#3d5573" stroke-width="3.4" stroke-linecap="butt" opacity="0.6"/>
<line x1="182.18" y1="255.77" x2="162.37" y2="257.94" stroke="#34495f" stroke-width="3.4" stroke-linecap="butt" opacity="0.6"/>
<line x1="159.24" y1="281.07" x2="174.31" y2="281.73" stroke="#3d5573" stroke-width="3.4" stroke-linecap="butt" opacity="0.6"/>
<line x1="278.37" y1="277.22" x2="269.72" y2="278.9" stroke="#3d5573" stroke-width="3.4" stroke-linecap="butt" opacity="0.6"/>
<line x1="541.99" y1="276.55" x2="532.02" y2="286.54" stroke="#3d5573" stroke-width="3.4" stroke-linecap="butt" opacity="0.6"/>
<line x1="543.82" y1="237" x2="542.32" y2="243.29" stroke="#34495f" stroke-width="3.4" stroke-linecap="butt" opacity="0.6"/>
<line x1="132.15" y1="229.86" x2="146.36" y2="235.05" stroke="#34495f" stroke-width="3.4" stroke-linecap="butt" opacity="0.6"/>
<line x1="313.06" y1="210.24" x2="312.53" y2="220.28" stroke="#3d5573" stroke-width="3.4" stroke-linecap="butt" opacity="0.6"/>
<line x1="506.04" y1="267.03" x2="498.1" y2="269.02" stroke="#3d5573" stroke-width="3.4" stroke-linecap="butt" opacity="0.6"/>
<line x1="226.54" y1="241.12" x2="218.7" y2="245.05" stroke="#3d5573" stroke-width="3.4" stroke-linecap="butt" opacity="0.6"/>
<line x1="189.1" y1="275.63" x2="184.83" y2="288.04" stroke="#34495f" stroke-width="3.4" stroke-linecap="butt" opacity="0.6"/>
<line x1="380.89" y1="230.57" x2="394.68" y2="239.45" stroke="#45607e" stroke-width="3.4" stroke-linecap="butt" opacity="0.6"/>
<line x1="110.42" y1="283.21" x2="98.41" y2="284.91" stroke="#3d5573" stroke-width="3.4" stroke-linecap="butt" opacity="0.6"/>
<line x1="560.24" y1="273.42" x2="558.05" y2="282.71" stroke="#45607e" stroke-width="3.4" stroke-linecap="butt" opacity="0.6"/>
<line x1="412.87" y1="234.72" x2="402.17" y2="234.79" stroke="#34495f" stroke-width="3.4" stroke-linecap="butt" opacity="0.6"/>
<line x1="219.84" y1="209.7" x2="230.11" y2="214.26" stroke="#34495f" stroke-width="3.4" stroke-linecap="butt" opacity="0.6"/>
<line x1="264.83" y1="227.75" x2="259.8" y2="236.68" stroke="#3d5573" stroke-width="3.4" stroke-linecap="butt" opacity="0.6"/>
<line x1="273.45" y1="203.04" x2="273.33" y2="209.9" stroke="#45607e" stroke-width="3.4" stroke-linecap="butt" opacity="0.6"/>
<line x1="490.56" y1="270.19" x2="486.97" y2="279.87" stroke="#45607e" stroke-width="3.4" stroke-linecap="butt" opacity="0.6"/>
<line x1="212.08" y1="232.89" x2="209.79" y2="239.05" stroke="#3d5573" stroke-width="3.4" stroke-linecap="butt" opacity="0.6"/>
<line x1="284.99" y1="208.08" x2="287.49" y2="213.29" stroke="#3d5573" stroke-width="3.4" stroke-linecap="butt" opacity="0.6"/>
<line x1="310.35" y1="217.93" x2="317.37" y2="229.14" stroke="#45607e" stroke-width="3.4" stroke-linecap="butt" opacity="0.6"/>
<line x1="335.79" y1="251.71" x2="323.92" y2="257.14" stroke="#3d5573" stroke-width="3.4" stroke-linecap="butt" opacity="0.6"/>
<line x1="464.84" y1="270.73" x2="471.39" y2="281.37" stroke="#34495f" stroke-width="3.4" stroke-linecap="butt" opacity="0.6"/>
<line x1="312.42" y1="224.14" x2="320.57" y2="233.01" stroke="#34495f" stroke-width="3.4" stroke-linecap="butt" opacity="0.6"/>
<line x1="100.24" y1="260.22" x2="92.07" y2="270.06" stroke="#34495f" stroke-width="3.4" stroke-linecap="butt" opacity="0.6"/>
<line x1="503.43" y1="270.32" x2="499.11" y2="282.21" stroke="#45607e" stroke-width="3.4" stroke-linecap="butt" opacity="0.6"/>
<line x1="170.74" y1="264.95" x2="168.28" y2="276.88" stroke="#45607e" stroke-width="3.4" stroke-linecap="butt" opacity="0.6"/>
<line x1="494.34" y1="196.74" x2="489.18" y2="199.73" stroke="#45607e" stroke-width="3.4" stroke-linecap="butt" opacity="0.6"/>
<line x1="312.32" y1="267.45" x2="320.97" y2="275.54" stroke="#3d5573" stroke-width="3.4" stroke-linecap="butt" opacity="0.6"/>
<line x1="366.15" y1="221.77" x2="351.57" y2="224.4" stroke="#45607e" stroke-width="3.4" stroke-linecap="butt" opacity="0.6"/>
<line x1="255.74" y1="193.08" x2="251.04" y2="203.56" stroke="#45607e" stroke-width="3.4" stroke-linecap="butt" opacity="0.6"/>
<line x1="440.38" y1="186.32" x2="457.34" y2="189.23" stroke="#34495f" stroke-width="3.4" stroke-linecap="butt" opacity="0.6"/>
<line x1="238.38" y1="237.08" x2="247.18" y2="249.18" stroke="#3d5573" stroke-width="3.4" stroke-linecap="butt" opacity="0.6"/>
<line x1="276.41" y1="284.72" x2="285.1" y2="286.41" stroke="#34495f" stroke-width="3.4" stroke-linecap="butt" opacity="0.6"/>
<line x1="161.7" y1="269.6" x2="166.83" y2="273.18" stroke="#45607e" stroke-width="3.4" stroke-linecap="butt" opacity="0.6"/>
<line x1="523.35" y1="198.07" x2="516.17" y2="199.8" stroke="#3d5573" stroke-width="3.4" stroke-linecap="butt" opacity="0.6"/>
<line x1="532.9" y1="242.29" x2="551.11" y2="246.5" stroke="#45607e" stroke-width="3.4" stroke-linecap="butt" opacity="0.6"/>
<line x1="105.69" y1="268.29" x2="105.85" y2="281.27" stroke="#45607e" stroke-width="3.4" stroke-linecap="butt" opacity="0.6"/>
<line x1="485.9" y1="191.86" x2="475.64" y2="199.89" stroke="#45607e" stroke-width="3.4" stroke-linecap="butt" opacity="0.6"/>
<line x1="183.92" y1="189.08" x2="189.75" y2="191" stroke="#34495f" stroke-width="3.4" stroke-linecap="butt" opacity="0.6"/>
<line x1="182.44" y1="256.63" x2="183.3" y2="262.59" stroke="#3d5573" stroke-width="3.4" stroke-linecap="butt" opacity="0.6"/>
<line x1="434.18" y1="250.16" x2="423.18" y2="251" stroke="#45607e" stroke-width="3.4" stroke-linecap="butt" opacity="0.6"/>
<line x1="306.41" y1="215.45" x2="308.56" y2="225.51" stroke="#3d5573" stroke-width="3.4" stroke-linecap="butt" opacity="0.6"/>
<line x1="459.59" y1="289.68" x2="466.85" y2="293.24" stroke="#3d5573" stroke-width="3.4" stroke-linecap="butt" opacity="0.6"/>
<line x1="415.17" y1="265.81" x2="409.44" y2="274.46" stroke="#34495f" stroke-width="3.4" stroke-linecap="butt" opacity="0.6"/>
<line x1="115.84" y1="251.45" x2="119.06" y2="264.86" stroke="#34495f" stroke-width="3.4" stroke-linecap="butt" opacity="0.6"/>
<line x1="315.28" y1="187.03" x2="330.11" y2="187.89" stroke="#34495f" stroke-width="3.4" stroke-linecap="butt" opacity="0.6"/>
<line x1="545.07" y1="224.75" x2="528.07" y2="231.18" stroke="#34495f" stroke-width="3.4" stroke-linecap="butt" opacity="0.6"/>
<line x1="346.92" y1="238.03" x2="342.35" y2="243.47" stroke="#34495f" stroke-width="3.4" stroke-linecap="butt" opacity="0.6"/>
<line x1="453.9" y1="183.2" x2="443.57" y2="189.78" stroke="#3d5573" stroke-width="3.4" stroke-linecap="butt" opacity="0.6"/>
<line x1="277.39" y1="272.75" x2="272.18" y2="278.28" stroke="#45607e" stroke-width="3.4" stroke-linecap="butt" opacity="0.6"/>
<line x1="310.84" y1="262.24" x2="291.61" y2="264.18" stroke="#34495f" stroke-width="3.4" stroke-linecap="butt" opacity="0.6"/>
<line x1="486.69" y1="198.6" x2="503.13" y2="207.59" stroke="#3d5573" stroke-width="3.4" stroke-linecap="butt" opacity="0.6"/>
<line x1="504.25" y1="265.74" x2="487.43" y2="274.21" stroke="#34495f" stroke-width="3.4" stroke-linecap="butt" opacity="0.6"/>
<line x1="406.16" y1="213.82" x2="402.95" y2="227.35" stroke="#45607e" stroke-width="3.4" stroke-linecap="butt" opacity="0.6"/>
<line x1="480.29" y1="198.86" x2="480.64" y2="206.73" stroke="#3d5573" stroke-width="3.4" stroke-linecap="butt" opacity="0.6"/>
<line x1="488.4" y1="237.46" x2="500.26" y2="238.85" stroke="#3d5573" stroke-width="3.4" stroke-linecap="butt" opacity="0.6"/>
<line x1="538.83" y1="242.16" x2="535.61" y2="251.39" stroke="#3d5573" stroke-width="3.4" stroke-linecap="butt" opacity="0.6"/>
<line x1="440.65" y1="194" x2="450.01" y2="196.5" stroke="#3d5573" stroke-width="3.4" stroke-linecap="butt" opacity="0.6"/>
<line x1="323.82" y1="247.75" x2="307.66" y2="252.75" stroke="#3d5573" stroke-width="3.4" stroke-linecap="butt" opacity="0.6"/>
<line x1="415.58" y1="261.86" x2="427.89" y2="264.97" stroke="#34495f" stroke-width="3.4" stroke-linecap="butt" opacity="0.6"/>
<line x1="161" y1="212.81" x2="172.67" y2="222.64" stroke="#3d5573" stroke-width="3.4" stroke-linecap="butt" opacity="0.6"/>
<line x1="594.37" y1="283.48" x2="582.4" y2="283.55" stroke="#34495f" stroke-width="3.4" stroke-linecap="butt" opacity="0.6"/>
<line x1="414.93" y1="254.83" x2="424.57" y2="264.02" stroke="#45607e" stroke-width="3.4" stroke-linecap="butt" opacity="0.6"/>
<line x1="539.64" y1="225.48" x2="540.29" y2="231.59" stroke="#34495f" stroke-width="3.4" stroke-linecap="butt" opacity="0.6"/>
<line x1="506.57" y1="270.02" x2="515.23" y2="279.25" stroke="#34495f" stroke-width="3.4" stroke-linecap="butt" opacity="0.6"/>
<line x1="563.45" y1="257.71" x2="571.5" y2="270.52" stroke="#3d5573" stroke-width="3.4" stroke-linecap="butt" opacity="0.6"/>
<line x1="347.04" y1="211.02" x2="348.13" y2="216.03" stroke="#3d5573" stroke-width="3.4" stroke-linecap="butt" opacity="0.6"/>
<line x1="549.04" y1="275.71" x2="561.48" y2="276.79" stroke="#45607e" stroke-width="3.4" stroke-linecap="butt" opacity="0.6"/>
<line x1="118.39" y1="273.24" x2="129.23" y2="284.49" stroke="#34495f" stroke-width="3.4" stroke-linecap="butt" opacity="0.6"/>
<line x1="207.78" y1="203.95" x2="201.37" y2="207.33" stroke="#3d5573" stroke-width="3.4" stroke-linecap="butt" opacity="0.6"/>
<line x1="213.38" y1="271.18" x2="229.64" y2="278.55" stroke="#3d5573" stroke-width="3.4" stroke-linecap="butt" opacity="0.6"/>
<line x1="467.2" y1="230.92" x2="480.47" y2="241.55" stroke="#3d5573" stroke-width="3.4" stroke-linecap="butt" opacity="0.6"/>
<line x1="527.76" y1="196.6" x2="539.36" y2="209.55" stroke="#3d5573" stroke-width="3.4" stroke-linecap="butt" opacity="0.6"/>
<line x1="367.93" y1="250.72" x2="356.97" y2="255.02" stroke="#3d5573" stroke-width="3.4" stroke-linecap="butt" opacity="0.6"/>
<line x1="330.58" y1="227.85" x2="334.38" y2="232.41" stroke="#45607e" stroke-width="3.4" stroke-linecap="butt" opacity="0.6"/>
<line x1="338.66" y1="206.48" x2="322.13" y2="214.71" stroke="#45607e" stroke-width="3.4" stroke-linecap="butt" opacity="0.6"/>
<line x1="415.52" y1="198.41" x2="413.54" y2="207.61" stroke="#3d5573" stroke-width="3.4" stroke-linecap="butt" opacity="0.6"/>
<line x1="563.03" y1="275.39" x2="564.85" y2="290.57" stroke="#34495f" stroke-width="3.4" stroke-linecap="butt" opacity="0.6"/>
<line x1="373.65" y1="221.09" x2="363.2" y2="228.85" stroke="#3d5573" stroke-width="3.4" stroke-linecap="butt" opacity="0.6"/>
<line x1="174.28" y1="219.52" x2="177.08" y2="225.15" stroke="#3d5573" stroke-width="3.4" stroke-linecap="butt" opacity="0.6"/>
<line x1="244.03" y1="234.01" x2="251.2" y2="243.71" stroke="#3d5573" stroke-width="3.4" stroke-linecap="butt" opacity="0.6"/>
<line x1="147.42" y1="217.41" x2="153.61" y2="221.12" stroke="#45607e" stroke-width="3.4" stroke-linecap="butt" opacity="0.6"/>
<line x1="295.3" y1="229.34" x2="280.64" y2="239.17" stroke="#34495f" stroke-width="3.4" stroke-linecap="butt" opacity="0.6"/>
<line x1="538.58" y1="219.44" x2="533.01" y2="229.37" stroke="#34495f" stroke-width="3.4" stroke-linecap="butt" opacity="0.6"/>
<line x1="280.06" y1="253.15" x2="276.76" y2="260.87" stroke="#34495f" stroke-width="3.4" stroke-linecap="butt" opacity="0.6"/>
<line x1="530.28" y1="211.39" x2="536.29" y2="212.38" stroke="#34495f" stroke-width="3.4" stroke-linecap="butt" opacity="0.6"/>
<line x1="353.65" y1="187.74" x2="345.56" y2="199.29" stroke="#3d5573" stroke-width="3.4" stroke-linecap="butt" opacity="0.6"/>
<line x1="446.57" y1="255.1" x2="427.21" y2="258.74" stroke="#34495f" stroke-width="3.4" stroke-linecap="butt" opacity="0.6"/>
<line x1="418.62" y1="241.71" x2="431.77" y2="253.38" stroke="#3d5573" stroke-width="3.4" stroke-linecap="butt" opacity="0.6"/>
<line x1="245.19" y1="286.33" x2="243.88" y2="291.11" stroke="#45607e" stroke-width="3.4" stroke-linecap="butt" opacity="0.6"/>
<line x1="434.28" y1="219.71" x2="433.41" y2="226.5" stroke="#34495f" stroke-width="3.4" stroke-linecap="butt" opacity="0.6"/>
<line x1="223.09" y1="206" x2="216.68" y2="208.98" stroke="#3d5573" stroke-width="3.4" stroke-linecap="butt" opacity="0.6"/>
<line x1="498.73" y1="210.14" x2="498.22" y2="218.56" stroke="#45607e" stroke-width="3.4" stroke-linecap="butt" opacity="0.6"/>
<line x1="422.45" y1="227.46" x2="439.68" y2="230.42" stroke="#45607e" stroke-width="3.4" stroke-linecap="butt" opacity="0.6"/>
<line x1="432.74" y1="195.29" x2="438.07" y2="200.14" stroke="#45607e" stroke-width="3.4" stroke-linecap="butt" opacity="0.6"/>
<line x1="89.79" y1="278.08" x2="96.52" y2="278.54" stroke="#45607e" stroke-width="3.4" stroke-linecap="butt" opacity="0.6"/>
<line x1="413.05" y1="248.93" x2="427.19" y2="255.2" stroke="#34495f" stroke-width="3.4" stroke-linecap="butt" opacity="0.6"/>
<line x1="498.75" y1="195.14" x2="504.15" y2="205.14" stroke="#3d5573" stroke-width="3.4" stroke-linecap="butt" opacity="0.6"/>
<line x1="213.77" y1="196.15" x2="209.05" y2="209.39" stroke="#3d5573" stroke-width="3.4" stroke-linecap="butt" opacity="0.6"/>
<line x1="366.71" y1="217.24" x2="379.08" y2="220.32" stroke="#45607e" stroke-width="3.4" stroke-linecap="butt" opacity="0.6"/>
<line x1="116.18" y1="242.76" x2="127.9" y2="244.49" stroke="#3d5573" stroke-width="3.4" stroke-linecap="butt" opacity="0.6"/>
<line x1="84.09" y1="282.71" x2="73.68" y2="285.55" stroke="#3d5573" stroke-width="3.4" stroke-linecap="butt" opacity="0.6"/>
<line x1="392.75" y1="269.55" x2="395.54" y2="279.44" stroke="#3d5573" stroke-width="3.4" stroke-linecap="butt" opacity="0.6"/>
<line x1="417.13" y1="207.12" x2="406.42" y2="212.01" stroke="#34495f" stroke-width="3.4" stroke-linecap="butt" opacity="0.6"/>
<line x1="165.59" y1="210.5" x2="157.05" y2="212.14" stroke="#45607e" stroke-width="3.4" stroke-linecap="butt" opacity="0.6"/>
<line x1="275.81" y1="193.05" x2="290.31" y2="196.37" stroke="#45607e" stroke-width="3.4" stroke-linecap="butt" opacity="0.6"/>
<line x1="135.72" y1="262.84" x2="126.3" y2="269.11" stroke="#34495f" stroke-width="3.4" stroke-linecap="butt" opacity="0.6"/>
<line x1="265.87" y1="196.02" x2="275.7" y2="208.78" stroke="#34495f" stroke-width="3.4" stroke-linecap="butt" opacity="0.6"/>
<line x1="543.15" y1="235.44" x2="539.65" y2="245.43" stroke="#34495f" stroke-width="3.4" stroke-linecap="butt" opacity="0.6"/>
<line x1="181.51" y1="252.17" x2="178.9" y2="257.21" stroke="#34495f" stroke-width="3.4" stroke-linecap="butt" opacity="0.6"/>
<line x1="184.34" y1="183.63" x2="183.26" y2="196.78" stroke="#3d5573" stroke-width="3.4" stroke-linecap="butt" opacity="0.6"/>
<line x1="198.03" y1="235.97" x2="191.9" y2="244.29" stroke="#34495f" stroke-width="3.4" stroke-linecap="butt" opacity="0.6"/>
<line x1="229.88" y1="227.81" x2="231.52" y2="240.41" stroke="#34495f" stroke-width="3.4" stroke-linecap="butt" opacity="0.6"/>
<line x1="208.02" y1="226.53" x2="223.05" y2="229.93" stroke="#45607e" stroke-width="3.4" stroke-linecap="butt" opacity="0.6"/>
<line x1="250.02" y1="218.37" x2="245.36" y2="224.64" stroke="#45607e" stroke-width="3.4" stroke-linecap="butt" opacity="0.6"/>
<line x1="492.12" y1="229.54" x2="499.14" y2="230.78" stroke="#3d5573" stroke-width="3.4" stroke-linecap="butt" opacity="0.6"/>
<line x1="576.58" y1="242.82" x2="569.41" y2="244.3" stroke="#34495f" stroke-width="3.4" stroke-linecap="butt" opacity="0.6"/>
<line x1="216.34" y1="255.8" x2="234.38" y2="260.45" stroke="#34495f" stroke-width="3.4" stroke-linecap="butt" opacity="0.6"/>
<line x1="247.85" y1="270.29" x2="230.82" y2="273.17" stroke="#45607e" stroke-width="3.4" stroke-linecap="butt" opacity="0.6"/>
<line x1="181.44" y1="193.48" x2="184.42" y2="205.43" stroke="#3d5573" stroke-width="3.4" stroke-linecap="butt" opacity="0.6"/>
<line x1="388.89" y1="259.73" x2="382.27" y2="260.13" stroke="#34495f" stroke-width="3.4" stroke-linecap="butt" opacity="0.6"/>
<line x1="132.06" y1="267.6" x2="124.46" y2="271.97" stroke="#3d5573" stroke-width="3.4" stroke-linecap="butt" opacity="0.6"/>
<line x1="447.76" y1="242.21" x2="455" y2="253.39" stroke="#45607e" stroke-width="3.4" stroke-linecap="butt" opacity="0.6"/>
<line x1="482.16" y1="226.74" x2="492.76" y2="231.47" stroke="#3d5573" stroke-width="3.4" stroke-linecap="butt" opacity="0.6"/>
<line x1="208.19" y1="180.89" x2="196.38" y2="191.87" stroke="#34495f" stroke-width="3.4" stroke-linecap="butt" opacity="0.6"/>
<line x1="431.07" y1="279.94" x2="436.29" y2="284.4" stroke="#45607e" stroke-width="3.4" stroke-linecap="butt" opacity="0.6"/>
<line x1="234.21" y1="192.37" x2="250.38" y2="199.12" stroke="#3d5573" stroke-width="3.4" stroke-linecap="butt" opacity="0.6"/>
<line x1="607.25" y1="272.41" x2="617.36" y2="285.02" stroke="#34495f" stroke-width="3.4" stroke-linecap="butt" opacity="0.6"/>
<line x1="401.93" y1="277.12" x2="386.98" y2="278.28" stroke="#34495f" stroke-width="3.4" stroke-linecap="butt" opacity="0.6"/>
<line x1="252.81" y1="238.64" x2="265.77" y2="246.39" stroke="#3d5573" stroke-width="3.4" stroke-linecap="butt" opacity="0.6"/>
<line x1="351.22" y1="222.1" x2="348.73" y2="229.12" stroke="#45607e" stroke-width="3.4" stroke-linecap="butt" opacity="0.6"/>
<line x1="159.83" y1="255.57" x2="171.81" y2="256.25" stroke="#34495f" stroke-width="3.4" stroke-linecap="butt" opacity="0.6"/>
<line x1="351.55" y1="200.54" x2="362.41" y2="210.77" stroke="#34495f" stroke-width="3.4" stroke-linecap="butt" opacity="0.6"/>
<line x1="290.04" y1="226.94" x2="291.22" y2="239.59" stroke="#34495f" stroke-width="3.4" stroke-linecap="butt" opacity="0.6"/>
<line x1="361.24" y1="237.9" x2="371.91" y2="249.12" stroke="#3d5573" stroke-width="3.4" stroke-linecap="butt" opacity="0.6"/>
<line x1="341.29" y1="270.08" x2="335.33" y2="275.45" stroke="#45607e" stroke-width="3.4" stroke-linecap="butt" opacity="0.6"/>
<line x1="458.09" y1="274.53" x2="459.1" y2="280.24" stroke="#45607e" stroke-width="3.4" stroke-linecap="butt" opacity="0.6"/>
<line x1="193.54" y1="259.18" x2="206.14" y2="268.29" stroke="#34495f" stroke-width="3.4" stroke-linecap="butt" opacity="0.6"/>
<line x1="222.85" y1="261.64" x2="225.39" y2="266.19" stroke="#34495f" stroke-width="3.4" stroke-linecap="butt" opacity="0.6"/>
<line x1="284.46" y1="191.66" x2="303.82" y2="193.24" stroke="#34495f" stroke-width="3.4" stroke-linecap="butt" opacity="0.6"/>
<line x1="540.4" y1="274.72" x2="550.23" y2="285.95" stroke="#45607e" stroke-width="3.4" stroke-linecap="butt" opacity="0.6"/>
<line x1="188.23" y1="217.8" x2="175.15" y2="225.62" stroke="#45607e" stroke-width="3.4" stroke-linecap="butt" opacity="0.6"/>
<line x1="236.05" y1="195.98" x2="229.79" y2="197.67" stroke="#3d5573" stroke-width="3.4" stroke-linecap="butt" opacity="0.6"/>
<line x1="540.84" y1="278.95" x2="529.72" y2="282.87" stroke="#45607e" stroke-width="3.4" stroke-linecap="butt" opacity="0.6"/>
<line x1="216.77" y1="196.7" x2="209.9" y2="208.24" stroke="#45607e" stroke-width="3.4" stroke-linecap="butt" opacity="0.6"/>
<line x1="521.28" y1="213.88" x2="511.76" y2="217.68" stroke="#3d5573" stroke-width="3.4" stroke-linecap="butt" opacity="0.6"/>
<line x1="301.72" y1="276.6" x2="315.56" y2="284.24" stroke="#45607e" stroke-width="3.4" stroke-linecap="butt" opacity="0.6"/>
<line x1="164.93" y1="236.02" x2="173.57" y2="243.94" stroke="#34495f" stroke-width="3.4" stroke-linecap="butt" opacity="0.6"/>
<line x1="618.11" y1="287.52" x2="620.98" y2="294.01" stroke="#3d5573" stroke-width="3.4" stroke-linecap="butt" opacity="0.6"/>
<line x1="150.65" y1="261.36" x2="154.8" y2="266.62" stroke="#3d5573" stroke-width="3.4" stroke-linecap="butt" opacity="0.6"/>
<line x1="189.4" y1="251.81" x2="204.81" y2="252.6" stroke="#34495f" stroke-width="3.4" stroke-linecap="butt" opacity="0.6"/>
<line x1="191.45" y1="204.89" x2="180.57" y2="216.24" stroke="#3d5573" stroke-width="3.4" stroke-linecap="butt" opacity="0.6"/>
<line x1="380.18" y1="206.65" x2="377.74" y2="214.82" stroke="#3d5573" stroke-width="3.4" stroke-linecap="butt" opacity="0.6"/>
<line x1="357.09" y1="245.28" x2="350.61" y2="247.91" stroke="#45607e" stroke-width="3.4" stroke-linecap="butt" opacity="0.6"/>
<line x1="234.25" y1="195.04" x2="240.86" y2="202.89" stroke="#45607e" stroke-width="3.4" stroke-linecap="butt" opacity="0.6"/>
<line x1="246.15" y1="183.63" x2="251.99" y2="191.64" stroke="#34495f" stroke-width="3.4" stroke-linecap="butt" opacity="0.6"/>
<line x1="213.33" y1="272.45" x2="210.28" y2="281.14" stroke="#3d5573" stroke-width="3.4" stroke-linecap="butt" opacity="0.6"/>
<line x1="365.41" y1="236.98" x2="372.68" y2="245.19" stroke="#34495f" stroke-width="3.4" stroke-linecap="butt" opacity="0.6"/>
<line x1="558.82" y1="236.02" x2="569.98" y2="237.56" stroke="#3d5573" stroke-width="3.4" stroke-linecap="butt" opacity="0.6"/>
<line x1="194.35" y1="244.71" x2="190.5" y2="254.28" stroke="#45607e" stroke-width="3.4" stroke-linecap="butt" opacity="0.6"/>
<line x1="526.32" y1="202.5" x2="509.73" y2="203.38" stroke="#34495f" stroke-width="3.4" stroke-linecap="butt" opacity="0.6"/>
<line x1="556.85" y1="231.28" x2="568.81" y2="234.09" stroke="#3d5573" stroke-width="3.4" stroke-linecap="butt" opacity="0.6"/>
<line x1="137.13" y1="258.47" x2="128.93" y2="260.48" stroke="#3d5573" stroke-width="3.4" stroke-linecap="butt" opacity="0.6"/>
<line x1="344.31" y1="226.86" x2="354.03" y2="236.85" stroke="#34495f" stroke-width="3.4" stroke-linecap="butt" opacity="0.6"/>
<line x1="429.64" y1="223.4" x2="442.38" y2="226.71" stroke="#3d5573" stroke-width="3.4" stroke-linecap="butt" opacity="0.6"/>
<line x1="491.98" y1="220.94" x2="506.44" y2="229.89" stroke="#45607e" stroke-width="3.4" stroke-linecap="butt" opacity="0.6"/>
<line x1="402.21" y1="272.01" x2="400.39" y2="279.74" stroke="#3d5573" stroke-width="3.4" stroke-linecap="butt" opacity="0.6"/>
<line x1="455.04" y1="249.42" x2="445.24" y2="253.63" stroke="#34495f" stroke-width="3.4" stroke-linecap="butt" opacity="0.6"/>
<line x1="173.42" y1="251.43" x2="169.48" y2="256.62" stroke="#3d5573" stroke-width="3.4" stroke-linecap="butt" opacity="0.6"/>
<line x1="542.13" y1="226.03" x2="547.05" y2="234.46" stroke="#3d5573" stroke-width="3.4" stroke-linecap="butt" opacity="0.6"/>
<line x1="179.49" y1="287.44" x2="178.4" y2="296.23" stroke="#45607e" stroke-width="3.4" stroke-linecap="butt" opacity="0.6"/>
<line x1="458.49" y1="203.67" x2="460.85" y2="217.66" stroke="#45607e" stroke-width="3.4" stroke-linecap="butt" opacity="0.6"/>
<line x1="113.97" y1="265.57" x2="120.93" y2="279.22" stroke="#45607e" stroke-width="3.4" stroke-linecap="butt" opacity="0.6"/>
<line x1="433.21" y1="253.28" x2="433.33" y2="263.37" stroke="#3d5573" stroke-width="3.4" stroke-linecap="butt" opacity="0.6"/>
<line x1="142.75" y1="241.61" x2="150.09" y2="245.2" stroke="#34495f" stroke-width="3.4" stroke-linecap="butt" opacity="0.6"/>
<line x1="443.41" y1="235.17" x2="431.98" y2="243.21" stroke="#45607e" stroke-width="3.4" stroke-linecap="butt" opacity="0.6"/>
<line x1="364.22" y1="211.73" x2="354" y2="221.84" stroke="#3d5573" stroke-width="3.4" stroke-linecap="butt" opacity="0.6"/>
<line x1="276.41" y1="195.66" x2="269.15" y2="204.91" stroke="#34495f" stroke-width="3.4" stroke-linecap="butt" opacity="0.6"/>
<line x1="580.49" y1="266.4" x2="567.15" y2="272.55" stroke="#34495f" stroke-width="3.4" stroke-linecap="butt" opacity="0.6"/>
<line x1="386.33" y1="270.89" x2="378.4" y2="277.1" stroke="#45607e" stroke-width="3.4" stroke-linecap="butt" opacity="0.6"/>
<line x1="181.14" y1="242.87" x2="199.9" y2="245.7" stroke="#3d5573" stroke-width="3.4" stroke-linecap="butt" opacity="0.6"/>
<line x1="133.46" y1="249.24" x2="114.27" y2="252.47" stroke="#34495f" stroke-width="3.4" stroke-linecap="butt" opacity="0.6"/>
<line x1="451.12" y1="200.01" x2="469.35" y2="203.28" stroke="#34495f" stroke-width="3.4" stroke-linecap="butt" opacity="0.6"/>
<line x1="382.93" y1="186.57" x2="388.35" y2="190.38" stroke="#34495f" stroke-width="3.4" stroke-linecap="butt" opacity="0.6"/>
<line x1="225.66" y1="231.86" x2="234.4" y2="236.37" stroke="#34495f" stroke-width="3.4" stroke-linecap="butt" opacity="0.6"/>
<line x1="145.3" y1="219.5" x2="148.7" y2="224.33" stroke="#3d5573" stroke-width="3.4" stroke-linecap="butt" opacity="0.6"/>
<line x1="413.21" y1="187.38" x2="428.83" y2="189.38" stroke="#34495f" stroke-width="3.4" stroke-linecap="butt" opacity="0.6"/>
<line x1="524.21" y1="213.42" x2="506.82" y2="217.68" stroke="#45607e" stroke-width="3.4" stroke-linecap="butt" opacity="0.6"/>
<line x1="570.61" y1="247.51" x2="569.6" y2="252.31" stroke="#3d5573" stroke-width="3.4" stroke-linecap="butt" opacity="0.6"/>
<line x1="201.02" y1="261.46" x2="219.2" y2="265.76" stroke="#34495f" stroke-width="3.4" stroke-linecap="butt" opacity="0.6"/>
<line x1="396.53" y1="235.68" x2="385.94" y2="238.93" stroke="#34495f" stroke-width="3.4" stroke-linecap="butt" opacity="0.6"/>
<line x1="472.67" y1="231.72" x2="473.88" y2="238.65" stroke="#3d5573" stroke-width="3.4" stroke-linecap="butt" opacity="0.6"/>
<line x1="448.65" y1="213.89" x2="440.48" y2="217.72" stroke="#34495f" stroke-width="3.4" stroke-linecap="butt" opacity="0.6"/>
<line x1="152.47" y1="216.97" x2="164.09" y2="219.82" stroke="#45607e" stroke-width="3.4" stroke-linecap="butt" opacity="0.6"/>
<line x1="277.89" y1="229.03" x2="278.6" y2="240.81" stroke="#34495f" stroke-width="3.4" stroke-linecap="butt" opacity="0.6"/>
<line x1="453.44" y1="267.33" x2="455.95" y2="273.61" stroke="#45607e" stroke-width="3.4" stroke-linecap="butt" opacity="0.6"/>
<line x1="424.51" y1="258.51" x2="428.39" y2="268.72" stroke="#3d5573" stroke-width="3.4" stroke-linecap="butt" opacity="0.6"/>
<line x1="212.33" y1="230.73" x2="203.44" y2="231.39" stroke="#3d5573" stroke-width="3.4" stroke-linecap="butt" opacity="0.6"/>
<line x1="226.66" y1="248.03" x2="222.53" y2="262.55" stroke="#45607e" stroke-width="3.4" stroke-linecap="butt" opacity="0.6"/>
<line x1="399.71" y1="210.75" x2="400.33" y2="219.76" stroke="#34495f" stroke-width="3.4" stroke-linecap="butt" opacity="0.6"/>
<line x1="258.01" y1="271.08" x2="243.03" y2="279.37" stroke="#45607e" stroke-width="3.4" stroke-linecap="butt" opacity="0.6"/>
<line x1="478.57" y1="207.22" x2="476.22" y2="218.61" stroke="#34495f" stroke-width="3.4" stroke-linecap="butt" opacity="0.6"/>
<line x1="449.08" y1="277.98" x2="462.35" y2="284.25" stroke="#3d5573" stroke-width="3.4" stroke-linecap="butt" opacity="0.6"/>
<line x1="443.95" y1="266.7" x2="433.82" y2="272.01" stroke="#34495f" stroke-width="3.4" stroke-linecap="butt" opacity="0.6"/>
<line x1="319.05" y1="260.12" x2="311.79" y2="263.13" stroke="#3d5573" stroke-width="3.4" stroke-linecap="butt" opacity="0.6"/>
<line x1="179.44" y1="235.37" x2="193.36" y2="244.66" stroke="#45607e" stroke-width="3.4" stroke-linecap="butt" opacity="0.6"/>
<line x1="188.55" y1="209.97" x2="177.14" y2="220.87" stroke="#3d5573" stroke-width="3.4" stroke-linecap="butt" opacity="0.6"/>
<line x1="361.59" y1="231.23" x2="364.05" y2="241.48" stroke="#3d5573" stroke-width="3.4" stroke-linecap="butt" opacity="0.6"/>
<line x1="491.63" y1="186.24" x2="496.92" y2="189.3" stroke="#34495f" stroke-width="3.4" stroke-linecap="butt" opacity="0.6"/>
<line x1="357.51" y1="242.14" x2="370.64" y2="250.69" stroke="#45607e" stroke-width="3.4" stroke-linecap="butt" opacity="0.6"/>
<line x1="396.17" y1="252.19" x2="387.91" y2="253.46" stroke="#45607e" stroke-width="3.4" stroke-linecap="butt" opacity="0.6"/>
<line x1="329.61" y1="224.17" x2="344.31" y2="226.62" stroke="#34495f" stroke-width="3.4" stroke-linecap="butt" opacity="0.6"/>
<line x1="250.47" y1="214.72" x2="236.16" y2="222.37" stroke="#3d5573" stroke-width="3.4" stroke-linecap="butt" opacity="0.6"/>
<line x1="537.48" y1="274.33" x2="546.84" y2="275.52" stroke="#3d5573" stroke-width="3.4" stroke-linecap="butt" opacity="0.6"/>
<line x1="475.75" y1="210.58" x2="481.54" y2="215.61" stroke="#3d5573" stroke-width="3.4" stroke-linecap="butt" opacity="0.6"/>
<line x1="326.06" y1="211.54" x2="332.75" y2="224.08" stroke="#34495f" stroke-width="3.4" stroke-linecap="butt" opacity="0.6"/>
<line x1="459.65" y1="228.57" x2="452.74" y2="231.1" stroke="#34495f" stroke-width="3.4" stroke-linecap="butt" opacity="0.6"/>
<line x1="424.84" y1="192.38" x2="409.46" y2="202.54" stroke="#3d5573" stroke-width="3.4" stroke-linecap="butt" opacity="0.6"/>
<line x1="264.24" y1="217.5" x2="269.44" y2="228.85" stroke="#34495f" stroke-width="3.4" stroke-linecap="butt" opacity="0.6"/>
<line x1="255.56" y1="225.86" x2="274.33" y2="229.35" stroke="#34495f" stroke-width="3.4" stroke-linecap="butt" opacity="0.6"/>
<line x1="438.34" y1="260.11" x2="434.8" y2="270.48" stroke="#45607e" stroke-width="3.4" stroke-linecap="butt" opacity="0.6"/>
<line x1="486.19" y1="213.05" x2="469.46" y2="217.14" stroke="#3d5573" stroke-width="3.4" stroke-linecap="butt" opacity="0.6"/>
<line x1="374.98" y1="250.48" x2="376.68" y2="261.63" stroke="#3d5573" stroke-width="3.4" stroke-linecap="butt" opacity="0.6"/>
<line x1="345.69" y1="289.23" x2="360.22" y2="293.76" stroke="#45607e" stroke-width="3.4" stroke-linecap="butt" opacity="0.6"/>
<line x1="80.62" y1="284.22" x2="74.85" y2="295.17" stroke="#3d5573" stroke-width="3.4" stroke-linecap="butt" opacity="0.6"/>
<line x1="176.42" y1="230.65" x2="185.8" y2="240.99" stroke="#34495f" stroke-width="3.4" stroke-linecap="butt" opacity="0.6"/>
<line x1="151.87" y1="282.67" x2="153.86" y2="287.23" stroke="#45607e" stroke-width="3.4" stroke-linecap="butt" opacity="0.6"/>
<line x1="319.79" y1="183.42" x2="327.3" y2="193.22" stroke="#45607e" stroke-width="3.4" stroke-linecap="butt" opacity="0.6"/>
<line x1="178.26" y1="192.55" x2="184.66" y2="193.84" stroke="#45607e" stroke-width="3.4" stroke-linecap="butt" opacity="0.6"/>
<line x1="367.21" y1="216.68" x2="360.94" y2="220.13" stroke="#34495f" stroke-width="3.4" stroke-linecap="butt" opacity="0.6"/>
<line x1="581.26" y1="248.63" x2="591.24" y2="259.55" stroke="#45607e" stroke-width="3.4" stroke-linecap="butt" opacity="0.6"/>
<line x1="408.04" y1="254.76" x2="401.22" y2="266.66" stroke="#3d5573" stroke-width="3.4" stroke-linecap="butt" opacity="0.6"/>
<line x1="330.8" y1="193.6" x2="331.3" y2="203.37" stroke="#3d5573" stroke-width="3.4" stroke-linecap="butt" opacity="0.6"/>
<line x1="231.56" y1="231.73" x2="221.11" y2="232.56" stroke="#34495f" stroke-width="3.4" stroke-linecap="butt" opacity="0.6"/>
<line x1="286.9" y1="255.97" x2="286.07" y2="266.98" stroke="#3d5573" stroke-width="3.4" stroke-linecap="butt" opacity="0.6"/>
<line x1="411.49" y1="242.58" x2="424.35" y2="253.71" stroke="#3d5573" stroke-width="3.4" stroke-linecap="butt" opacity="0.6"/>
<line x1="458.87" y1="230.21" x2="464.13" y2="235.17" stroke="#34495f" stroke-width="3.4" stroke-linecap="butt" opacity="0.6"/>
<line x1="204.41" y1="198.8" x2="216.02" y2="209.52" stroke="#3d5573" stroke-width="3.4" stroke-linecap="butt" opacity="0.6"/>
<line x1="301.18" y1="244.93" x2="313.33" y2="245.97" stroke="#45607e" stroke-width="3.4" stroke-linecap="butt" opacity="0.6"/>
<line x1="317.97" y1="280.54" x2="312.5" y2="284.57" stroke="#3d5573" stroke-width="3.4" stroke-linecap="butt" opacity="0.6"/>
<line x1="355.58" y1="225.18" x2="341" y2="232.7" stroke="#45607e" stroke-width="3.4" stroke-linecap="butt" opacity="0.6"/>
<line x1="330.47" y1="199.26" x2="338.57" y2="199.59" stroke="#3d5573" stroke-width="3.4" stroke-linecap="butt" opacity="0.6"/>
<line x1="499.9" y1="247.96" x2="497.52" y2="259.37" stroke="#3d5573" stroke-width="3.4" stroke-linecap="butt" opacity="0.6"/>
<line x1="463.79" y1="196.84" x2="466.25" y2="204.2" stroke="#3d5573" stroke-width="3.4" stroke-linecap="butt" opacity="0.6"/>
<line x1="538.92" y1="211.44" x2="535.04" y2="226.87" stroke="#34495f" stroke-width="3.4" stroke-linecap="butt" opacity="0.6"/>
<line x1="300.34" y1="279.23" x2="294.88" y2="293.02" stroke="#3d5573" stroke-width="3.4" stroke-linecap="butt" opacity="0.6"/>
<line x1="370.38" y1="226.92" x2="384.23" y2="235.79" stroke="#45607e" stroke-width="3.4" stroke-linecap="butt" opacity="0.6"/>
<line x1="244.11" y1="255.38" x2="242.65" y2="260.28" stroke="#45607e" stroke-width="3.4" stroke-linecap="butt" opacity="0.6"/>
<line x1="246.82" y1="243.52" x2="256.57" y2="252.64" stroke="#3d5573" stroke-width="3.4" stroke-linecap="butt" opacity="0.6"/>
<line x1="347.63" y1="192.06" x2="352.99" y2="199.89" stroke="#45607e" stroke-width="3.4" stroke-linecap="butt" opacity="0.6"/>
<line x1="351.42" y1="236.46" x2="344.27" y2="243.4" stroke="#45607e" stroke-width="3.4" stroke-linecap="butt" opacity="0.6"/>
<line x1="356.99" y1="277.36" x2="352.76" y2="288.35" stroke="#3d5573" stroke-width="3.4" stroke-linecap="butt" opacity="0.6"/>
<line x1="589.45" y1="285.93" x2="601.47" y2="295.99" stroke="#34495f" stroke-width="3.4" stroke-linecap="butt" opacity="0.6"/>
<line x1="158.93" y1="267.89" x2="157.77" y2="274.05" stroke="#34495f" stroke-width="3.4" stroke-linecap="butt" opacity="0.6"/>
<clipPath id="cMesh"><path d="M54,132 Q100,115 155,92 L540,92 Q600,115 648,133 Q600,136 500,133 Q300,136 54,132 Z"/></clipPath>
<path d="M54,132 Q100,115 155,92 L540,92 Q600,115 648,133 Q600,136 500,133 Q300,136 54,132 Z" fill="#5a647a"/>
<g clip-path="url(#cMesh)"><g filter="url(#blurM)">
<line x1="40" y1="93.5" x2="660" y2="93.5" stroke="#f0f3f7" stroke-width="1.53" stroke-dasharray="4.57 1.42" opacity="0.92"/>
<line x1="40" y1="96.13" x2="660" y2="96.13" stroke="#f0f3f7" stroke-width="1.59" stroke-dasharray="4.7 1.45" opacity="0.92"/>
<line x1="40" y1="98.82" x2="660" y2="98.82" stroke="#f0f3f7" stroke-width="1.65" stroke-dasharray="4.83 1.48" opacity="0.92"/>
<line x1="40" y1="101.57" x2="660" y2="101.57" stroke="#f0f3f7" stroke-width="1.71" stroke-dasharray="4.97 1.52" opacity="0.92"/>
<line x1="40" y1="104.38" x2="660" y2="104.38" stroke="#f0f3f7" stroke-width="1.77" stroke-dasharray="5.1 1.55" opacity="0.92"/>
<line x1="40" y1="107.26" x2="660" y2="107.26" stroke="#f0f3f7" stroke-width="1.83" stroke-dasharray="5.24 1.59" opacity="0.92"/>
<line x1="40" y1="110.19" x2="660" y2="110.19" stroke="#f0f3f7" stroke-width="1.9" stroke-dasharray="5.39 1.62" opacity="0.92"/>
<line x1="40" y1="113.19" x2="660" y2="113.19" stroke="#f0f3f7" stroke-width="1.97" stroke-dasharray="5.53 1.66" opacity="0.92"/>
<line x1="40" y1="116.25" x2="660" y2="116.25" stroke="#f0f3f7" stroke-width="2.03" stroke-dasharray="5.68 1.7" opacity="0.92"/>
<line x1="40" y1="119.39" x2="660" y2="119.39" stroke="#f0f3f7" stroke-width="2.1" stroke-dasharray="5.84 1.73" opacity="0.92"/>
<line x1="40" y1="122.59" x2="660" y2="122.59" stroke="#f0f3f7" stroke-width="2.17" stroke-dasharray="5.99 1.77" opacity="0.92"/>
<line x1="40" y1="125.86" x2="660" y2="125.86" stroke="#f0f3f7" stroke-width="2.24" stroke-dasharray="6.15 1.81" opacity="0.92"/>
<line x1="40" y1="129.2" x2="660" y2="129.2" stroke="#f0f3f7" stroke-width="2.32" stroke-dasharray="6.31 1.85" opacity="0.92"/>
<line x1="40" y1="132.62" x2="660" y2="132.62" stroke="#f0f3f7" stroke-width="2.39" stroke-dasharray="6.48 1.9" opacity="0.92"/>
<line x1="150" y1="92" x2="40" y2="134" stroke="#333d50" stroke-width="1.2" opacity="0.5"/>
<line x1="156.58" y1="92" x2="50.33" y2="134" stroke="#333d50" stroke-width="1.2" opacity="0.5"/>
<line x1="163.17" y1="92" x2="60.67" y2="134" stroke="#333d50" stroke-width="1.2" opacity="0.5"/>
<line x1="169.75" y1="92" x2="71" y2="134" stroke="#333d50" stroke-width="1.2" opacity="0.5"/>
<line x1="176.33" y1="92" x2="81.33" y2="134" stroke="#333d50" stroke-width="1.2" opacity="0.5"/>
<line x1="182.92" y1="92" x2="91.67" y2="134" stroke="#333d50" stroke-width="1.2" opacity="0.5"/>
<line x1="189.5" y1="92" x2="102" y2="134" stroke="#333d50" stroke-width="1.2" opacity="0.5"/>
<line x1="196.08" y1="92" x2="112.33" y2="134" stroke="#333d50" stroke-width="1.2" opacity="0.5"/>
<line x1="202.67" y1="92" x2="122.67" y2="134" stroke="#333d50" stroke-width="1.2" opacity="0.5"/>
<line x1="209.25" y1="92" x2="133" y2="134" stroke="#333d50" stroke-width="1.2" opacity="0.5"/>
<line x1="215.83" y1="92" x2="143.33" y2="134" stroke="#333d50" stroke-width="1.2" opacity="0.5"/>
<line x1="222.42" y1="92" x2="153.67" y2="134" stroke="#333d50" stroke-width="1.2" opacity="0.5"/>
<line x1="229" y1="92" x2="164" y2="134" stroke="#333d50" stroke-width="1.2" opacity="0.5"/>
<line x1="235.58" y1="92" x2="174.33" y2="134" stroke="#333d50" stroke-width="1.2" opacity="0.5"/>
<line x1="242.17" y1="92" x2="184.67" y2="134" stroke="#333d50" stroke-width="1.2" opacity="0.5"/>
<line x1="248.75" y1="92" x2="195" y2="134" stroke="#333d50" stroke-width="1.2" opacity="0.5"/>
<line x1="255.33" y1="92" x2="205.33" y2="134" stroke="#333d50" stroke-width="1.2" opacity="0.5"/>
<line x1="261.92" y1="92" x2="215.67" y2="134" stroke="#333d50" stroke-width="1.2" opacity="0.5"/>
<line x1="268.5" y1="92" x2="226" y2="134" stroke="#333d50" stroke-width="1.2" opacity="0.5"/>
<line x1="275.08" y1="92" x2="236.33" y2="134" stroke="#333d50" stroke-width="1.2" opacity="0.5"/>
<line x1="281.67" y1="92" x2="246.67" y2="134" stroke="#333d50" stroke-width="1.2" opacity="0.5"/>
<line x1="288.25" y1="92" x2="257" y2="134" stroke="#333d50" stroke-width="1.2" opacity="0.5"/>
<line x1="294.83" y1="92" x2="267.33" y2="134" stroke="#333d50" stroke-width="1.2" opacity="0.5"/>
<line x1="301.42" y1="92" x2="277.67" y2="134" stroke="#333d50" stroke-width="1.2" opacity="0.5"/>
<line x1="308" y1="92" x2="288" y2="134" stroke="#333d50" stroke-width="1.2" opacity="0.5"/>
<line x1="314.58" y1="92" x2="298.33" y2="134" stroke="#333d50" stroke-width="1.2" opacity="0.5"/>
<line x1="321.17" y1="92" x2="308.67" y2="134" stroke="#333d50" stroke-width="1.2" opacity="0.5"/>
<line x1="327.75" y1="92" x2="319" y2="134" stroke="#333d50" stroke-width="1.2" opacity="0.5"/>
<line x1="334.33" y1="92" x2="329.33" y2="134" stroke="#333d50" stroke-width="1.2" opacity="0.5"/>
<line x1="340.92" y1="92" x2="339.67" y2="134" stroke="#333d50" stroke-width="1.2" opacity="0.5"/>
<line x1="347.5" y1="92" x2="350" y2="134" stroke="#333d50" stroke-width="1.2" opacity="0.5"/>
<line x1="354.08" y1="92" x2="360.33" y2="134" stroke="#333d50" stroke-width="1.2" opacity="0.5"/>
<line x1="360.67" y1="92" x2="370.67" y2="134" stroke="#333d50" stroke-width="1.2" opacity="0.5"/>
<line x1="367.25" y1="92" x2="381" y2="134" stroke="#333d50" stroke-width="1.2" opacity="0.5"/>
<line x1="373.83" y1="92" x2="391.33" y2="134" stroke="#333d50" stroke-width="1.2" opacity="0.5"/>
<line x1="380.42" y1="92" x2="401.67" y2="134" stroke="#333d50" stroke-width="1.2" opacity="0.5"/>
<line x1="387" y1="92" x2="412" y2="134" stroke="#333d50" stroke-width="1.2" opacity="0.5"/>
<line x1="393.58" y1="92" x2="422.33" y2="134" stroke="#333d50" stroke-width="1.2" opacity="0.5"/>
<line x1="400.17" y1="92" x2="432.67" y2="134" stroke="#333d50" stroke-width="1.2" opacity="0.5"/>
<line x1="406.75" y1="92" x2="443" y2="134" stroke="#333d50" stroke-width="1.2" opacity="0.5"/>
<line x1="413.33" y1="92" x2="453.33" y2="134" stroke="#333d50" stroke-width="1.2" opacity="0.5"/>
<line x1="419.92" y1="92" x2="463.67" y2="134" stroke="#333d50" stroke-width="1.2" opacity="0.5"/>
<line x1="426.5" y1="92" x2="474" y2="134" stroke="#333d50" stroke-width="1.2" opacity="0.5"/>
<line x1="433.08" y1="92" x2="484.33" y2="134" stroke="#333d50" stroke-width="1.2" opacity="0.5"/>
<line x1="439.67" y1="92" x2="494.67" y2="134" stroke="#333d50" stroke-width="1.2" opacity="0.5"/>
<line x1="446.25" y1="92" x2="505" y2="134" stroke="#333d50" stroke-width="1.2" opacity="0.5"/>
<line x1="452.83" y1="92" x2="515.33" y2="134" stroke="#333d50" stroke-width="1.2" opacity="0.5"/>
<line x1="459.42" y1="92" x2="525.67" y2="134" stroke="#333d50" stroke-width="1.2" opacity="0.5"/>
<line x1="466" y1="92" x2="536" y2="134" stroke="#333d50" stroke-width="1.2" opacity="0.5"/>
<line x1="472.58" y1="92" x2="546.33" y2="134" stroke="#333d50" stroke-width="1.2" opacity="0.5"/>
<line x1="479.17" y1="92" x2="556.67" y2="134" stroke="#333d50" stroke-width="1.2" opacity="0.5"/>
<line x1="485.75" y1="92" x2="567" y2="134" stroke="#333d50" stroke-width="1.2" opacity="0.5"/>
<line x1="492.33" y1="92" x2="577.33" y2="134" stroke="#333d50" stroke-width="1.2" opacity="0.5"/>
<line x1="498.92" y1="92" x2="587.67" y2="134" stroke="#333d50" stroke-width="1.2" opacity="0.5"/>
<line x1="505.5" y1="92" x2="598" y2="134" stroke="#333d50" stroke-width="1.2" opacity="0.5"/>
<line x1="512.08" y1="92" x2="608.33" y2="134" stroke="#333d50" stroke-width="1.2" opacity="0.5"/>
<line x1="518.67" y1="92" x2="618.67" y2="134" stroke="#333d50" stroke-width="1.2" opacity="0.5"/>
<line x1="525.25" y1="92" x2="629" y2="134" stroke="#333d50" stroke-width="1.2" opacity="0.5"/>
<line x1="531.83" y1="92" x2="639.33" y2="134" stroke="#333d50" stroke-width="1.2" opacity="0.5"/>
<line x1="538.42" y1="92" x2="649.67" y2="134" stroke="#333d50" stroke-width="1.2" opacity="0.5"/>
<line x1="545" y1="92" x2="660" y2="134" stroke="#333d50" stroke-width="1.2" opacity="0.5"/>
<ellipse cx="140" cy="118" rx="30" ry="9" fill="#a66fe0" opacity="0.45" filter="url(#blur3)"/>
<ellipse cx="310" cy="100" rx="25" ry="7" fill="#a66fe0" opacity="0.45" filter="url(#blur3)"/>
<ellipse cx="470" cy="110" rx="30" ry="10" fill="#a66fe0" opacity="0.45" filter="url(#blur3)"/>
<ellipse cx="585" cy="120" rx="22" ry="8" fill="#a66fe0" opacity="0.45" filter="url(#blur3)"/>
</g></g>
<path d="M54,132 Q300,137 648,133" stroke="#3c4658" stroke-width="2.2" fill="none"/>
<g clip-path="url(#cMesh)">
<path d="M95,125 L99.56,121.62 L113.5,121.01 L121.83,124.12 L127.94,116.64 L138.39,116.22 L148.03,113.85 L155.2,115.17 L161.86,116.67 L174.6,111.2 L180.86,108.19 L189.15,109.68 L200.06,106.04 L205.95,105.51 L212.29,104 L218.69,103.54 L230,102" fill="none" stroke="#b27ff0" stroke-width="4.5" stroke-linejoin="round" opacity="0.35" filter="url(#blur1)"/>
<path d="M155.2,115.17 L164.99,111.79 L172.16,112.82 L181.09,111.7 L188.48,106.49 L193.96,106.06" fill="none" stroke="#b27ff0" stroke-width="4.5" stroke-linejoin="round" opacity="0.35" filter="url(#blur1)"/>
<path d="M212.29,104 L217.62,104.5 L224.07,97.3 L226.73,94.86 L228.71,96.75 L235.9,92" fill="none" stroke="#b27ff0" stroke-width="4.5" stroke-linejoin="round" opacity="0.35" filter="url(#blur1)"/>
<path d="M95,125 L99.56,121.62 L113.5,121.01 L121.83,124.12 L127.94,116.64 L138.39,116.22 L148.03,113.85 L155.2,115.17 L161.86,116.67 L174.6,111.2 L180.86,108.19 L189.15,109.68 L200.06,106.04 L205.95,105.51 L212.29,104 L218.69,103.54 L230,102" fill="none" stroke="#fbf4ff" stroke-width="1.1" stroke-linejoin="round" opacity="0.95"/>
<path d="M155.2,115.17 L164.99,111.79 L172.16,112.82 L181.09,111.7 L188.48,106.49 L193.96,106.06" fill="none" stroke="#fbf4ff" stroke-width="1.1" stroke-linejoin="round" opacity="0.95"/>
<path d="M212.29,104 L217.62,104.5 L224.07,97.3 L226.73,94.86 L228.71,96.75 L235.9,92" fill="none" stroke="#fbf4ff" stroke-width="1.1" stroke-linejoin="round" opacity="0.95"/>
<path d="M240,95 L243.99,97.01 L250.42,99.57 L248.4,101.97 L258.83,106.25 L262.51,104.25 L259.16,105.77 L269.6,113.91 L267.76,112.23 L273.27,115.74 L279.79,113.63 L284.81,118.29 L282.92,122 L288.45,122.79 L293.83,122.35 L295.84,125.52 L300,130" fill="none" stroke="#b27ff0" stroke-width="4.5" stroke-linejoin="round" opacity="0.35" filter="url(#blur1)"/>
<path d="M250.42,99.57 L253.52,102.12 L254.07,106.29 L254.03,115.82 L254.72,119.06 L254.33,123.56" fill="none" stroke="#b27ff0" stroke-width="4.5" stroke-linejoin="round" opacity="0.35" filter="url(#blur1)"/>
<path d="M267.76,112.23 L269.47,113.75 L272.13,117.74 L277.54,120.29 L280.98,121.34 L283.33,122.87" fill="none" stroke="#b27ff0" stroke-width="4.5" stroke-linejoin="round" opacity="0.35" filter="url(#blur1)"/>
<path d="M240,95 L243.99,97.01 L250.42,99.57 L248.4,101.97 L258.83,106.25 L262.51,104.25 L259.16,105.77 L269.6,113.91 L267.76,112.23 L273.27,115.74 L279.79,113.63 L284.81,118.29 L282.92,122 L288.45,122.79 L293.83,122.35 L295.84,125.52 L300,130" fill="none" stroke="#fbf4ff" stroke-width="1.1" stroke-linejoin="round" opacity="0.95"/>
<path d="M250.42,99.57 L253.52,102.12 L254.07,106.29 L254.03,115.82 L254.72,119.06 L254.33,123.56" fill="none" stroke="#fbf4ff" stroke-width="1.1" stroke-linejoin="round" opacity="0.95"/>
<path d="M267.76,112.23 L269.47,113.75 L272.13,117.74 L277.54,120.29 L280.98,121.34 L283.33,122.87" fill="none" stroke="#fbf4ff" stroke-width="1.1" stroke-linejoin="round" opacity="0.95"/>
<path d="M300,100 L310.88,102.19 L315.53,97.98 L325.92,98.03 L326.82,97.42 L339.15,101.89 L346.17,99.43 L356,100.04 L359.56,97.19 L369.58,95.73 L371.88,97.83 L384.97,94.55 L391.47,99.39 L394.52,93.02 L404.94,94.3 L416.1,99.29 L420,95" fill="none" stroke="#b27ff0" stroke-width="4.5" stroke-linejoin="round" opacity="0.35" filter="url(#blur1)"/>
<path d="M369.58,95.73 L375.14,93.52 L374,87.22 L377.6,80.64 L386.03,80.82 L387.27,75.27" fill="none" stroke="#b27ff0" stroke-width="4.5" stroke-linejoin="round" opacity="0.35" filter="url(#blur1)"/>
<path d="M371.88,97.83 L381.6,97.99 L387.64,93.22 L393.57,93.22 L401.73,92.62 L409.98,90.22" fill="none" stroke="#b27ff0" stroke-width="4.5" stroke-linejoin="round" opacity="0.35" filter="url(#blur1)"/>
<path d="M300,100 L310.88,102.19 L315.53,97.98 L325.92,98.03 L326.82,97.42 L339.15,101.89 L346.17,99.43 L356,100.04 L359.56,97.19 L369.58,95.73 L371.88,97.83 L384.97,94.55 L391.47,99.39 L394.52,93.02 L404.94,94.3 L416.1,99.29 L420,95" fill="none" stroke="#fbf4ff" stroke-width="1.1" stroke-linejoin="round" opacity="0.95"/>
<path d="M369.58,95.73 L375.14,93.52 L374,87.22 L377.6,80.64 L386.03,80.82 L387.27,75.27" fill="none" stroke="#fbf4ff" stroke-width="1.1" stroke-linejoin="round" opacity="0.95"/>
<path d="M371.88,97.83 L381.6,97.99 L387.64,93.22 L393.57,93.22 L401.73,92.62 L409.98,90.22" fill="none" stroke="#fbf4ff" stroke-width="1.1" stroke-linejoin="round" opacity="0.95"/>
<path d="M420,100 L423.17,100.33 L427.1,107.47 L427,103.94 L428.6,103.75 L432.07,108.13 L441.44,112.08 L445.6,114.95 L445.69,114.64 L444.23,114.82 L449.34,118.47 L450.9,119.59 L456.5,120.94 L459.86,119.57 L465.6,126.9 L467.66,123.18 L470,128" fill="none" stroke="#b27ff0" stroke-width="4.5" stroke-linejoin="round" opacity="0.35" filter="url(#blur1)"/>
<path d="M450.9,119.59 L455.91,122.89 L457.39,128.06 L460.27,134.02 L459.64,137.33 L465.55,141.96" fill="none" stroke="#b27ff0" stroke-width="4.5" stroke-linejoin="round" opacity="0.35" filter="url(#blur1)"/>
<path d="M432.07,108.13 L433.96,110.99 L441.24,109.62 L443.74,112.8 L451.12,115.87 L453.45,118.56" fill="none" stroke="#b27ff0" stroke-width="4.5" stroke-linejoin="round" opacity="0.35" filter="url(#blur1)"/>
<path d="M420,100 L423.17,100.33 L427.1,107.47 L427,103.94 L428.6,103.75 L432.07,108.13 L441.44,112.08 L445.6,114.95 L445.69,114.64 L444.23,114.82 L449.34,118.47 L450.9,119.59 L456.5,120.94 L459.86,119.57 L465.6,126.9 L467.66,123.18 L470,128" fill="none" stroke="#fbf4ff" stroke-width="1.1" stroke-linejoin="round" opacity="0.95"/>
<path d="M450.9,119.59 L455.91,122.89 L457.39,128.06 L460.27,134.02 L459.64,137.33 L465.55,141.96" fill="none" stroke="#fbf4ff" stroke-width="1.1" stroke-linejoin="round" opacity="0.95"/>
<path d="M432.07,108.13 L433.96,110.99 L441.24,109.62 L443.74,112.8 L451.12,115.87 L453.45,118.56" fill="none" stroke="#fbf4ff" stroke-width="1.1" stroke-linejoin="round" opacity="0.95"/>
<path d="M450,95 L462.47,98.83 L470.03,97.32 L481.19,100.39 L488.14,97.92 L498.74,100.62 L509.47,99.99 L513.94,106.39 L522.18,108.18 L535.98,110.06 L541.7,112.66 L550.44,108.91 L564.36,114.95 L573.84,115.43 L585.09,117.28 L591.54,113.7 L600,118" fill="none" stroke="#b27ff0" stroke-width="4.5" stroke-linejoin="round" opacity="0.35" filter="url(#blur1)"/>
<path d="M585.09,117.28 L587.49,123.05 L592.25,127.7 L598.68,132.34 L601.14,141.61 L604.71,145.63" fill="none" stroke="#b27ff0" stroke-width="4.5" stroke-linejoin="round" opacity="0.35" filter="url(#blur1)"/>
<path d="M513.94,106.39 L516.89,108.21 L517.9,106.84 L522.29,104.29 L528.46,100.59 L528.88,102.41" fill="none" stroke="#b27ff0" stroke-width="4.5" stroke-linejoin="round" opacity="0.35" filter="url(#blur1)"/>
<path d="M450,95 L462.47,98.83 L470.03,97.32 L481.19,100.39 L488.14,97.92 L498.74,100.62 L509.47,99.99 L513.94,106.39 L522.18,108.18 L535.98,110.06 L541.7,112.66 L550.44,108.91 L564.36,114.95 L573.84,115.43 L585.09,117.28 L591.54,113.7 L600,118" fill="none" stroke="#fbf4ff" stroke-width="1.1" stroke-linejoin="round" opacity="0.95"/>
<path d="M585.09,117.28 L587.49,123.05 L592.25,127.7 L598.68,132.34 L601.14,141.61 L604.71,145.63" fill="none" stroke="#fbf4ff" stroke-width="1.1" stroke-linejoin="round" opacity="0.95"/>
<path d="M513.94,106.39 L516.89,108.21 L517.9,106.84 L522.29,104.29 L528.46,100.59 L528.88,102.41" fill="none" stroke="#fbf4ff" stroke-width="1.1" stroke-linejoin="round" opacity="0.95"/>
<path d="M520,100 L526.14,98.81 L532.07,101.55 L544.11,105.33 L546.97,108.66 L557.56,104.96 L567.56,111.94 L570.23,114.45 L582.48,110.33 L583.51,117 L597.61,112.41 L604.63,119.37 L611.07,121.41 L621.38,118.93 L627.67,125.24 L631.01,124.91 L640,125" fill="none" stroke="#b27ff0" stroke-width="4.5" stroke-linejoin="round" opacity="0.35" filter="url(#blur1)"/>
<path d="M611.07,121.41 L613.99,125.11 L618.16,123.23 L621.44,126.23 L621.89,130.02 L627.21,130.72" fill="none" stroke="#b27ff0" stroke-width="4.5" stroke-linejoin="round" opacity="0.35" filter="url(#blur1)"/>
<path d="M532.07,101.55 L539.4,100.24 L542.23,93.32 L547.74,94.44 L554.51,91.79 L560.37,86.99" fill="none" stroke="#b27ff0" stroke-width="4.5" stroke-linejoin="round" opacity="0.35" filter="url(#blur1)"/>
<path d="M520,100 L526.14,98.81 L532.07,101.55 L544.11,105.33 L546.97,108.66 L557.56,104.96 L567.56,111.94 L570.23,114.45 L582.48,110.33 L583.51,117 L597.61,112.41 L604.63,119.37 L611.07,121.41 L621.38,118.93 L627.67,125.24 L631.01,124.91 L640,125" fill="none" stroke="#fbf4ff" stroke-width="1.1" stroke-linejoin="round" opacity="0.95"/>
<path d="M611.07,121.41 L613.99,125.11 L618.16,123.23 L621.44,126.23 L621.89,130.02 L627.21,130.72" fill="none" stroke="#fbf4ff" stroke-width="1.1" stroke-linejoin="round" opacity="0.95"/>
<path d="M532.07,101.55 L539.4,100.24 L542.23,93.32 L547.74,94.44 L554.51,91.79 L560.37,86.99" fill="none" stroke="#fbf4ff" stroke-width="1.1" stroke-linejoin="round" opacity="0.95"/>
</g>
<path d="M150,175 L151.34,169.66 L156.92,173.66 L159.48,165.02 L168.27,162.98 L171.65,160.73 L172.35,163.18 L181.43,158.96 L182.1,153.75 L185.29,153.25 L192.93,154.84 L196.96,151.19 L200.35,145.77 L201.89,144.91 L205.13,146.29 L208.65,140.79 L215,140" fill="none" stroke="#b27ff0" stroke-width="4.5" stroke-linejoin="round" opacity="0.35" filter="url(#blur1)"/>
<path d="M172.35,163.18 L178,162.72 L180.83,162.15 L181.68,162.7 L187.51,165.6 L191.71,166.75" fill="none" stroke="#b27ff0" stroke-width="4.5" stroke-linejoin="round" opacity="0.35" filter="url(#blur1)"/>
<path d="M185.29,153.25 L186.82,150.85 L186.27,144.82 L192.8,141.09 L190.67,139.23 L192.9,133.18" fill="none" stroke="#b27ff0" stroke-width="4.5" stroke-linejoin="round" opacity="0.35" filter="url(#blur1)"/>
<path d="M150,175 L151.34,169.66 L156.92,173.66 L159.48,165.02 L168.27,162.98 L171.65,160.73 L172.35,163.18 L181.43,158.96 L182.1,153.75 L185.29,153.25 L192.93,154.84 L196.96,151.19 L200.35,145.77 L201.89,144.91 L205.13,146.29 L208.65,140.79 L215,140" fill="none" stroke="#fbf4ff" stroke-width="1.1" stroke-linejoin="round" opacity="0.95"/>
<path d="M172.35,163.18 L178,162.72 L180.83,162.15 L181.68,162.7 L187.51,165.6 L191.71,166.75" fill="none" stroke="#fbf4ff" stroke-width="1.1" stroke-linejoin="round" opacity="0.95"/>
<path d="M185.29,153.25 L186.82,150.85 L186.27,144.82 L192.8,141.09 L190.67,139.23 L192.9,133.18" fill="none" stroke="#fbf4ff" stroke-width="1.1" stroke-linejoin="round" opacity="0.95"/>
<path d="M210,178 L220.64,175.26 L221.99,175.59 L234.42,176.14 L241.28,169.46 L247.62,167.55 L254.57,167.25 L265.8,169 L273.41,163.82 L281.22,159.36 L288.37,161.62 L295.48,158.06 L303.93,153.2 L310.28,157.81 L313.99,156.13 L320.21,153.77 L330,150" fill="none" stroke="#b27ff0" stroke-width="4.5" stroke-linejoin="round" opacity="0.35" filter="url(#blur1)"/>
<path d="M281.22,159.36 L290.25,161.9 L294.46,163.07 L307.71,162.55 L310.82,164.37 L320.45,166.58" fill="none" stroke="#b27ff0" stroke-width="4.5" stroke-linejoin="round" opacity="0.35" filter="url(#blur1)"/>
<path d="M303.93,153.2 L310.99,156.43 L314.1,158.68 L322.84,165.8 L328.67,172.23 L335.25,173.37" fill="none" stroke="#b27ff0" stroke-width="4.5" stroke-linejoin="round" opacity="0.35" filter="url(#blur1)"/>
<path d="M210,178 L220.64,175.26 L221.99,175.59 L234.42,176.14 L241.28,169.46 L247.62,167.55 L254.57,167.25 L265.8,169 L273.41,163.82 L281.22,159.36 L288.37,161.62 L295.48,158.06 L303.93,153.2 L310.28,157.81 L313.99,156.13 L320.21,153.77 L330,150" fill="none" stroke="#fbf4ff" stroke-width="1.1" stroke-linejoin="round" opacity="0.95"/>
<path d="M281.22,159.36 L290.25,161.9 L294.46,163.07 L307.71,162.55 L310.82,164.37 L320.45,166.58" fill="none" stroke="#fbf4ff" stroke-width="1.1" stroke-linejoin="round" opacity="0.95"/>
<path d="M303.93,153.2 L310.99,156.43 L314.1,158.68 L322.84,165.8 L328.67,172.23 L335.25,173.37" fill="none" stroke="#fbf4ff" stroke-width="1.1" stroke-linejoin="round" opacity="0.95"/>
<path d="M330,150 L334.93,148.18 L340.59,146.12 L350.39,148.85 L352.84,146.91 L356.13,145.4 L363.7,145.82 L373.21,146.13 L372.66,141.43 L377.9,143.14 L388.51,146.86 L389.77,145.37 L397.03,142.8 L403.39,138.22 L405.28,142.59 L415.89,139.67 L420,140" fill="none" stroke="#b27ff0" stroke-width="4.5" stroke-linejoin="round" opacity="0.35" filter="url(#blur1)"/>
<path d="M388.51,146.86 L392.25,143.99 L402.11,138.82 L404.79,137.19 L411.07,135.49 L420.2,130.88" fill="none" stroke="#b27ff0" stroke-width="4.5" stroke-linejoin="round" opacity="0.35" filter="url(#blur1)"/>
<path d="M397.03,142.8 L406.19,139.18 L409.34,136.3 L417.36,138.8 L424.44,135.45 L428.28,131.67" fill="none" stroke="#b27ff0" stroke-width="4.5" stroke-linejoin="round" opacity="0.35" filter="url(#blur1)"/>
<path d="M330,150 L334.93,148.18 L340.59,146.12 L350.39,148.85 L352.84,146.91 L356.13,145.4 L363.7,145.82 L373.21,146.13 L372.66,141.43 L377.9,143.14 L388.51,146.86 L389.77,145.37 L397.03,142.8 L403.39,138.22 L405.28,142.59 L415.89,139.67 L420,140" fill="none" stroke="#fbf4ff" stroke-width="1.1" stroke-linejoin="round" opacity="0.95"/>
<path d="M388.51,146.86 L392.25,143.99 L402.11,138.82 L404.79,137.19 L411.07,135.49 L420.2,130.88" fill="none" stroke="#fbf4ff" stroke-width="1.1" stroke-linejoin="round" opacity="0.95"/>
<path d="M397.03,142.8 L406.19,139.18 L409.34,136.3 L417.36,138.8 L424.44,135.45 L428.28,131.67" fill="none" stroke="#fbf4ff" stroke-width="1.1" stroke-linejoin="round" opacity="0.95"/>
<path d="M300,170 L302.07,171.09 L312.49,170.85 L311.52,166.55 L318.9,165.69 L322.89,169.35 L330.44,165.32 L335.96,164.18 L336.08,166.52 L344.45,165.43 L348.97,163.74 L355.58,160.89 L357.67,163.57 L365.49,161.7 L368.85,162.82 L378.36,157.29 L380,160" fill="none" stroke="#b27ff0" stroke-width="4.5" stroke-linejoin="round" opacity="0.35" filter="url(#blur1)"/>
<path d="M312.49,170.85 L318.59,173.91 L324.4,175.54 L329.16,176.17 L335.63,179.05 L340.29,180.37" fill="none" stroke="#b27ff0" stroke-width="4.5" stroke-linejoin="round" opacity="0.35" filter="url(#blur1)"/>
<path d="M322.89,169.35 L327.65,163.2 L328.98,157.44 L330.83,156.97 L337,152.34 L338.54,147.06" fill="none" stroke="#b27ff0" stroke-width="4.5" stroke-linejoin="round" opacity="0.35" filter="url(#blur1)"/>
<path d="M300,170 L302.07,171.09 L312.49,170.85 L311.52,166.55 L318.9,165.69 L322.89,169.35 L330.44,165.32 L335.96,164.18 L336.08,166.52 L344.45,165.43 L348.97,163.74 L355.58,160.89 L357.67,163.57 L365.49,161.7 L368.85,162.82 L378.36,157.29 L380,160" fill="none" stroke="#fbf4ff" stroke-width="1.1" stroke-linejoin="round" opacity="0.95"/>
<path d="M312.49,170.85 L318.59,173.91 L324.4,175.54 L329.16,176.17 L335.63,179.05 L340.29,180.37" fill="none" stroke="#fbf4ff" stroke-width="1.1" stroke-linejoin="round" opacity="0.95"/>
<path d="M322.89,169.35 L327.65,163.2 L328.98,157.44 L330.83,156.97 L337,152.34 L338.54,147.06" fill="none" stroke="#fbf4ff" stroke-width="1.1" stroke-linejoin="round" opacity="0.95"/>
<path d="M420,190 L425.8,189.99 L433.85,183.9 L439.03,185.16 L446.83,180.08 L449.74,179.37 L454.27,177.54 L465.59,177.5 L467.38,176.85 L473.18,175.13 L479.68,168.02 L486.76,169.49 L493.16,170.57 L504.76,163.89 L509.5,165.31 L514.24,159.91 L520,160" fill="none" stroke="#b27ff0" stroke-width="4.5" stroke-linejoin="round" opacity="0.35" filter="url(#blur1)"/>
<path d="M504.76,163.89 L506.22,160.36 L509.41,162.83 L509.51,160.73 L513.75,154.08 L517.43,155.27" fill="none" stroke="#b27ff0" stroke-width="4.5" stroke-linejoin="round" opacity="0.35" filter="url(#blur1)"/>
<path d="M454.27,177.54 L458.27,174.72 L460.66,173.35 L461.31,174.46 L466.95,169.23 L470.14,168.16" fill="none" stroke="#b27ff0" stroke-width="4.5" stroke-linejoin="round" opacity="0.35" filter="url(#blur1)"/>
<path d="M420,190 L425.8,189.99 L433.85,183.9 L439.03,185.16 L446.83,180.08 L449.74,179.37 L454.27,177.54 L465.59,177.5 L467.38,176.85 L473.18,175.13 L479.68,168.02 L486.76,169.49 L493.16,170.57 L504.76,163.89 L509.5,165.31 L514.24,159.91 L520,160" fill="none" stroke="#fbf4ff" stroke-width="1.1" stroke-linejoin="round" opacity="0.95"/>
<path d="M504.76,163.89 L506.22,160.36 L509.41,162.83 L509.51,160.73 L513.75,154.08 L517.43,155.27" fill="none" stroke="#fbf4ff" stroke-width="1.1" stroke-linejoin="round" opacity="0.95"/>
<path d="M454.27,177.54 L458.27,174.72 L460.66,173.35 L461.31,174.46 L466.95,169.23 L470.14,168.16" fill="none" stroke="#fbf4ff" stroke-width="1.1" stroke-linejoin="round" opacity="0.95"/>
<path d="M500,140 L503.89,144.76 L503.84,143.74 L512.23,144.66 L512.45,148.74 L522.05,148.89 L520.56,154.64 L524.13,153.29 L527.98,155.08 L533.94,156.73 L538.95,161.83 L544.14,163.05 L541.46,167.57 L546.59,168.58 L552.31,166.99 L555,169.5 L560,175" fill="none" stroke="#b27ff0" stroke-width="4.5" stroke-linejoin="round" opacity="0.35" filter="url(#blur1)"/>
<path d="M524.13,153.29 L527.87,150.97 L533.04,150.13 L535.58,154.34 L536.17,150.11 L541.98,151.43" fill="none" stroke="#b27ff0" stroke-width="4.5" stroke-linejoin="round" opacity="0.35" filter="url(#blur1)"/>
<path d="M552.31,166.99 L556.73,167.63 L559.65,166.5 L563.08,163.74 L570.44,160.92 L575.06,161.67" fill="none" stroke="#b27ff0" stroke-width="4.5" stroke-linejoin="round" opacity="0.35" filter="url(#blur1)"/>
<path d="M500,140 L503.89,144.76 L503.84,143.74 L512.23,144.66 L512.45,148.74 L522.05,148.89 L520.56,154.64 L524.13,153.29 L527.98,155.08 L533.94,156.73 L538.95,161.83 L544.14,163.05 L541.46,167.57 L546.59,168.58 L552.31,166.99 L555,169.5 L560,175" fill="none" stroke="#fbf4ff" stroke-width="1.1" stroke-linejoin="round" opacity="0.95"/>
<path d="M524.13,153.29 L527.87,150.97 L533.04,150.13 L535.58,154.34 L536.17,150.11 L541.98,151.43" fill="none" stroke="#fbf4ff" stroke-width="1.1" stroke-linejoin="round" opacity="0.95"/>
<path d="M552.31,166.99 L556.73,167.63 L559.65,166.5 L563.08,163.74 L570.44,160.92 L575.06,161.67" fill="none" stroke="#fbf4ff" stroke-width="1.1" stroke-linejoin="round" opacity="0.95"/>
<path d="M470,175 L475.65,179.71 L482.76,176.56 L490.6,175.61 L494.62,177.45 L495.32,177.21 L504.22,181.76 L508.27,178.19 L511.83,182.83 L519,184.44 L528.69,184.08 L530.04,184.05 L540.02,188.9 L540.63,184.61 L546.38,186.88 L555.03,186.57 L560,190" fill="none" stroke="#b27ff0" stroke-width="4.5" stroke-linejoin="round" opacity="0.35" filter="url(#blur1)"/>
<path d="M540.63,184.61 L542.38,192.29 L550.51,198.15 L550.5,206.51 L557.3,210.99 L561.93,216.88" fill="none" stroke="#b27ff0" stroke-width="4.5" stroke-linejoin="round" opacity="0.35" filter="url(#blur1)"/>
<path d="M504.22,181.76 L510.16,177.63 L508.26,174.07 L517.38,174.92 L516.07,168.61 L521.2,167.97" fill="none" stroke="#b27ff0" stroke-width="4.5" stroke-linejoin="round" opacity="0.35" filter="url(#blur1)"/>
<path d="M470,175 L475.65,179.71 L482.76,176.56 L490.6,175.61 L494.62,177.45 L495.32,177.21 L504.22,181.76 L508.27,178.19 L511.83,182.83 L519,184.44 L528.69,184.08 L530.04,184.05 L540.02,188.9 L540.63,184.61 L546.38,186.88 L555.03,186.57 L560,190" fill="none" stroke="#fbf4ff" stroke-width="1.1" stroke-linejoin="round" opacity="0.95"/>
<path d="M540.63,184.61 L542.38,192.29 L550.51,198.15 L550.5,206.51 L557.3,210.99 L561.93,216.88" fill="none" stroke="#fbf4ff" stroke-width="1.1" stroke-linejoin="round" opacity="0.95"/>
<path d="M504.22,181.76 L510.16,177.63 L508.26,174.07 L517.38,174.92 L516.07,168.61 L521.2,167.97" fill="none" stroke="#fbf4ff" stroke-width="1.1" stroke-linejoin="round" opacity="0.95"/>
<path d="M118,232 L131.93,232.19 L140.16,226.8 L149.56,232.2 L157.03,226.85 L168.21,230.36 L179.34,228.88 L195.98,225.98 L200.34,224.56 L214.69,221.8 L222.66,220.85 L238.67,216.68 L250.01,217.86 L255.88,215.29 L268.18,217.43 L279.81,218.25 L290,214" fill="none" stroke="#b27ff0" stroke-width="4.5" stroke-linejoin="round" opacity="0.35" filter="url(#blur1)"/>
<path d="M222.66,220.85 L227.2,215.13 L229.08,212.15 L234.33,207.5 L238.47,204.23 L244.82,203.13" fill="none" stroke="#b27ff0" stroke-width="4.5" stroke-linejoin="round" opacity="0.35" filter="url(#blur1)"/>
<path d="M214.69,221.8 L220.42,226.14 L225.33,226.54 L229.7,228.92 L233.19,234.22 L237.41,236.61" fill="none" stroke="#b27ff0" stroke-width="4.5" stroke-linejoin="round" opacity="0.35" filter="url(#blur1)"/>
<path d="M118,232 L131.93,232.19 L140.16,226.8 L149.56,232.2 L157.03,226.85 L168.21,230.36 L179.34,228.88 L195.98,225.98 L200.34,224.56 L214.69,221.8 L222.66,220.85 L238.67,216.68 L250.01,217.86 L255.88,215.29 L268.18,217.43 L279.81,218.25 L290,214" fill="none" stroke="#fbf4ff" stroke-width="1.1" stroke-linejoin="round" opacity="0.95"/>
<path d="M222.66,220.85 L227.2,215.13 L229.08,212.15 L234.33,207.5 L238.47,204.23 L244.82,203.13" fill="none" stroke="#fbf4ff" stroke-width="1.1" stroke-linejoin="round" opacity="0.95"/>
<path d="M214.69,221.8 L220.42,226.14 L225.33,226.54 L229.7,228.92 L233.19,234.22 L237.41,236.61" fill="none" stroke="#fbf4ff" stroke-width="1.1" stroke-linejoin="round" opacity="0.95"/>
<path d="M160,228 L174.7,223.9 L183.75,227.72 L199.94,227.51 L206.95,219.93 L219.35,222.6 L236.96,220.56 L249.74,218.07 L260.5,219.87 L273.69,216.31 L285.71,213.58 L299.55,212.77 L307.03,210.16 L321.87,208.77 L335.49,206.77 L346.63,205.85 L360,205" fill="none" stroke="#b27ff0" stroke-width="4.5" stroke-linejoin="round" opacity="0.35" filter="url(#blur1)"/>
<path d="M249.74,218.07 L253.85,217.37 L256.37,218.77 L261.2,216.89 L264.85,219.93 L272.1,219.9" fill="none" stroke="#b27ff0" stroke-width="4.5" stroke-linejoin="round" opacity="0.35" filter="url(#blur1)"/>
<path d="M206.95,219.93 L211.41,224.33 L217.39,226.5 L226.55,235.78 L228.39,236.9 L235.7,242.98" fill="none" stroke="#b27ff0" stroke-width="4.5" stroke-linejoin="round" opacity="0.35" filter="url(#blur1)"/>
<path d="M160,228 L174.7,223.9 L183.75,227.72 L199.94,227.51 L206.95,219.93 L219.35,222.6 L236.96,220.56 L249.74,218.07 L260.5,219.87 L273.69,216.31 L285.71,213.58 L299.55,212.77 L307.03,210.16 L321.87,208.77 L335.49,206.77 L346.63,205.85 L360,205" fill="none" stroke="#fbf4ff" stroke-width="1.1" stroke-linejoin="round" opacity="0.95"/>
<path d="M249.74,218.07 L253.85,217.37 L256.37,218.77 L261.2,216.89 L264.85,219.93 L272.1,219.9" fill="none" stroke="#fbf4ff" stroke-width="1.1" stroke-linejoin="round" opacity="0.95"/>
<path d="M206.95,219.93 L211.41,224.33 L217.39,226.5 L226.55,235.78 L228.39,236.9 L235.7,242.98" fill="none" stroke="#fbf4ff" stroke-width="1.1" stroke-linejoin="round" opacity="0.95"/>
<path d="M290,214 L299.71,217.06 L306.01,214.47 L312.24,218.45 L325.41,219.61 L327.54,218.19 L342.63,219.85 L346.55,215.97 L351.48,221.35 L359.67,222.66 L372.58,220.66 L382.51,225.02 L388.43,219.05 L396.33,222.31 L401.75,227.05 L413.72,221.29 L420,225" fill="none" stroke="#b27ff0" stroke-width="4.5" stroke-linejoin="round" opacity="0.35" filter="url(#blur1)"/>
<path d="M327.54,218.19 L334.64,213.59 L337.68,215.98 L343.12,211.88 L349.29,210.99 L351.22,207.49" fill="none" stroke="#b27ff0" stroke-width="4.5" stroke-linejoin="round" opacity="0.35" filter="url(#blur1)"/>
<path d="M312.24,218.45 L314.37,219.17 L321.91,221.8 L324.69,219.43 L327.84,223.85 L334.56,224.75" fill="none" stroke="#b27ff0" stroke-width="4.5" stroke-linejoin="round" opacity="0.35" filter="url(#blur1)"/>
<path d="M290,214 L299.71,217.06 L306.01,214.47 L312.24,218.45 L325.41,219.61 L327.54,218.19 L342.63,219.85 L346.55,215.97 L351.48,221.35 L359.67,222.66 L372.58,220.66 L382.51,225.02 L388.43,219.05 L396.33,222.31 L401.75,227.05 L413.72,221.29 L420,225" fill="none" stroke="#fbf4ff" stroke-width="1.1" stroke-linejoin="round" opacity="0.95"/>
<path d="M327.54,218.19 L334.64,213.59 L337.68,215.98 L343.12,211.88 L349.29,210.99 L351.22,207.49" fill="none" stroke="#fbf4ff" stroke-width="1.1" stroke-linejoin="round" opacity="0.95"/>
<path d="M312.24,218.45 L314.37,219.17 L321.91,221.8 L324.69,219.43 L327.84,223.85 L334.56,224.75" fill="none" stroke="#fbf4ff" stroke-width="1.1" stroke-linejoin="round" opacity="0.95"/>
<path d="M400,205 L405.49,204.07 L417.2,209.46 L424.5,204.91 L433.19,205.71 L442.88,205.37 L446.85,208.26 L460.14,206.7 L462.54,207.05 L470.83,209.28 L480.41,213.33 L488.61,211.68 L496.67,214.69 L508.85,212.53 L517.12,211.76 L525.7,214.58 L530,215" fill="none" stroke="#b27ff0" stroke-width="4.5" stroke-linejoin="round" opacity="0.35" filter="url(#blur1)"/>
<path d="M496.67,214.69 L501,215.73 L503.89,224.21 L505.7,224.56 L506.74,225.57 L508.53,231.01" fill="none" stroke="#b27ff0" stroke-width="4.5" stroke-linejoin="round" opacity="0.35" filter="url(#blur1)"/>
<path d="M496.67,214.69 L501.24,213.55 L506.55,217.97 L507,218.77 L512.16,223.98 L518.2,223.88" fill="none" stroke="#b27ff0" stroke-width="4.5" stroke-linejoin="round" opacity="0.35" filter="url(#blur1)"/>
<path d="M400,205 L405.49,204.07 L417.2,209.46 L424.5,204.91 L433.19,205.71 L442.88,205.37 L446.85,208.26 L460.14,206.7 L462.54,207.05 L470.83,209.28 L480.41,213.33 L488.61,211.68 L496.67,214.69 L508.85,212.53 L517.12,211.76 L525.7,214.58 L530,215" fill="none" stroke="#fbf4ff" stroke-width="1.1" stroke-linejoin="round" opacity="0.95"/>
<path d="M496.67,214.69 L501,215.73 L503.89,224.21 L505.7,224.56 L506.74,225.57 L508.53,231.01" fill="none" stroke="#fbf4ff" stroke-width="1.1" stroke-linejoin="round" opacity="0.95"/>
<path d="M496.67,214.69 L501.24,213.55 L506.55,217.97 L507,218.77 L512.16,223.98 L518.2,223.88" fill="none" stroke="#fbf4ff" stroke-width="1.1" stroke-linejoin="round" opacity="0.95"/>
<path d="M430,230 L438.53,229.86 L444.24,230.83 L452.62,232.52 L464.83,237.31 L472.21,239.33 L479.98,234.41 L483.23,236.06 L493.06,240.23 L505.7,241.94 L510.69,240.44 L523.23,245.78 L526.23,241.37 L539.48,244.3 L546.53,244.44 L553.1,247.6 L560,250" fill="none" stroke="#b27ff0" stroke-width="4.5" stroke-linejoin="round" opacity="0.35" filter="url(#blur1)"/>
<path d="M510.69,240.44 L512.67,239.87 L521.13,236.48 L523.14,231.91 L524.47,228.34 L529.62,228.41" fill="none" stroke="#b27ff0" stroke-width="4.5" stroke-linejoin="round" opacity="0.35" filter="url(#blur1)"/>
<path d="M546.53,244.44 L548.65,243.68 L552.18,249.26 L554.07,245.78 L559.37,249.85 L561.61,250.03" fill="none" stroke="#b27ff0" stroke-width="4.5" stroke-linejoin="round" opacity="0.35" filter="url(#blur1)"/>
<path d="M430,230 L438.53,229.86 L444.24,230.83 L452.62,232.52 L464.83,237.31 L472.21,239.33 L479.98,234.41 L483.23,236.06 L493.06,240.23 L505.7,241.94 L510.69,240.44 L523.23,245.78 L526.23,241.37 L539.48,244.3 L546.53,244.44 L553.1,247.6 L560,250" fill="none" stroke="#fbf4ff" stroke-width="1.1" stroke-linejoin="round" opacity="0.95"/>
<path d="M510.69,240.44 L512.67,239.87 L521.13,236.48 L523.14,231.91 L524.47,228.34 L529.62,228.41" fill="none" stroke="#fbf4ff" stroke-width="1.1" stroke-linejoin="round" opacity="0.95"/>
<path d="M546.53,244.44 L548.65,243.68 L552.18,249.26 L554.07,245.78 L559.37,249.85 L561.61,250.03" fill="none" stroke="#fbf4ff" stroke-width="1.1" stroke-linejoin="round" opacity="0.95"/>
<path d="M122,235 L126.96,234.94 L134.74,236.89 L134.02,240.43 L141.61,244.81 L146.8,249.32 L154.4,249.75 L152.46,255.15 L157.15,253.54 L163.02,258.32 L173.01,257.03 L173.98,265.31 L182.01,261.87 L186.87,269.85 L189.52,267.24 L196.4,271.05 L200,275" fill="none" stroke="#b27ff0" stroke-width="4.5" stroke-linejoin="round" opacity="0.35" filter="url(#blur1)"/>
<path d="M141.61,244.81 L144.57,245.55 L149.18,247.6 L154.69,249.8 L162.86,252.68 L166.01,254.43" fill="none" stroke="#b27ff0" stroke-width="4.5" stroke-linejoin="round" opacity="0.35" filter="url(#blur1)"/>
<path d="M173.98,265.31 L179.78,273.83 L180.74,280.9 L184.24,283.81 L185.61,290.62 L190.35,299.97" fill="none" stroke="#b27ff0" stroke-width="4.5" stroke-linejoin="round" opacity="0.35" filter="url(#blur1)"/>
<path d="M122,235 L126.96,234.94 L134.74,236.89 L134.02,240.43 L141.61,244.81 L146.8,249.32 L154.4,249.75 L152.46,255.15 L157.15,253.54 L163.02,258.32 L173.01,257.03 L173.98,265.31 L182.01,261.87 L186.87,269.85 L189.52,267.24 L196.4,271.05 L200,275" fill="none" stroke="#fbf4ff" stroke-width="1.1" stroke-linejoin="round" opacity="0.95"/>
<path d="M141.61,244.81 L144.57,245.55 L149.18,247.6 L154.69,249.8 L162.86,252.68 L166.01,254.43" fill="none" stroke="#fbf4ff" stroke-width="1.1" stroke-linejoin="round" opacity="0.95"/>
<path d="M173.98,265.31 L179.78,273.83 L180.74,280.9 L184.24,283.81 L185.61,290.62 L190.35,299.97" fill="none" stroke="#fbf4ff" stroke-width="1.1" stroke-linejoin="round" opacity="0.95"/>
<path d="M150,240 L158,241.7 L159.26,246.56 L161.81,251.02 L172.36,254.87 L178.05,254.16 L177.16,260.84 L186.55,260.85 L188.75,262.23 L197.66,267.81 L202.5,269.97 L203.57,274.48 L211.96,280.56 L213.83,282.17 L219.23,286.64 L227.08,287.32 L230,290" fill="none" stroke="#b27ff0" stroke-width="4.5" stroke-linejoin="round" opacity="0.35" filter="url(#blur1)"/>
<path d="M186.55,260.85 L189.19,262.57 L197.76,261.04 L203.16,258.97 L204.68,261.46 L212.67,258.41" fill="none" stroke="#b27ff0" stroke-width="4.5" stroke-linejoin="round" opacity="0.35" filter="url(#blur1)"/>
<path d="M177.16,260.84 L181.29,264.58 L184.03,270.16 L188.77,268.87 L196.85,275.28 L200.48,277.83" fill="none" stroke="#b27ff0" stroke-width="4.5" stroke-linejoin="round" opacity="0.35" filter="url(#blur1)"/>
<path d="M150,240 L158,241.7 L159.26,246.56 L161.81,251.02 L172.36,254.87 L178.05,254.16 L177.16,260.84 L186.55,260.85 L188.75,262.23 L197.66,267.81 L202.5,269.97 L203.57,274.48 L211.96,280.56 L213.83,282.17 L219.23,286.64 L227.08,287.32 L230,290" fill="none" stroke="#fbf4ff" stroke-width="1.1" stroke-linejoin="round" opacity="0.95"/>
<path d="M186.55,260.85 L189.19,262.57 L197.76,261.04 L203.16,258.97 L204.68,261.46 L212.67,258.41" fill="none" stroke="#fbf4ff" stroke-width="1.1" stroke-linejoin="round" opacity="0.95"/>
<path d="M177.16,260.84 L181.29,264.58 L184.03,270.16 L188.77,268.87 L196.85,275.28 L200.48,277.83" fill="none" stroke="#fbf4ff" stroke-width="1.1" stroke-linejoin="round" opacity="0.95"/>
<path d="M390,215 L395.58,221.23 L399.7,220.79 L395.46,226.96 L404.73,230.97 L405.88,240.6 L406,243.34 L415.08,249.79 L414.18,252.33 L416.35,260.87 L423.51,263.32 L422.81,268.42 L427.39,273.64 L429.54,278.99 L435.23,280.23 L437.38,287.75 L440,290" fill="none" stroke="#b27ff0" stroke-width="4.5" stroke-linejoin="round" opacity="0.35" filter="url(#blur1)"/>
<path d="M423.51,263.32 L426.23,270.57 L427.64,272.48 L428.15,273.65 L429.17,282.99 L430.75,285.45" fill="none" stroke="#b27ff0" stroke-width="4.5" stroke-linejoin="round" opacity="0.35" filter="url(#blur1)"/>
<path d="M414.18,252.33 L413.63,254.25 L409.03,259.08 L410.27,265.2 L406.97,270.6 L406.96,275.56" fill="none" stroke="#b27ff0" stroke-width="4.5" stroke-linejoin="round" opacity="0.35" filter="url(#blur1)"/>
<path d="M390,215 L395.58,221.23 L399.7,220.79 L395.46,226.96 L404.73,230.97 L405.88,240.6 L406,243.34 L415.08,249.79 L414.18,252.33 L416.35,260.87 L423.51,263.32 L422.81,268.42 L427.39,273.64 L429.54,278.99 L435.23,280.23 L437.38,287.75 L440,290" fill="none" stroke="#fbf4ff" stroke-width="1.1" stroke-linejoin="round" opacity="0.95"/>
<path d="M423.51,263.32 L426.23,270.57 L427.64,272.48 L428.15,273.65 L429.17,282.99 L430.75,285.45" fill="none" stroke="#fbf4ff" stroke-width="1.1" stroke-linejoin="round" opacity="0.95"/>
<path d="M414.18,252.33 L413.63,254.25 L409.03,259.08 L410.27,265.2 L406.97,270.6 L406.96,275.56" fill="none" stroke="#fbf4ff" stroke-width="1.1" stroke-linejoin="round" opacity="0.95"/>
<path d="M420,245 L420.38,250.77 L430.21,250.47 L430.81,250.97 L435.82,253.77 L442.55,261.15 L444.31,262.61 L442.85,259.49 L448.76,262.01 L453.13,271.39 L460.18,273.67 L459.02,270.27 L461.19,273.19 L465.2,277.73 L470.9,281.39 L476.74,283.28 L480,285" fill="none" stroke="#b27ff0" stroke-width="4.5" stroke-linejoin="round" opacity="0.35" filter="url(#blur1)"/>
<path d="M444.31,262.61 L450.21,265.12 L454.26,273.73 L459.05,273.67 L467.43,279.51 L469.86,285.06" fill="none" stroke="#b27ff0" stroke-width="4.5" stroke-linejoin="round" opacity="0.35" filter="url(#blur1)"/>
<path d="M461.19,273.19 L465.47,282.06 L465.44,285.19 L466.3,295.53 L472.74,298.75 L471.99,308.05" fill="none" stroke="#b27ff0" stroke-width="4.5" stroke-linejoin="round" opacity="0.35" filter="url(#blur1)"/>
<path d="M420,245 L420.38,250.77 L430.21,250.47 L430.81,250.97 L435.82,253.77 L442.55,261.15 L444.31,262.61 L442.85,259.49 L448.76,262.01 L453.13,271.39 L460.18,273.67 L459.02,270.27 L461.19,273.19 L465.2,277.73 L470.9,281.39 L476.74,283.28 L480,285" fill="none" stroke="#fbf4ff" stroke-width="1.1" stroke-linejoin="round" opacity="0.95"/>
<path d="M444.31,262.61 L450.21,265.12 L454.26,273.73 L459.05,273.67 L467.43,279.51 L469.86,285.06" fill="none" stroke="#fbf4ff" stroke-width="1.1" stroke-linejoin="round" opacity="0.95"/>
<path d="M461.19,273.19 L465.47,282.06 L465.44,285.19 L466.3,295.53 L472.74,298.75 L471.99,308.05" fill="none" stroke="#fbf4ff" stroke-width="1.1" stroke-linejoin="round" opacity="0.95"/>
<path d="M540,230 L539.8,231.33 L546.29,235.78 L548.15,240.25 L553.7,243.27 L557.38,240.94 L559.91,248.73 L566.97,250.1 L566.5,250.34 L575.61,256.37 L580.99,251.83 L580.24,261.49 L585.28,263.66 L586.78,258.7 L596.07,263.11 L596.74,266.38 L600,270" fill="none" stroke="#b27ff0" stroke-width="4.5" stroke-linejoin="round" opacity="0.35" filter="url(#blur1)"/>
<path d="M580.24,261.49 L582.82,266.7 L589.27,272.54 L589.17,272.9 L592.15,277.6 L596.67,285.26" fill="none" stroke="#b27ff0" stroke-width="4.5" stroke-linejoin="round" opacity="0.35" filter="url(#blur1)"/>
<path d="M546.29,235.78 L553.42,237.37 L555.61,239.65 L561.34,238.98 L568.87,236.33 L575.65,239.14" fill="none" stroke="#b27ff0" stroke-width="4.5" stroke-linejoin="round" opacity="0.35" filter="url(#blur1)"/>
<path d="M540,230 L539.8,231.33 L546.29,235.78 L548.15,240.25 L553.7,243.27 L557.38,240.94 L559.91,248.73 L566.97,250.1 L566.5,250.34 L575.61,256.37 L580.99,251.83 L580.24,261.49 L585.28,263.66 L586.78,258.7 L596.07,263.11 L596.74,266.38 L600,270" fill="none" stroke="#fbf4ff" stroke-width="1.1" stroke-linejoin="round" opacity="0.95"/>
<path d="M580.24,261.49 L582.82,266.7 L589.27,272.54 L589.17,272.9 L592.15,277.6 L596.67,285.26" fill="none" stroke="#fbf4ff" stroke-width="1.1" stroke-linejoin="round" opacity="0.95"/>
<path d="M546.29,235.78 L553.42,237.37 L555.61,239.65 L561.34,238.98 L568.87,236.33 L575.65,239.14" fill="none" stroke="#fbf4ff" stroke-width="1.1" stroke-linejoin="round" opacity="0.95"/>
<defs><linearGradient id="gTrB" x1="0" y1="0" x2="0" y2="1"><stop offset="0" stop-color="#6fb6ee" stop-opacity="0"/><stop offset="1" stop-color="#5aa8ea" stop-opacity="0.75"/></linearGradient><linearGradient id="gTrY" x1="0" y1="0" x2="0" y2="1"><stop offset="0" stop-color="#f2ec50" stop-opacity="0.8"/><stop offset="1" stop-color="#f2ec50" stop-opacity="0"/></linearGradient></defs>
<rect x="112.35" y="157.9" width="16.5" height="24.2" fill="url(#gTrB)" filter="url(#blur1)"/>
<rect x="234.65" y="162.9" width="16.5" height="24.2" fill="url(#gTrB)" filter="url(#blur1)"/>
<rect x="497.65" y="129.8" width="16.5" height="24.2" fill="url(#gTrB)" filter="url(#blur1)"/>
<rect x="333.8" y="161.4" width="15" height="20" fill="url(#gTrY)" filter="url(#blur1)"/>
<rect x="402.9" y="170.6" width="15" height="20" fill="url(#gTrY)" filter="url(#blur1)"/>
<rect x="457.3" y="149.7" width="15" height="20" fill="url(#gTrY)" filter="url(#blur1)"/>
<rect x="405" y="237.6" width="15" height="20" fill="url(#gTrY)" filter="url(#blur1)"/>
<rect x="131.9" y="212.5" width="15" height="20" fill="url(#gTrY)" filter="url(#blur1)"/>
<circle cx="201" cy="138" r="8.2" fill="url(#gBlueD)" />
<circle cx="190" cy="127" r="7" fill="#4f7fb8" opacity="0.6"/>
<circle cx="120.6" cy="184.3" r="11.3" fill="url(#gBlue)" />
<circle cx="242.9" cy="189.3" r="11.3" fill="url(#gBlue)" />
<circle cx="183" cy="226.1" r="11.3" fill="url(#gBlue)" />
<circle cx="309.9" cy="213.6" r="11.3" fill="url(#gBlue)" />
<circle cx="505.9" cy="156.2" r="11.3" fill="url(#gBlue)" />
<circle cx="510" cy="217.8" r="11.3" fill="url(#gBlue)" />
<circle cx="370.6" cy="253.4" r="11.3" fill="url(#gBlue)" />
<circle cx="139.4" cy="211.5" r="10.3" fill="url(#gYel)" />
<circle cx="341.3" cy="160.4" r="10.3" fill="url(#gYel)" />
<circle cx="410.4" cy="169.6" r="10.3" fill="url(#gYel)" />
<circle cx="464.8" cy="148.7" r="10.3" fill="url(#gYel)" />
<circle cx="412.5" cy="236.6" r="10.3" fill="url(#gYel)" />
<circle cx="160" cy="133" r="8.6" fill="url(#gRed)" />
<rect x="153.81" y="130.76" width="12.38" height="4.47" fill="#fff" />
<rect x="157.76" y="126.81" width="4.47" height="12.38" fill="#fff" />
<circle cx="229" cy="133" r="8.6" fill="url(#gRed)" />
<rect x="222.81" y="130.76" width="12.38" height="4.47" fill="#fff" />
<rect x="226.76" y="126.81" width="4.47" height="12.38" fill="#fff" />
<circle cx="305" cy="133" r="8.6" fill="url(#gRed)" />
<rect x="298.81" y="130.76" width="12.38" height="4.47" fill="#fff" />
<rect x="302.76" y="126.81" width="4.47" height="12.38" fill="#fff" />
<circle cx="381" cy="133" r="8.6" fill="url(#gRed)" />
<rect x="374.81" y="130.76" width="12.38" height="4.47" fill="#fff" />
<rect x="378.76" y="126.81" width="4.47" height="12.38" fill="#fff" />
<circle cx="459" cy="133" r="8.6" fill="url(#gRed)" />
<rect x="452.81" y="130.76" width="12.38" height="4.47" fill="#fff" />
<rect x="456.76" y="126.81" width="4.47" height="12.38" fill="#fff" />
<circle cx="547" cy="133" r="8.6" fill="url(#gRed)" />
<rect x="540.81" y="130.76" width="12.38" height="4.47" fill="#fff" />
<rect x="544.76" y="126.81" width="4.47" height="12.38" fill="#fff" />
<circle cx="146.9" cy="290.5" r="8.8" fill="url(#gTeal)" />
<rect x="140.92" y="288.56" width="11.97" height="3.87" fill="#fff" />
<circle cx="216.6" cy="290.5" r="8.8" fill="url(#gTeal)" />
<rect x="210.62" y="288.56" width="11.97" height="3.87" fill="#fff" />
<circle cx="292.4" cy="290.5" r="8.8" fill="url(#gTeal)" />
<rect x="286.42" y="288.56" width="11.97" height="3.87" fill="#fff" />
<circle cx="367.9" cy="290.5" r="8.8" fill="url(#gTeal)" />
<rect x="361.92" y="288.56" width="11.97" height="3.87" fill="#fff" />
<circle cx="446.3" cy="290.5" r="8.8" fill="url(#gTeal)" />
<rect x="440.32" y="288.56" width="11.97" height="3.87" fill="#fff" />
<circle cx="535" cy="290.5" r="8.8" fill="url(#gTeal)" />
<rect x="529.02" y="288.56" width="11.97" height="3.87" fill="#fff" />
<path d="M52.6,140 L52.6,116 Q52.6,106.5 63,106.5 L112,106.5" fill="none" stroke="#d48a6a" stroke-width="3"/>
<path d="M61.5,212 Q63,232.4 75,232.4 L116,232.4" fill="none" stroke="#5fb3a2" stroke-width="3"/>
<circle cx="52.6" cy="154.8" r="17.5" fill="url(#gRed)" />
<rect x="40" y="150.25" width="25.2" height="9.1" fill="#fff" />
<rect x="48.05" y="142.2" width="9.1" height="25.2" fill="#fff" />
<circle cx="52.2" cy="198.8" r="18" fill="url(#gTeal)" />
<rect x="39.96" y="194.84" width="24.48" height="7.92" fill="#fff" />
<circle cx="56.8" cy="448.2" r="16.3" fill="url(#gBlue)" />
<circle cx="215.6" cy="447" r="15.8" fill="url(#gYel)" />
<circle cx="361" cy="448" r="14.3" fill="url(#gRed)" />
<rect x="350.7" y="444.28" width="20.59" height="7.44" fill="#fff" />
<rect x="357.28" y="437.7" width="7.44" height="20.59" fill="#fff" />
<circle cx="514.2" cy="448" r="14.6" fill="url(#gTeal)" />
<rect x="504.27" y="444.79" width="19.86" height="6.42" fill="#fff" />
<text x="89" y="457.7" font-size="28" textLength="76" lengthAdjust="spacingAndGlyphs" >cation</text>
<text x="240" y="457.7" font-size="28" textLength="70" lengthAdjust="spacingAndGlyphs" >anion</text>
<text x="382.5" y="457.7" font-size="28" textLength="78" lengthAdjust="spacingAndGlyphs" >anode</text>
<text x="540" y="457.7" font-size="28" textLength="100.5" lengthAdjust="spacingAndGlyphs" >cathode</text>
</svg>
</body></html>
